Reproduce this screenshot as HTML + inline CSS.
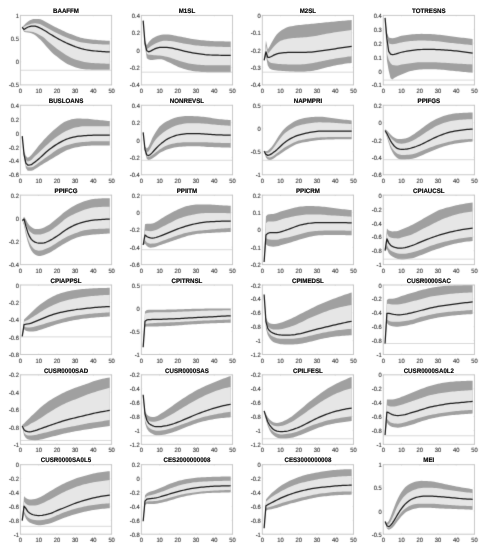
<!DOCTYPE html>
<html><head><meta charset="utf-8"><style>
html,body{margin:0;padding:0;background:#fff;}
body{width:487px;height:550px;overflow:hidden;}
svg{display:block;}
#w{width:487px;height:550px;filter:grayscale(1);}
.t{text-rendering:geometricPrecision;font-family:"Liberation Sans",sans-serif;font-size:6.20px;fill:#333333;stroke:#333;stroke-width:0.12px;}
.ti{text-rendering:geometricPrecision;font-family:"Liberation Sans",sans-serif;font-size:6.60px;font-weight:bold;fill:#000;stroke:#000;stroke-width:0.18px;}
</style></head><body><div id="w">
<svg width="487" height="550" viewBox="0 0 487 550">
<defs><filter id="bl" filterUnits="userSpaceOnUse" x="0" y="0" width="487" height="550" color-interpolation-filters="sRGB"><feConvolveMatrix order="3" kernelMatrix="1 8 1 8 70 8 1 8 1" divisor="106" edgeMode="duplicate" preserveAlpha="true"/></filter></defs>
<g filter="url(#bl)"><rect width="487" height="550" fill="#fff"/>
<g><polygon points="22.22,26.89 24.05,25.30 25.87,23.30 27.70,21.77 29.52,20.62 31.34,19.72 33.17,19.08 34.99,18.96 36.82,18.96 38.64,18.96 40.46,19.25 42.29,20.03 44.11,20.89 45.94,21.89 47.76,22.97 49.58,24.01 51.41,25.05 53.23,26.03 55.06,26.93 56.88,27.78 58.70,28.65 60.53,29.52 62.35,30.40 64.18,31.29 66.00,32.18 67.82,32.98 69.65,33.70 71.47,34.36 73.30,35.01 75.12,35.67 76.94,36.38 78.77,37.09 80.59,37.65 82.42,38.11 84.24,38.49 86.06,38.78 87.89,39.04 89.71,39.27 91.54,39.48 93.36,39.67 95.18,39.84 97.01,40.00 98.83,40.15 100.66,40.29 102.48,40.43 104.30,40.55 106.13,40.66 107.95,40.76 109.78,40.84 109.78,69.72 107.95,69.72 106.13,69.72 104.30,69.72 102.48,69.72 100.66,69.72 98.83,69.72 97.01,69.72 95.18,69.72 93.36,69.71 91.54,69.68 89.71,69.62 87.89,69.53 86.06,69.42 84.24,69.29 82.42,69.05 80.59,68.69 78.77,68.24 76.94,67.73 75.12,67.20 73.30,66.58 71.47,65.86 69.65,65.04 67.82,64.13 66.00,63.16 64.18,62.03 62.35,60.74 60.53,59.39 58.70,57.98 56.88,56.57 55.06,55.15 53.23,53.64 51.41,51.95 49.58,50.11 47.76,48.12 45.94,45.89 44.11,43.67 42.29,41.70 40.46,39.86 38.64,38.17 36.82,36.54 34.99,35.12 33.17,34.11 31.34,33.31 29.52,32.75 27.70,32.47 25.87,32.21 24.05,31.65 22.22,27.83" fill="#a0a0a0"/><polygon points="22.22,27.08 24.05,26.67 25.87,25.86 27.70,25.07 29.52,24.41 31.34,23.83 33.17,23.38 34.99,23.33 36.82,23.51 38.64,23.82 40.46,24.36 42.29,25.26 44.11,26.20 45.94,27.20 47.76,28.26 49.58,29.29 51.41,30.33 53.23,31.31 55.06,32.21 56.88,33.06 58.70,33.94 60.53,34.82 62.35,35.68 64.18,36.52 66.00,37.33 67.82,38.06 69.65,38.74 71.47,39.39 73.30,40.00 75.12,40.59 76.94,41.16 78.77,41.70 80.59,42.14 82.42,42.53 84.24,42.84 86.06,43.10 87.89,43.32 89.71,43.53 91.54,43.72 93.36,43.88 95.18,44.01 97.01,44.12 98.83,44.22 100.66,44.32 102.48,44.41 104.30,44.49 106.13,44.55 107.95,44.60 109.78,44.62 109.78,63.68 107.95,63.67 106.13,63.64 104.30,63.59 102.48,63.53 100.66,63.45 98.83,63.36 97.01,63.27 95.18,63.17 93.36,63.06 91.54,62.90 89.71,62.70 87.89,62.46 86.06,62.18 84.24,61.89 82.42,61.52 80.59,61.09 78.77,60.60 76.94,60.05 75.12,59.45 73.30,58.76 71.47,57.97 69.65,57.08 67.82,56.10 66.00,55.06 64.18,53.80 62.35,52.44 60.53,51.22 58.70,50.00 56.88,48.66 55.06,47.19 53.23,45.70 51.41,44.27 49.58,42.83 47.76,41.28 45.94,39.51 44.11,37.84 42.29,36.55 40.46,35.47 38.64,34.49 36.82,33.49 34.99,32.64 33.17,32.09 31.34,31.67 29.52,31.42 27.70,31.33 25.87,31.24 24.05,30.70 22.22,27.64" fill="#e6e6e6"/><line x1="20.40" y1="70.28" x2="111.60" y2="70.28" stroke="#c8c8c8" stroke-width="0.70"/><polyline points="22.22,27.26 24.05,29.52 25.87,28.27 27.70,27.23 29.52,26.52 31.34,26.13 33.17,26.13 34.99,26.20 36.82,26.65 38.64,27.32 40.46,28.24 42.29,29.18 44.11,30.21 45.94,31.34 47.76,32.56 49.58,33.69 51.41,34.77 53.23,35.86 55.06,36.97 56.88,38.07 58.70,39.09 60.53,40.04 62.35,40.96 64.18,41.86 66.00,42.74 67.82,43.57 69.65,44.39 71.47,45.18 73.30,45.93 75.12,46.62 76.94,47.26 78.77,47.88 80.59,48.46 82.42,48.98 84.24,49.42 86.06,49.76 87.89,50.07 89.71,50.35 91.54,50.60 93.36,50.81 95.18,51.00 97.01,51.17 98.83,51.33 100.66,51.48 102.48,51.62 104.30,51.74 106.13,51.84 107.95,51.92 109.78,51.98" fill="none" stroke="#1a1a1a" stroke-width="1.25" stroke-linejoin="round"/><rect x="20.40" y="15.40" width="91.20" height="69.50" fill="none" stroke="#c6c6c6" stroke-width="0.95"/><line x1="20.40" y1="84.90" x2="20.40" y2="84.00" stroke="#c6c6c6" stroke-width="0.5"/><line x1="20.40" y1="15.40" x2="20.40" y2="16.30" stroke="#c6c6c6" stroke-width="0.5"/><line x1="38.64" y1="84.90" x2="38.64" y2="84.00" stroke="#c6c6c6" stroke-width="0.5"/><line x1="38.64" y1="15.40" x2="38.64" y2="16.30" stroke="#c6c6c6" stroke-width="0.5"/><line x1="56.88" y1="84.90" x2="56.88" y2="84.00" stroke="#c6c6c6" stroke-width="0.5"/><line x1="56.88" y1="15.40" x2="56.88" y2="16.30" stroke="#c6c6c6" stroke-width="0.5"/><line x1="75.12" y1="84.90" x2="75.12" y2="84.00" stroke="#c6c6c6" stroke-width="0.5"/><line x1="75.12" y1="15.40" x2="75.12" y2="16.30" stroke="#c6c6c6" stroke-width="0.5"/><line x1="93.36" y1="84.90" x2="93.36" y2="84.00" stroke="#c6c6c6" stroke-width="0.5"/><line x1="93.36" y1="15.40" x2="93.36" y2="16.30" stroke="#c6c6c6" stroke-width="0.5"/><line x1="111.60" y1="84.90" x2="111.60" y2="84.00" stroke="#c6c6c6" stroke-width="0.5"/><line x1="111.60" y1="15.40" x2="111.60" y2="16.30" stroke="#c6c6c6" stroke-width="0.5"/><line x1="20.40" y1="84.90" x2="21.30" y2="84.90" stroke="#c6c6c6" stroke-width="0.5"/><line x1="111.60" y1="84.90" x2="110.70" y2="84.90" stroke="#c6c6c6" stroke-width="0.5"/><line x1="20.40" y1="61.73" x2="21.30" y2="61.73" stroke="#c6c6c6" stroke-width="0.5"/><line x1="111.60" y1="61.73" x2="110.70" y2="61.73" stroke="#c6c6c6" stroke-width="0.5"/><line x1="20.40" y1="38.57" x2="21.30" y2="38.57" stroke="#c6c6c6" stroke-width="0.5"/><line x1="111.60" y1="38.57" x2="110.70" y2="38.57" stroke="#c6c6c6" stroke-width="0.5"/><line x1="20.40" y1="15.40" x2="21.30" y2="15.40" stroke="#c6c6c6" stroke-width="0.5"/><line x1="111.60" y1="15.40" x2="110.70" y2="15.40" stroke="#c6c6c6" stroke-width="0.5"/><text transform="translate(18.90,87.49) scale(0.935,1)" text-anchor="end" class="t">-0.5</text><text transform="translate(18.90,64.32) scale(0.935,1)" text-anchor="end" class="t">0</text><text transform="translate(18.90,41.15) scale(0.935,1)" text-anchor="end" class="t">0.5</text><text transform="translate(18.90,17.99) scale(0.935,1)" text-anchor="end" class="t">1</text><text transform="translate(20.40,92.93) scale(0.935,1)" text-anchor="middle" class="t">0</text><text transform="translate(38.64,92.93) scale(0.935,1)" text-anchor="middle" class="t">10</text><text transform="translate(56.88,92.93) scale(0.935,1)" text-anchor="middle" class="t">20</text><text transform="translate(75.12,92.93) scale(0.935,1)" text-anchor="middle" class="t">30</text><text transform="translate(93.36,92.93) scale(0.935,1)" text-anchor="middle" class="t">40</text><text transform="translate(111.60,92.93) scale(0.935,1)" text-anchor="middle" class="t">50</text></g><g><polygon points="143.17,20.66 145.00,40.60 146.82,45.19 148.65,42.24 150.47,40.16 152.29,38.61 154.12,37.47 155.94,36.55 157.77,35.83 159.59,35.24 161.41,34.72 163.24,34.45 165.06,34.43 166.89,34.43 168.71,34.49 170.53,34.73 172.36,35.06 174.18,35.40 176.01,35.74 177.83,36.13 179.65,36.50 181.48,36.87 183.30,37.25 185.13,37.62 186.95,37.97 188.77,38.30 190.60,38.63 192.42,38.94 194.25,39.23 196.07,39.51 197.89,39.74 199.72,39.96 201.54,40.16 203.37,40.34 205.19,40.51 207.01,40.65 208.84,40.79 210.66,40.92 212.49,41.05 214.31,41.15 216.13,41.22 217.96,41.26 219.78,41.29 221.61,41.33 223.43,41.36 225.25,41.38 227.08,41.40 228.90,41.41 230.73,41.42 230.73,72.36 228.90,72.36 227.08,72.36 225.25,72.36 223.43,72.36 221.61,72.36 219.78,72.36 217.96,72.36 216.13,72.36 214.31,72.34 212.49,72.31 210.66,72.27 208.84,72.22 207.01,72.17 205.19,72.10 203.37,72.01 201.54,71.90 199.72,71.77 197.89,71.62 196.07,71.44 194.25,71.20 192.42,70.91 190.60,70.58 188.77,70.21 186.95,69.80 185.13,69.30 183.30,68.72 181.48,68.08 179.65,67.41 177.83,66.69 176.01,65.84 174.18,64.91 172.36,63.96 170.53,63.07 168.71,62.28 166.89,61.43 165.06,60.56 163.24,59.81 161.41,59.30 159.59,59.15 157.77,59.26 155.94,59.45 154.12,59.66 152.29,59.94 150.47,60.09 148.65,59.62 146.82,58.17 145.00,47.15 143.17,20.66" fill="#a0a0a0"/><polygon points="143.17,20.66 145.00,42.53 146.82,48.96 148.65,47.96 150.47,46.58 152.29,45.21 154.12,44.15 155.94,43.21 157.77,42.44 159.59,41.78 161.41,41.19 163.24,40.86 165.06,40.85 166.89,40.85 168.71,40.89 170.53,41.08 172.36,41.34 174.18,41.62 176.01,41.96 177.83,42.35 179.65,42.71 181.48,43.06 183.30,43.40 185.13,43.73 186.95,44.04 188.77,44.33 190.60,44.62 192.42,44.89 194.25,45.15 196.07,45.39 197.89,45.59 199.72,45.77 201.54,45.93 203.37,46.08 205.19,46.21 207.01,46.32 208.84,46.41 210.66,46.49 212.49,46.56 214.31,46.62 216.13,46.68 217.96,46.74 219.78,46.80 221.61,46.85 223.43,46.91 225.25,46.95 227.08,47.00 228.90,47.04 230.73,47.08 230.73,65.19 228.90,65.19 227.08,65.19 225.25,65.19 223.43,65.19 221.61,65.19 219.78,65.19 217.96,65.19 216.13,65.19 214.31,65.19 212.49,65.19 210.66,65.19 208.84,65.19 207.01,65.19 205.19,65.15 203.37,65.07 201.54,64.94 199.72,64.80 197.89,64.64 196.07,64.47 194.25,64.26 192.42,64.01 190.60,63.72 188.77,63.40 186.95,63.04 185.13,62.58 183.30,62.06 181.48,61.50 179.65,60.93 177.83,60.35 176.01,59.71 174.18,59.04 172.36,58.38 170.53,57.78 168.71,57.30 166.89,56.85 165.06,56.43 163.24,56.07 161.41,55.76 159.59,55.53 157.77,55.38 155.94,55.25 154.12,55.14 152.29,55.00 150.47,54.86 148.65,54.64 146.82,53.64 145.00,45.40 143.17,20.66" fill="#e6e6e6"/><line x1="141.35" y1="72.17" x2="232.55" y2="72.17" stroke="#c8c8c8" stroke-width="0.70"/><polyline points="143.17,20.66 145.00,43.49 146.82,50.81 148.65,51.79 150.47,51.22 152.29,50.12 154.12,49.20 155.94,48.45 157.77,47.88 159.59,47.48 161.41,47.34 163.24,47.27 165.06,47.30 166.89,47.41 168.71,47.58 170.53,47.87 172.36,48.23 174.18,48.61 176.01,49.03 177.83,49.48 179.65,49.93 181.48,50.38 183.30,50.84 185.13,51.29 186.95,51.71 188.77,52.09 190.60,52.46 192.42,52.81 194.25,53.13 196.07,53.44 197.89,53.71 199.72,53.98 201.54,54.23 203.37,54.46 205.19,54.66 207.01,54.80 208.84,54.91 210.66,55.00 212.49,55.07 214.31,55.13 216.13,55.18 217.96,55.22 219.78,55.25 221.61,55.29 223.43,55.32 225.25,55.34 227.08,55.36 228.90,55.37 230.73,55.38" fill="none" stroke="#1a1a1a" stroke-width="1.25" stroke-linejoin="round"/><rect x="141.35" y="15.40" width="91.20" height="69.50" fill="none" stroke="#c6c6c6" stroke-width="0.95"/><line x1="141.35" y1="84.90" x2="141.35" y2="84.00" stroke="#c6c6c6" stroke-width="0.5"/><line x1="141.35" y1="15.40" x2="141.35" y2="16.30" stroke="#c6c6c6" stroke-width="0.5"/><line x1="159.59" y1="84.90" x2="159.59" y2="84.00" stroke="#c6c6c6" stroke-width="0.5"/><line x1="159.59" y1="15.40" x2="159.59" y2="16.30" stroke="#c6c6c6" stroke-width="0.5"/><line x1="177.83" y1="84.90" x2="177.83" y2="84.00" stroke="#c6c6c6" stroke-width="0.5"/><line x1="177.83" y1="15.40" x2="177.83" y2="16.30" stroke="#c6c6c6" stroke-width="0.5"/><line x1="196.07" y1="84.90" x2="196.07" y2="84.00" stroke="#c6c6c6" stroke-width="0.5"/><line x1="196.07" y1="15.40" x2="196.07" y2="16.30" stroke="#c6c6c6" stroke-width="0.5"/><line x1="214.31" y1="84.90" x2="214.31" y2="84.00" stroke="#c6c6c6" stroke-width="0.5"/><line x1="214.31" y1="15.40" x2="214.31" y2="16.30" stroke="#c6c6c6" stroke-width="0.5"/><line x1="232.55" y1="84.90" x2="232.55" y2="84.00" stroke="#c6c6c6" stroke-width="0.5"/><line x1="232.55" y1="15.40" x2="232.55" y2="16.30" stroke="#c6c6c6" stroke-width="0.5"/><line x1="141.35" y1="84.90" x2="142.25" y2="84.90" stroke="#c6c6c6" stroke-width="0.5"/><line x1="232.55" y1="84.90" x2="231.65" y2="84.90" stroke="#c6c6c6" stroke-width="0.5"/><line x1="141.35" y1="67.53" x2="142.25" y2="67.53" stroke="#c6c6c6" stroke-width="0.5"/><line x1="232.55" y1="67.53" x2="231.65" y2="67.53" stroke="#c6c6c6" stroke-width="0.5"/><line x1="141.35" y1="50.15" x2="142.25" y2="50.15" stroke="#c6c6c6" stroke-width="0.5"/><line x1="232.55" y1="50.15" x2="231.65" y2="50.15" stroke="#c6c6c6" stroke-width="0.5"/><line x1="141.35" y1="32.77" x2="142.25" y2="32.77" stroke="#c6c6c6" stroke-width="0.5"/><line x1="232.55" y1="32.77" x2="231.65" y2="32.77" stroke="#c6c6c6" stroke-width="0.5"/><line x1="141.35" y1="15.40" x2="142.25" y2="15.40" stroke="#c6c6c6" stroke-width="0.5"/><line x1="232.55" y1="15.40" x2="231.65" y2="15.40" stroke="#c6c6c6" stroke-width="0.5"/><text transform="translate(139.85,87.49) scale(0.935,1)" text-anchor="end" class="t">-0.4</text><text transform="translate(139.85,70.11) scale(0.935,1)" text-anchor="end" class="t">-0.2</text><text transform="translate(139.85,52.74) scale(0.935,1)" text-anchor="end" class="t">0</text><text transform="translate(139.85,35.36) scale(0.935,1)" text-anchor="end" class="t">0.2</text><text transform="translate(139.85,17.99) scale(0.935,1)" text-anchor="end" class="t">0.4</text><text transform="translate(141.35,92.93) scale(0.935,1)" text-anchor="middle" class="t">0</text><text transform="translate(159.59,92.93) scale(0.935,1)" text-anchor="middle" class="t">10</text><text transform="translate(177.83,92.93) scale(0.935,1)" text-anchor="middle" class="t">20</text><text transform="translate(196.07,92.93) scale(0.935,1)" text-anchor="middle" class="t">30</text><text transform="translate(214.31,92.93) scale(0.935,1)" text-anchor="middle" class="t">40</text><text transform="translate(232.55,92.93) scale(0.935,1)" text-anchor="middle" class="t">50</text></g><g><polygon points="264.12,60.28 265.95,40.48 267.77,49.48 269.60,46.44 271.42,42.98 273.24,39.68 275.07,36.78 276.89,34.31 278.72,32.41 280.54,30.90 282.36,29.71 284.19,28.65 286.01,27.75 287.84,27.06 289.66,26.59 291.48,26.21 293.31,25.88 295.13,25.60 296.96,25.35 298.78,25.12 300.60,24.90 302.43,24.70 304.25,24.52 306.08,24.35 307.90,24.19 309.72,24.01 311.55,23.82 313.37,23.64 315.20,23.46 317.02,23.28 318.84,23.10 320.67,22.91 322.49,22.73 324.32,22.55 326.14,22.37 327.96,22.19 329.79,22.00 331.61,21.81 333.44,21.63 335.26,21.44 337.08,21.27 338.91,21.11 340.73,20.95 342.56,20.79 344.38,20.64 346.20,20.50 348.03,20.36 349.85,20.23 351.68,20.10 351.68,62.93 349.85,63.13 348.03,63.36 346.20,63.60 344.38,63.87 342.56,64.15 340.73,64.45 338.91,64.76 337.08,65.09 335.26,65.44 333.44,65.83 331.61,66.25 329.79,66.68 327.96,67.11 326.14,67.58 324.32,68.08 322.49,68.58 320.67,69.06 318.84,69.49 317.02,69.88 315.20,70.27 313.37,70.63 311.55,70.94 309.72,71.18 307.90,71.34 306.08,71.50 304.25,71.63 302.43,71.73 300.60,71.79 298.78,71.79 296.96,71.74 295.13,71.66 293.31,71.57 291.48,71.47 289.66,71.38 287.84,71.29 286.01,71.19 284.19,71.08 282.36,70.96 280.54,70.82 278.72,70.69 276.89,70.54 275.07,70.35 273.24,70.08 271.42,69.58 269.60,68.61 267.77,65.51 265.95,56.32 264.12,60.28" fill="#a0a0a0"/><polygon points="264.12,60.28 265.95,45.19 267.77,53.63 269.60,51.75 271.42,49.44 273.24,47.18 275.07,45.21 276.89,43.49 278.72,41.99 280.54,40.81 282.36,40.13 284.19,39.58 286.01,39.13 287.84,38.76 289.66,38.48 291.48,38.27 293.31,38.10 295.13,37.97 296.96,37.84 298.78,37.72 300.60,37.58 302.43,37.44 304.25,37.31 306.08,37.18 307.90,37.02 309.72,36.83 311.55,36.59 313.37,36.31 315.20,36.00 317.02,35.67 318.84,35.35 320.67,35.00 322.49,34.62 324.32,34.24 326.14,33.87 327.96,33.52 329.79,33.20 331.61,32.90 333.44,32.61 335.26,32.32 337.08,32.05 338.91,31.79 340.73,31.53 342.56,31.27 344.38,31.02 346.20,30.78 348.03,30.55 349.85,30.32 351.68,30.10 351.68,56.14 349.85,56.38 348.03,56.62 346.20,56.88 344.38,57.15 342.56,57.42 340.73,57.70 338.91,57.99 337.08,58.29 335.26,58.60 333.44,58.92 331.61,59.25 329.79,59.59 327.96,59.94 326.14,60.29 324.32,60.65 322.49,61.02 320.67,61.39 318.84,61.76 317.02,62.14 315.20,62.56 313.37,62.96 311.55,63.33 309.72,63.62 307.90,63.83 306.08,64.04 304.25,64.21 302.43,64.35 300.60,64.43 298.78,64.43 296.96,64.43 295.13,64.43 293.31,64.43 291.48,64.43 289.66,64.43 287.84,64.40 286.01,64.33 284.19,64.24 282.36,64.14 280.54,64.04 278.72,63.91 276.89,63.75 275.07,63.55 273.24,63.29 271.42,62.89 269.60,62.19 267.77,60.11 265.95,52.74 264.12,60.28" fill="#e6e6e6"/><line x1="262.30" y1="72.17" x2="353.50" y2="72.17" stroke="#c8c8c8" stroke-width="0.70"/><polyline points="264.12,60.28 265.95,51.79 267.77,57.42 269.60,57.26 271.42,56.47 273.24,55.42 275.07,54.61 276.89,53.93 278.72,53.48 280.54,53.16 282.36,52.94 284.19,52.73 286.01,52.56 287.84,52.43 289.66,52.36 291.48,52.36 293.31,52.36 295.13,52.36 296.96,52.36 298.78,52.36 300.60,52.36 302.43,52.34 304.25,52.31 306.08,52.27 307.90,52.21 309.72,52.15 311.55,52.03 313.37,51.86 315.20,51.65 317.02,51.43 318.84,51.21 320.67,50.98 322.49,50.73 324.32,50.47 326.14,50.20 327.96,49.93 329.79,49.65 331.61,49.36 333.44,49.06 335.26,48.76 337.08,48.47 338.91,48.19 340.73,47.91 342.56,47.64 344.38,47.37 346.20,47.11 348.03,46.84 349.85,46.58 351.68,46.33" fill="none" stroke="#1a1a1a" stroke-width="1.25" stroke-linejoin="round"/><rect x="262.30" y="15.40" width="91.20" height="69.50" fill="none" stroke="#c6c6c6" stroke-width="0.95"/><line x1="262.30" y1="84.90" x2="262.30" y2="84.00" stroke="#c6c6c6" stroke-width="0.5"/><line x1="262.30" y1="15.40" x2="262.30" y2="16.30" stroke="#c6c6c6" stroke-width="0.5"/><line x1="280.54" y1="84.90" x2="280.54" y2="84.00" stroke="#c6c6c6" stroke-width="0.5"/><line x1="280.54" y1="15.40" x2="280.54" y2="16.30" stroke="#c6c6c6" stroke-width="0.5"/><line x1="298.78" y1="84.90" x2="298.78" y2="84.00" stroke="#c6c6c6" stroke-width="0.5"/><line x1="298.78" y1="15.40" x2="298.78" y2="16.30" stroke="#c6c6c6" stroke-width="0.5"/><line x1="317.02" y1="84.90" x2="317.02" y2="84.00" stroke="#c6c6c6" stroke-width="0.5"/><line x1="317.02" y1="15.40" x2="317.02" y2="16.30" stroke="#c6c6c6" stroke-width="0.5"/><line x1="335.26" y1="84.90" x2="335.26" y2="84.00" stroke="#c6c6c6" stroke-width="0.5"/><line x1="335.26" y1="15.40" x2="335.26" y2="16.30" stroke="#c6c6c6" stroke-width="0.5"/><line x1="353.50" y1="84.90" x2="353.50" y2="84.00" stroke="#c6c6c6" stroke-width="0.5"/><line x1="353.50" y1="15.40" x2="353.50" y2="16.30" stroke="#c6c6c6" stroke-width="0.5"/><line x1="262.30" y1="84.90" x2="263.20" y2="84.90" stroke="#c6c6c6" stroke-width="0.5"/><line x1="353.50" y1="84.90" x2="352.60" y2="84.90" stroke="#c6c6c6" stroke-width="0.5"/><line x1="262.30" y1="67.53" x2="263.20" y2="67.53" stroke="#c6c6c6" stroke-width="0.5"/><line x1="353.50" y1="67.53" x2="352.60" y2="67.53" stroke="#c6c6c6" stroke-width="0.5"/><line x1="262.30" y1="50.15" x2="263.20" y2="50.15" stroke="#c6c6c6" stroke-width="0.5"/><line x1="353.50" y1="50.15" x2="352.60" y2="50.15" stroke="#c6c6c6" stroke-width="0.5"/><line x1="262.30" y1="32.77" x2="263.20" y2="32.77" stroke="#c6c6c6" stroke-width="0.5"/><line x1="353.50" y1="32.77" x2="352.60" y2="32.77" stroke="#c6c6c6" stroke-width="0.5"/><line x1="262.30" y1="15.40" x2="263.20" y2="15.40" stroke="#c6c6c6" stroke-width="0.5"/><line x1="353.50" y1="15.40" x2="352.60" y2="15.40" stroke="#c6c6c6" stroke-width="0.5"/><text transform="translate(260.80,87.49) scale(0.935,1)" text-anchor="end" class="t">-0.4</text><text transform="translate(260.80,70.11) scale(0.935,1)" text-anchor="end" class="t">-0.3</text><text transform="translate(260.80,52.74) scale(0.935,1)" text-anchor="end" class="t">-0.2</text><text transform="translate(260.80,35.36) scale(0.935,1)" text-anchor="end" class="t">-0.1</text><text transform="translate(260.80,17.99) scale(0.935,1)" text-anchor="end" class="t">0</text><text transform="translate(262.30,92.93) scale(0.935,1)" text-anchor="middle" class="t">0</text><text transform="translate(280.54,92.93) scale(0.935,1)" text-anchor="middle" class="t">10</text><text transform="translate(298.78,92.93) scale(0.935,1)" text-anchor="middle" class="t">20</text><text transform="translate(317.02,92.93) scale(0.935,1)" text-anchor="middle" class="t">30</text><text transform="translate(335.26,92.93) scale(0.935,1)" text-anchor="middle" class="t">40</text><text transform="translate(353.50,92.93) scale(0.935,1)" text-anchor="middle" class="t">50</text></g><g><polygon points="385.07,17.83 386.90,32.63 388.72,37.57 390.55,38.05 392.37,38.21 394.19,38.03 396.02,37.57 397.84,36.96 399.67,36.34 401.49,35.83 403.31,35.50 405.14,35.20 406.96,34.93 408.79,34.69 410.61,34.50 412.43,34.34 414.26,34.19 416.08,34.05 417.91,33.94 419.73,33.88 421.55,33.87 423.38,33.89 425.20,33.92 427.03,33.96 428.85,34.01 430.67,34.07 432.50,34.17 434.32,34.30 436.15,34.46 437.97,34.64 439.79,34.82 441.62,35.04 443.44,35.30 445.27,35.57 447.09,35.85 448.91,36.11 450.74,36.34 452.56,36.56 454.39,36.77 456.21,36.99 458.03,37.20 459.86,37.42 461.68,37.64 463.51,37.86 465.33,38.07 467.15,38.29 468.98,38.51 470.80,38.73 472.63,38.95 472.63,72.73 470.80,72.56 468.98,72.40 467.15,72.23 465.33,72.06 463.51,71.89 461.68,71.71 459.86,71.54 458.03,71.36 456.21,71.18 454.39,71.00 452.56,70.82 450.74,70.63 448.91,70.45 447.09,70.25 445.27,70.05 443.44,69.85 441.62,69.67 439.79,69.54 437.97,69.43 436.15,69.33 434.32,69.24 432.50,69.18 430.67,69.15 428.85,69.16 427.03,69.21 425.20,69.28 423.38,69.37 421.55,69.48 419.73,69.60 417.91,69.78 416.08,70.02 414.26,70.31 412.43,70.63 410.61,71.01 408.79,71.52 406.96,72.16 405.14,72.88 403.31,73.64 401.49,74.42 399.67,75.23 397.84,76.11 396.02,77.07 394.19,78.11 392.37,79.59 390.55,78.29 388.72,70.87 386.90,60.34 385.07,17.83" fill="#a0a0a0"/><polygon points="385.07,17.83 386.90,36.31 388.72,43.19 390.55,43.99 392.37,44.24 394.19,44.12 396.02,43.78 397.84,43.32 399.67,42.84 401.49,42.43 403.31,42.12 405.14,41.83 406.96,41.55 408.79,41.31 410.61,41.10 412.43,40.94 414.26,40.79 416.08,40.65 417.91,40.55 419.73,40.48 421.55,40.48 423.38,40.52 425.20,40.59 427.03,40.68 428.85,40.78 430.67,40.87 432.50,40.96 434.32,41.05 436.15,41.16 437.97,41.28 439.79,41.43 441.62,41.63 443.44,41.89 445.27,42.18 447.09,42.46 448.91,42.71 450.74,42.92 452.56,43.10 454.39,43.28 456.21,43.45 458.03,43.63 459.86,43.81 461.68,44.00 463.51,44.19 465.33,44.39 467.15,44.58 468.98,44.78 470.80,44.98 472.63,45.18 472.63,64.43 470.80,64.34 468.98,64.24 467.15,64.15 465.33,64.05 463.51,63.95 461.68,63.85 459.86,63.75 458.03,63.65 456.21,63.54 454.39,63.43 452.56,63.32 450.74,63.21 448.91,63.10 447.09,62.99 445.27,62.87 443.44,62.76 441.62,62.65 439.79,62.55 437.97,62.46 436.15,62.36 434.32,62.27 432.50,62.20 430.67,62.17 428.85,62.17 427.03,62.17 425.20,62.17 423.38,62.17 421.55,62.17 419.73,62.19 417.91,62.31 416.08,62.50 414.26,62.74 412.43,62.98 410.61,63.20 408.79,63.42 406.96,63.65 405.14,63.90 403.31,64.19 401.49,64.52 399.67,65.06 397.84,65.52 396.02,65.53 394.19,65.33 392.37,64.98 390.55,63.29 388.72,60.01 386.90,53.20 385.07,17.83" fill="#e6e6e6"/><line x1="383.25" y1="80.09" x2="474.45" y2="80.09" stroke="#c8c8c8" stroke-width="0.70"/><polyline points="385.07,17.83 386.90,38.92 388.72,51.47 390.55,54.20 392.37,54.57 394.19,54.27 396.02,53.87 397.84,53.34 399.67,52.77 401.49,52.26 403.31,51.86 405.14,51.49 406.96,51.15 408.79,50.84 410.61,50.57 412.43,50.33 414.26,50.10 416.08,49.89 417.91,49.71 419.73,49.58 421.55,49.50 423.38,49.45 425.20,49.40 427.03,49.37 428.85,49.34 430.67,49.34 432.50,49.37 434.32,49.44 436.15,49.53 437.97,49.63 439.79,49.72 441.62,49.81 443.44,49.91 445.27,50.02 447.09,50.14 448.91,50.27 450.74,50.41 452.56,50.58 454.39,50.77 456.21,50.96 458.03,51.17 459.86,51.38 461.68,51.59 463.51,51.82 465.33,52.06 467.15,52.30 468.98,52.56 470.80,52.82 472.63,53.10" fill="none" stroke="#1a1a1a" stroke-width="1.25" stroke-linejoin="round"/><rect x="383.25" y="15.40" width="91.20" height="69.50" fill="none" stroke="#c6c6c6" stroke-width="0.95"/><line x1="383.25" y1="84.90" x2="383.25" y2="84.00" stroke="#c6c6c6" stroke-width="0.5"/><line x1="383.25" y1="15.40" x2="383.25" y2="16.30" stroke="#c6c6c6" stroke-width="0.5"/><line x1="401.49" y1="84.90" x2="401.49" y2="84.00" stroke="#c6c6c6" stroke-width="0.5"/><line x1="401.49" y1="15.40" x2="401.49" y2="16.30" stroke="#c6c6c6" stroke-width="0.5"/><line x1="419.73" y1="84.90" x2="419.73" y2="84.00" stroke="#c6c6c6" stroke-width="0.5"/><line x1="419.73" y1="15.40" x2="419.73" y2="16.30" stroke="#c6c6c6" stroke-width="0.5"/><line x1="437.97" y1="84.90" x2="437.97" y2="84.00" stroke="#c6c6c6" stroke-width="0.5"/><line x1="437.97" y1="15.40" x2="437.97" y2="16.30" stroke="#c6c6c6" stroke-width="0.5"/><line x1="456.21" y1="84.90" x2="456.21" y2="84.00" stroke="#c6c6c6" stroke-width="0.5"/><line x1="456.21" y1="15.40" x2="456.21" y2="16.30" stroke="#c6c6c6" stroke-width="0.5"/><line x1="474.45" y1="84.90" x2="474.45" y2="84.00" stroke="#c6c6c6" stroke-width="0.5"/><line x1="474.45" y1="15.40" x2="474.45" y2="16.30" stroke="#c6c6c6" stroke-width="0.5"/><line x1="383.25" y1="84.90" x2="384.15" y2="84.90" stroke="#c6c6c6" stroke-width="0.5"/><line x1="474.45" y1="84.90" x2="473.55" y2="84.90" stroke="#c6c6c6" stroke-width="0.5"/><line x1="383.25" y1="71.00" x2="384.15" y2="71.00" stroke="#c6c6c6" stroke-width="0.5"/><line x1="474.45" y1="71.00" x2="473.55" y2="71.00" stroke="#c6c6c6" stroke-width="0.5"/><line x1="383.25" y1="57.10" x2="384.15" y2="57.10" stroke="#c6c6c6" stroke-width="0.5"/><line x1="474.45" y1="57.10" x2="473.55" y2="57.10" stroke="#c6c6c6" stroke-width="0.5"/><line x1="383.25" y1="43.20" x2="384.15" y2="43.20" stroke="#c6c6c6" stroke-width="0.5"/><line x1="474.45" y1="43.20" x2="473.55" y2="43.20" stroke="#c6c6c6" stroke-width="0.5"/><line x1="383.25" y1="29.30" x2="384.15" y2="29.30" stroke="#c6c6c6" stroke-width="0.5"/><line x1="474.45" y1="29.30" x2="473.55" y2="29.30" stroke="#c6c6c6" stroke-width="0.5"/><line x1="383.25" y1="15.40" x2="384.15" y2="15.40" stroke="#c6c6c6" stroke-width="0.5"/><line x1="474.45" y1="15.40" x2="473.55" y2="15.40" stroke="#c6c6c6" stroke-width="0.5"/><text transform="translate(381.75,87.49) scale(0.935,1)" text-anchor="end" class="t">-0.1</text><text transform="translate(381.75,73.59) scale(0.935,1)" text-anchor="end" class="t">0</text><text transform="translate(381.75,59.69) scale(0.935,1)" text-anchor="end" class="t">0.1</text><text transform="translate(381.75,45.79) scale(0.935,1)" text-anchor="end" class="t">0.2</text><text transform="translate(381.75,31.89) scale(0.935,1)" text-anchor="end" class="t">0.3</text><text transform="translate(381.75,17.99) scale(0.935,1)" text-anchor="end" class="t">0.4</text><text transform="translate(383.25,92.93) scale(0.935,1)" text-anchor="middle" class="t">0</text><text transform="translate(401.49,92.93) scale(0.935,1)" text-anchor="middle" class="t">10</text><text transform="translate(419.73,92.93) scale(0.935,1)" text-anchor="middle" class="t">20</text><text transform="translate(437.97,92.93) scale(0.935,1)" text-anchor="middle" class="t">30</text><text transform="translate(456.21,92.93) scale(0.935,1)" text-anchor="middle" class="t">40</text><text transform="translate(474.45,92.93) scale(0.935,1)" text-anchor="middle" class="t">50</text></g><g><polygon points="22.22,136.13 24.05,151.54 25.87,155.97 27.70,157.82 29.52,156.72 31.34,155.02 33.17,152.80 34.99,150.43 36.82,148.14 38.64,145.86 40.46,143.73 42.29,141.64 44.11,139.60 45.94,137.64 47.76,135.76 49.58,133.96 51.41,132.20 53.23,130.50 55.06,128.89 56.88,127.39 58.70,126.00 60.53,124.62 62.35,123.29 64.18,122.10 66.00,121.14 67.82,120.47 69.65,119.88 71.47,119.36 73.30,118.94 75.12,118.67 76.94,118.59 78.77,118.60 80.59,118.62 82.42,118.66 84.24,118.71 86.06,118.77 87.89,118.87 89.71,119.04 91.54,119.25 93.36,119.47 95.18,119.68 97.01,119.86 98.83,120.03 100.66,120.20 102.48,120.37 104.30,120.54 106.13,120.71 107.95,120.88 109.78,121.04 109.78,145.38 107.95,145.38 106.13,145.38 104.30,145.38 102.48,145.38 100.66,145.38 98.83,145.38 97.01,145.38 95.18,145.38 93.36,145.42 91.54,145.52 89.71,145.64 87.89,145.79 86.06,145.95 84.24,146.12 82.42,146.34 80.59,146.59 78.77,146.89 76.94,147.21 75.12,147.59 73.30,148.06 71.47,148.60 69.65,149.20 67.82,149.87 66.00,150.61 64.18,151.51 62.35,152.51 60.53,153.58 58.70,154.66 56.88,155.71 55.06,156.78 53.23,157.88 51.41,158.99 49.58,160.10 47.76,161.19 45.94,162.28 44.11,163.35 42.29,164.44 40.46,165.54 38.64,166.67 36.82,167.89 34.99,169.03 33.17,170.21 31.34,170.85 29.52,170.85 27.70,170.85 25.87,168.06 24.05,157.71 22.22,136.13" fill="#a0a0a0"/><polygon points="22.22,136.13 24.05,154.09 25.87,160.12 27.70,161.60 29.52,161.07 31.34,160.01 33.17,158.09 34.99,156.06 36.82,154.40 38.64,152.78 40.46,151.08 42.29,149.33 44.11,147.57 45.94,145.84 47.76,144.18 49.58,142.61 51.41,141.06 53.23,139.56 55.06,138.12 56.88,136.76 58.70,135.50 60.53,134.27 62.35,133.10 64.18,132.01 66.00,131.04 67.82,130.21 69.65,129.45 71.47,128.74 73.30,128.11 75.12,127.60 76.94,127.22 78.77,126.90 80.59,126.60 82.42,126.36 84.24,126.20 86.06,126.13 87.89,126.13 89.71,126.13 91.54,126.13 93.36,126.13 95.18,126.13 97.01,126.13 98.83,126.13 100.66,126.13 102.48,126.13 104.30,126.13 106.13,126.13 107.95,126.13 109.78,126.13 109.78,141.23 107.95,141.23 106.13,141.23 104.30,141.23 102.48,141.23 100.66,141.23 98.83,141.23 97.01,141.23 95.18,141.23 93.36,141.27 91.54,141.37 89.71,141.51 87.89,141.65 86.06,141.80 84.24,141.94 82.42,142.09 80.59,142.26 78.77,142.46 76.94,142.70 75.12,143.00 73.30,143.40 71.47,143.88 69.65,144.42 67.82,144.99 66.00,145.61 64.18,146.30 62.35,147.08 60.53,147.93 58.70,148.85 56.88,149.85 55.06,151.03 53.23,152.33 51.41,153.69 49.58,155.05 47.76,156.35 45.94,157.61 44.11,158.87 42.29,160.13 40.46,161.42 38.64,162.73 36.82,164.17 34.99,165.45 33.17,166.64 31.34,167.26 29.52,167.26 27.70,167.26 25.87,165.41 24.05,156.15 22.22,136.13" fill="#e6e6e6"/><polyline points="22.22,136.13 24.05,154.59 25.87,163.14 27.70,165.00 29.52,165.00 31.34,164.74 33.17,163.36 34.99,161.94 36.82,160.50 38.64,158.98 40.46,157.40 42.29,155.71 44.11,154.00 45.94,152.32 47.76,150.75 49.58,149.31 51.41,147.94 53.23,146.62 55.06,145.38 56.88,144.22 58.70,143.14 60.53,142.10 62.35,141.12 64.18,140.21 66.00,139.42 67.82,138.76 69.65,138.17 71.47,137.63 73.30,137.16 75.12,136.77 76.94,136.47 78.77,136.23 80.59,136.02 82.42,135.84 84.24,135.69 86.06,135.57 87.89,135.46 89.71,135.37 91.54,135.28 93.36,135.22 95.18,135.19 97.01,135.19 98.83,135.19 100.66,135.19 102.48,135.19 104.30,135.19 106.13,135.19 107.95,135.19 109.78,135.19" fill="none" stroke="#1a1a1a" stroke-width="1.25" stroke-linejoin="round"/><rect x="20.40" y="105.26" width="91.20" height="69.50" fill="none" stroke="#c6c6c6" stroke-width="0.95"/><line x1="20.40" y1="174.76" x2="20.40" y2="173.86" stroke="#c6c6c6" stroke-width="0.5"/><line x1="20.40" y1="105.26" x2="20.40" y2="106.16" stroke="#c6c6c6" stroke-width="0.5"/><line x1="38.64" y1="174.76" x2="38.64" y2="173.86" stroke="#c6c6c6" stroke-width="0.5"/><line x1="38.64" y1="105.26" x2="38.64" y2="106.16" stroke="#c6c6c6" stroke-width="0.5"/><line x1="56.88" y1="174.76" x2="56.88" y2="173.86" stroke="#c6c6c6" stroke-width="0.5"/><line x1="56.88" y1="105.26" x2="56.88" y2="106.16" stroke="#c6c6c6" stroke-width="0.5"/><line x1="75.12" y1="174.76" x2="75.12" y2="173.86" stroke="#c6c6c6" stroke-width="0.5"/><line x1="75.12" y1="105.26" x2="75.12" y2="106.16" stroke="#c6c6c6" stroke-width="0.5"/><line x1="93.36" y1="174.76" x2="93.36" y2="173.86" stroke="#c6c6c6" stroke-width="0.5"/><line x1="93.36" y1="105.26" x2="93.36" y2="106.16" stroke="#c6c6c6" stroke-width="0.5"/><line x1="111.60" y1="174.76" x2="111.60" y2="173.86" stroke="#c6c6c6" stroke-width="0.5"/><line x1="111.60" y1="105.26" x2="111.60" y2="106.16" stroke="#c6c6c6" stroke-width="0.5"/><line x1="20.40" y1="174.76" x2="21.30" y2="174.76" stroke="#c6c6c6" stroke-width="0.5"/><line x1="111.60" y1="174.76" x2="110.70" y2="174.76" stroke="#c6c6c6" stroke-width="0.5"/><line x1="20.40" y1="160.86" x2="21.30" y2="160.86" stroke="#c6c6c6" stroke-width="0.5"/><line x1="111.60" y1="160.86" x2="110.70" y2="160.86" stroke="#c6c6c6" stroke-width="0.5"/><line x1="20.40" y1="146.96" x2="21.30" y2="146.96" stroke="#c6c6c6" stroke-width="0.5"/><line x1="111.60" y1="146.96" x2="110.70" y2="146.96" stroke="#c6c6c6" stroke-width="0.5"/><line x1="20.40" y1="133.06" x2="21.30" y2="133.06" stroke="#c6c6c6" stroke-width="0.5"/><line x1="111.60" y1="133.06" x2="110.70" y2="133.06" stroke="#c6c6c6" stroke-width="0.5"/><line x1="20.40" y1="119.16" x2="21.30" y2="119.16" stroke="#c6c6c6" stroke-width="0.5"/><line x1="111.60" y1="119.16" x2="110.70" y2="119.16" stroke="#c6c6c6" stroke-width="0.5"/><line x1="20.40" y1="105.26" x2="21.30" y2="105.26" stroke="#c6c6c6" stroke-width="0.5"/><line x1="111.60" y1="105.26" x2="110.70" y2="105.26" stroke="#c6c6c6" stroke-width="0.5"/><text transform="translate(18.90,177.35) scale(0.935,1)" text-anchor="end" class="t">-0.6</text><text transform="translate(18.90,163.45) scale(0.935,1)" text-anchor="end" class="t">-0.4</text><text transform="translate(18.90,149.55) scale(0.935,1)" text-anchor="end" class="t">-0.2</text><text transform="translate(18.90,135.65) scale(0.935,1)" text-anchor="end" class="t">0</text><text transform="translate(18.90,121.75) scale(0.935,1)" text-anchor="end" class="t">0.2</text><text transform="translate(18.90,107.85) scale(0.935,1)" text-anchor="end" class="t">0.4</text><text transform="translate(20.40,182.79) scale(0.935,1)" text-anchor="middle" class="t">0</text><text transform="translate(38.64,182.79) scale(0.935,1)" text-anchor="middle" class="t">10</text><text transform="translate(56.88,182.79) scale(0.935,1)" text-anchor="middle" class="t">20</text><text transform="translate(75.12,182.79) scale(0.935,1)" text-anchor="middle" class="t">30</text><text transform="translate(93.36,182.79) scale(0.935,1)" text-anchor="middle" class="t">40</text><text transform="translate(111.60,182.79) scale(0.935,1)" text-anchor="middle" class="t">50</text></g><g><polygon points="143.17,132.36 145.00,146.56 146.82,148.40 148.65,146.38 150.47,142.46 152.29,138.10 154.12,134.69 155.94,131.68 157.77,128.93 159.59,126.62 161.41,124.98 163.24,123.57 165.06,122.35 166.89,121.30 168.71,120.38 170.53,119.56 172.36,118.79 174.18,118.10 176.01,117.51 177.83,117.06 179.65,116.75 181.48,116.49 183.30,116.26 185.13,116.08 186.95,115.97 188.77,115.95 190.60,115.98 192.42,116.04 194.25,116.13 196.07,116.23 197.89,116.33 199.72,116.46 201.54,116.63 203.37,116.82 205.19,117.03 207.01,117.25 208.84,117.51 210.66,117.81 212.49,118.14 214.31,118.45 216.13,118.72 217.96,118.94 219.78,119.15 221.61,119.35 223.43,119.53 225.25,119.70 227.08,119.85 228.90,119.98 230.73,120.09 230.73,147.64 228.90,147.61 227.08,147.56 225.25,147.52 223.43,147.47 221.61,147.42 219.78,147.37 217.96,147.31 216.13,147.25 214.31,147.19 212.49,147.12 210.66,147.05 208.84,146.97 207.01,146.88 205.19,146.77 203.37,146.62 201.54,146.48 199.72,146.37 197.89,146.32 196.07,146.32 194.25,146.32 192.42,146.32 190.60,146.32 188.77,146.32 186.95,146.34 185.13,146.40 183.30,146.51 181.48,146.65 179.65,146.81 177.83,146.99 176.01,147.25 174.18,147.59 172.36,147.99 170.53,148.45 168.71,148.95 166.89,149.57 165.06,150.30 163.24,151.14 161.41,152.08 159.59,153.11 157.77,154.45 155.94,155.88 154.12,157.36 152.29,158.61 150.47,159.57 148.65,160.09 146.82,159.12 145.00,152.16 143.17,132.36" fill="#a0a0a0"/><polygon points="143.17,132.36 145.00,148.50 146.82,152.17 148.65,151.15 150.47,148.26 152.29,144.69 154.12,141.76 155.94,139.17 157.77,137.14 159.59,135.45 161.41,133.93 163.24,132.50 165.06,131.18 166.89,129.97 168.71,128.91 170.53,127.98 172.36,127.11 174.18,126.32 176.01,125.62 177.83,125.05 179.65,124.61 181.48,124.20 183.30,123.82 185.13,123.53 186.95,123.34 188.77,123.30 190.60,123.30 192.42,123.30 194.25,123.30 196.07,123.30 197.89,123.30 199.72,123.34 201.54,123.44 203.37,123.57 205.19,123.72 207.01,123.86 208.84,124.02 210.66,124.20 212.49,124.40 214.31,124.60 216.13,124.78 217.96,124.92 219.78,125.06 221.61,125.20 223.43,125.33 225.25,125.45 227.08,125.56 228.90,125.66 230.73,125.75 230.73,143.11 228.90,143.08 227.08,143.04 225.25,142.99 223.43,142.94 221.61,142.89 219.78,142.84 217.96,142.78 216.13,142.72 214.31,142.65 212.49,142.57 210.66,142.49 208.84,142.41 207.01,142.36 205.19,142.31 203.37,142.26 201.54,142.21 199.72,142.18 197.89,142.17 196.07,142.17 194.25,142.17 192.42,142.17 190.60,142.17 188.77,142.17 186.95,142.18 185.13,142.25 183.30,142.36 181.48,142.50 179.65,142.66 177.83,142.84 176.01,143.09 174.18,143.43 172.36,143.83 170.53,144.29 168.71,144.81 166.89,145.50 165.06,146.36 163.24,147.34 161.41,148.41 159.59,149.53 157.77,150.88 155.94,152.30 154.12,153.74 152.29,155.02 150.47,156.21 148.65,156.88 146.82,156.30 145.00,150.44 143.17,132.36" fill="#e6e6e6"/><line x1="141.35" y1="160.28" x2="232.55" y2="160.28" stroke="#c8c8c8" stroke-width="0.70"/><polyline points="143.17,132.36 145.00,149.48 146.82,154.98 148.65,155.56 150.47,154.42 152.29,152.65 154.12,150.51 155.94,148.53 157.77,146.62 159.59,144.88 161.41,143.36 163.24,141.90 165.06,140.55 166.89,139.34 168.71,138.32 170.53,137.48 172.36,136.72 174.18,136.04 176.01,135.46 177.83,135.00 179.65,134.66 181.48,134.34 183.30,134.06 185.13,133.84 186.95,133.71 188.77,133.68 190.60,133.68 192.42,133.68 194.25,133.68 196.07,133.68 197.89,133.68 199.72,133.73 201.54,133.83 203.37,133.97 205.19,134.11 207.01,134.24 208.84,134.35 210.66,134.48 212.49,134.60 214.31,134.71 216.13,134.79 217.96,134.86 219.78,134.93 221.61,134.99 223.43,135.05 225.25,135.10 227.08,135.14 228.90,135.17 230.73,135.19" fill="none" stroke="#1a1a1a" stroke-width="1.25" stroke-linejoin="round"/><rect x="141.35" y="105.26" width="91.20" height="69.50" fill="none" stroke="#c6c6c6" stroke-width="0.95"/><line x1="141.35" y1="174.76" x2="141.35" y2="173.86" stroke="#c6c6c6" stroke-width="0.5"/><line x1="141.35" y1="105.26" x2="141.35" y2="106.16" stroke="#c6c6c6" stroke-width="0.5"/><line x1="159.59" y1="174.76" x2="159.59" y2="173.86" stroke="#c6c6c6" stroke-width="0.5"/><line x1="159.59" y1="105.26" x2="159.59" y2="106.16" stroke="#c6c6c6" stroke-width="0.5"/><line x1="177.83" y1="174.76" x2="177.83" y2="173.86" stroke="#c6c6c6" stroke-width="0.5"/><line x1="177.83" y1="105.26" x2="177.83" y2="106.16" stroke="#c6c6c6" stroke-width="0.5"/><line x1="196.07" y1="174.76" x2="196.07" y2="173.86" stroke="#c6c6c6" stroke-width="0.5"/><line x1="196.07" y1="105.26" x2="196.07" y2="106.16" stroke="#c6c6c6" stroke-width="0.5"/><line x1="214.31" y1="174.76" x2="214.31" y2="173.86" stroke="#c6c6c6" stroke-width="0.5"/><line x1="214.31" y1="105.26" x2="214.31" y2="106.16" stroke="#c6c6c6" stroke-width="0.5"/><line x1="232.55" y1="174.76" x2="232.55" y2="173.86" stroke="#c6c6c6" stroke-width="0.5"/><line x1="232.55" y1="105.26" x2="232.55" y2="106.16" stroke="#c6c6c6" stroke-width="0.5"/><line x1="141.35" y1="174.76" x2="142.25" y2="174.76" stroke="#c6c6c6" stroke-width="0.5"/><line x1="232.55" y1="174.76" x2="231.65" y2="174.76" stroke="#c6c6c6" stroke-width="0.5"/><line x1="141.35" y1="157.38" x2="142.25" y2="157.38" stroke="#c6c6c6" stroke-width="0.5"/><line x1="232.55" y1="157.38" x2="231.65" y2="157.38" stroke="#c6c6c6" stroke-width="0.5"/><line x1="141.35" y1="140.01" x2="142.25" y2="140.01" stroke="#c6c6c6" stroke-width="0.5"/><line x1="232.55" y1="140.01" x2="231.65" y2="140.01" stroke="#c6c6c6" stroke-width="0.5"/><line x1="141.35" y1="122.63" x2="142.25" y2="122.63" stroke="#c6c6c6" stroke-width="0.5"/><line x1="232.55" y1="122.63" x2="231.65" y2="122.63" stroke="#c6c6c6" stroke-width="0.5"/><line x1="141.35" y1="105.26" x2="142.25" y2="105.26" stroke="#c6c6c6" stroke-width="0.5"/><line x1="232.55" y1="105.26" x2="231.65" y2="105.26" stroke="#c6c6c6" stroke-width="0.5"/><text transform="translate(139.85,177.35) scale(0.935,1)" text-anchor="end" class="t">-0.4</text><text transform="translate(139.85,159.97) scale(0.935,1)" text-anchor="end" class="t">-0.2</text><text transform="translate(139.85,142.60) scale(0.935,1)" text-anchor="end" class="t">0</text><text transform="translate(139.85,125.22) scale(0.935,1)" text-anchor="end" class="t">0.2</text><text transform="translate(139.85,107.85) scale(0.935,1)" text-anchor="end" class="t">0.4</text><text transform="translate(141.35,182.79) scale(0.935,1)" text-anchor="middle" class="t">0</text><text transform="translate(159.59,182.79) scale(0.935,1)" text-anchor="middle" class="t">10</text><text transform="translate(177.83,182.79) scale(0.935,1)" text-anchor="middle" class="t">20</text><text transform="translate(196.07,182.79) scale(0.935,1)" text-anchor="middle" class="t">30</text><text transform="translate(214.31,182.79) scale(0.935,1)" text-anchor="middle" class="t">40</text><text transform="translate(232.55,182.79) scale(0.935,1)" text-anchor="middle" class="t">50</text></g><g><polygon points="264.12,150.85 265.95,151.21 267.77,150.80 269.60,149.12 271.42,147.14 273.24,144.75 275.07,141.95 276.89,138.93 278.72,136.08 280.54,133.39 282.36,131.09 284.19,129.06 286.01,127.34 287.84,125.79 289.66,124.45 291.48,123.24 293.31,122.11 295.13,121.09 296.96,120.25 298.78,119.61 300.60,119.05 302.43,118.53 304.25,118.08 306.08,117.71 307.90,117.42 309.72,117.22 311.55,117.05 313.37,116.91 315.20,116.80 317.02,116.72 318.84,116.70 320.67,116.75 322.49,116.87 324.32,117.05 326.14,117.24 327.96,117.44 329.79,117.65 331.61,117.90 333.44,118.17 335.26,118.45 337.08,118.71 338.91,118.95 340.73,119.18 342.56,119.41 344.38,119.63 346.20,119.85 348.03,120.06 349.85,120.27 351.68,120.47 351.68,139.34 349.85,139.34 348.03,139.34 346.20,139.34 344.38,139.34 342.56,139.34 340.73,139.34 338.91,139.34 337.08,139.34 335.26,139.36 333.44,139.39 331.61,139.43 329.79,139.48 327.96,139.53 326.14,139.60 324.32,139.69 322.49,139.81 320.67,139.94 318.84,140.08 317.02,140.26 315.20,140.48 313.37,140.75 311.55,141.04 309.72,141.33 307.90,141.63 306.08,141.93 304.25,142.24 302.43,142.58 300.60,142.97 298.78,143.43 296.96,143.99 295.13,144.78 293.31,145.74 291.48,146.77 289.66,147.81 287.84,148.89 286.01,150.04 284.19,151.23 282.36,152.48 280.54,153.72 278.72,154.89 276.89,156.10 275.07,157.59 273.24,158.82 271.42,159.67 269.60,160.09 267.77,159.52 265.95,157.49 264.12,151.79" fill="#a0a0a0"/><polygon points="264.12,151.04 265.95,152.86 267.77,152.94 269.60,152.15 271.42,150.47 273.24,148.13 275.07,145.68 276.89,143.05 278.72,140.43 280.54,137.90 282.36,135.68 284.19,133.81 286.01,132.26 287.84,130.89 289.66,129.71 291.48,128.65 293.31,127.67 295.13,126.80 296.96,126.06 298.78,125.49 300.60,124.99 302.43,124.54 304.25,124.14 306.08,123.79 307.90,123.49 309.72,123.23 311.55,122.98 313.37,122.74 315.20,122.54 317.02,122.40 318.84,122.36 320.67,122.37 322.49,122.40 324.32,122.44 326.14,122.49 327.96,122.54 329.79,122.61 331.61,122.71 333.44,122.83 335.26,122.96 337.08,123.08 338.91,123.20 340.73,123.31 342.56,123.43 344.38,123.55 346.20,123.68 348.03,123.80 349.85,123.92 351.68,124.05 351.68,136.89 349.85,136.89 348.03,136.89 346.20,136.89 344.38,136.89 342.56,136.89 340.73,136.89 338.91,136.89 337.08,136.89 335.26,136.90 333.44,136.94 331.61,136.98 329.79,137.03 327.96,137.08 326.14,137.13 324.32,137.19 322.49,137.26 320.67,137.34 318.84,137.44 317.02,137.58 315.20,137.76 313.37,137.99 311.55,138.24 309.72,138.51 307.90,138.79 306.08,139.07 304.25,139.39 302.43,139.74 300.60,140.14 298.78,140.60 296.96,141.15 295.13,141.92 293.31,142.83 291.48,143.81 289.66,144.78 287.84,145.73 286.01,146.74 284.19,147.84 282.36,149.14 280.54,150.55 278.72,151.91 276.89,153.28 275.07,154.76 273.24,155.99 271.42,156.96 269.60,157.45 267.77,157.04 265.95,155.61 264.12,151.60" fill="#e6e6e6"/><line x1="262.30" y1="160.28" x2="353.50" y2="160.28" stroke="#c8c8c8" stroke-width="0.70"/><polyline points="264.12,151.23 265.95,154.42 267.77,155.37 269.60,154.87 271.42,153.92 273.24,152.61 275.07,151.20 276.89,149.65 278.72,147.99 280.54,146.27 282.36,144.52 284.19,142.89 286.01,141.50 287.84,140.24 289.66,139.13 291.48,138.15 293.31,137.24 295.13,136.42 296.96,135.70 298.78,135.09 300.60,134.54 302.43,134.04 304.25,133.58 306.08,133.17 307.90,132.79 309.72,132.46 311.55,132.13 313.37,131.81 315.20,131.54 317.02,131.33 318.84,131.22 320.67,131.16 322.49,131.11 324.32,131.07 326.14,131.05 327.96,131.04 329.79,131.04 331.61,131.04 333.44,131.04 335.26,131.04 337.08,131.04 338.91,131.04 340.73,131.05 342.56,131.07 344.38,131.09 346.20,131.12 348.03,131.15 349.85,131.19 351.68,131.23" fill="none" stroke="#1a1a1a" stroke-width="1.25" stroke-linejoin="round"/><rect x="262.30" y="105.26" width="91.20" height="69.50" fill="none" stroke="#c6c6c6" stroke-width="0.95"/><line x1="262.30" y1="174.76" x2="262.30" y2="173.86" stroke="#c6c6c6" stroke-width="0.5"/><line x1="262.30" y1="105.26" x2="262.30" y2="106.16" stroke="#c6c6c6" stroke-width="0.5"/><line x1="280.54" y1="174.76" x2="280.54" y2="173.86" stroke="#c6c6c6" stroke-width="0.5"/><line x1="280.54" y1="105.26" x2="280.54" y2="106.16" stroke="#c6c6c6" stroke-width="0.5"/><line x1="298.78" y1="174.76" x2="298.78" y2="173.86" stroke="#c6c6c6" stroke-width="0.5"/><line x1="298.78" y1="105.26" x2="298.78" y2="106.16" stroke="#c6c6c6" stroke-width="0.5"/><line x1="317.02" y1="174.76" x2="317.02" y2="173.86" stroke="#c6c6c6" stroke-width="0.5"/><line x1="317.02" y1="105.26" x2="317.02" y2="106.16" stroke="#c6c6c6" stroke-width="0.5"/><line x1="335.26" y1="174.76" x2="335.26" y2="173.86" stroke="#c6c6c6" stroke-width="0.5"/><line x1="335.26" y1="105.26" x2="335.26" y2="106.16" stroke="#c6c6c6" stroke-width="0.5"/><line x1="353.50" y1="174.76" x2="353.50" y2="173.86" stroke="#c6c6c6" stroke-width="0.5"/><line x1="353.50" y1="105.26" x2="353.50" y2="106.16" stroke="#c6c6c6" stroke-width="0.5"/><line x1="262.30" y1="174.76" x2="263.20" y2="174.76" stroke="#c6c6c6" stroke-width="0.5"/><line x1="353.50" y1="174.76" x2="352.60" y2="174.76" stroke="#c6c6c6" stroke-width="0.5"/><line x1="262.30" y1="151.59" x2="263.20" y2="151.59" stroke="#c6c6c6" stroke-width="0.5"/><line x1="353.50" y1="151.59" x2="352.60" y2="151.59" stroke="#c6c6c6" stroke-width="0.5"/><line x1="262.30" y1="128.43" x2="263.20" y2="128.43" stroke="#c6c6c6" stroke-width="0.5"/><line x1="353.50" y1="128.43" x2="352.60" y2="128.43" stroke="#c6c6c6" stroke-width="0.5"/><line x1="262.30" y1="105.26" x2="263.20" y2="105.26" stroke="#c6c6c6" stroke-width="0.5"/><line x1="353.50" y1="105.26" x2="352.60" y2="105.26" stroke="#c6c6c6" stroke-width="0.5"/><text transform="translate(260.80,177.35) scale(0.935,1)" text-anchor="end" class="t">-1</text><text transform="translate(260.80,154.18) scale(0.935,1)" text-anchor="end" class="t">-0.5</text><text transform="translate(260.80,131.01) scale(0.935,1)" text-anchor="end" class="t">0</text><text transform="translate(260.80,107.85) scale(0.935,1)" text-anchor="end" class="t">0.5</text><text transform="translate(262.30,182.79) scale(0.935,1)" text-anchor="middle" class="t">0</text><text transform="translate(280.54,182.79) scale(0.935,1)" text-anchor="middle" class="t">10</text><text transform="translate(298.78,182.79) scale(0.935,1)" text-anchor="middle" class="t">20</text><text transform="translate(317.02,182.79) scale(0.935,1)" text-anchor="middle" class="t">30</text><text transform="translate(335.26,182.79) scale(0.935,1)" text-anchor="middle" class="t">40</text><text transform="translate(353.50,182.79) scale(0.935,1)" text-anchor="middle" class="t">50</text></g><g><polygon points="385.07,129.15 386.90,130.60 388.72,132.54 390.55,134.61 392.37,136.28 394.19,137.57 396.02,138.45 397.84,138.95 399.67,138.96 401.49,138.96 403.31,138.84 405.14,138.43 406.96,137.91 408.79,137.14 410.61,136.16 412.43,135.11 414.26,133.92 416.08,132.62 417.91,131.26 419.73,129.91 421.55,128.60 423.38,127.24 425.20,125.86 427.03,124.51 428.85,123.23 430.67,122.09 432.50,121.02 434.32,120.00 436.15,119.04 437.97,118.17 439.79,117.41 441.62,116.70 443.44,116.03 445.27,115.43 447.09,114.90 448.91,114.47 450.74,114.13 452.56,113.82 454.39,113.54 456.21,113.32 458.03,113.15 459.86,113.03 461.68,112.92 463.51,112.82 465.33,112.73 467.15,112.66 468.98,112.60 470.80,112.56 472.63,112.55 472.63,141.61 470.80,141.72 468.98,141.86 467.15,142.04 465.33,142.23 463.51,142.45 461.68,142.68 459.86,142.93 458.03,143.19 456.21,143.49 454.39,143.83 452.56,144.21 450.74,144.62 448.91,145.05 447.09,145.52 445.27,146.03 443.44,146.59 441.62,147.18 439.79,147.79 437.97,148.44 436.15,149.14 434.32,149.89 432.50,150.65 430.67,151.42 428.85,152.20 427.03,153.02 425.20,153.86 423.38,154.68 421.55,155.45 419.73,156.17 417.91,156.94 416.08,157.68 414.26,158.33 412.43,158.80 410.61,159.03 408.79,159.20 406.96,159.34 405.14,159.45 403.31,159.51 401.49,159.51 399.67,159.14 397.84,158.47 396.02,157.07 394.19,155.01 392.37,152.08 390.55,148.18 388.72,142.93 386.90,137.08 385.07,131.60" fill="#a0a0a0"/><polygon points="385.07,129.72 386.90,132.10 388.72,134.83 390.55,137.44 392.37,139.49 394.19,141.12 396.02,142.39 397.84,143.24 399.67,143.53 401.49,143.67 403.31,143.58 405.14,143.25 406.96,142.84 408.79,142.27 410.61,141.54 412.43,140.72 414.26,139.76 416.08,138.69 417.91,137.56 419.73,136.41 421.55,135.27 423.38,134.07 425.20,132.82 427.03,131.58 428.85,130.38 430.67,129.26 432.50,128.18 434.32,127.11 436.15,126.10 437.97,125.18 439.79,124.39 441.62,123.68 443.44,123.02 445.27,122.43 447.09,121.90 448.91,121.46 450.74,121.08 452.56,120.73 454.39,120.42 456.21,120.16 458.03,119.95 459.86,119.80 461.68,119.66 463.51,119.52 465.33,119.40 467.15,119.30 468.98,119.22 470.80,119.17 472.63,119.15 472.63,138.96 470.80,138.99 468.98,139.05 467.15,139.15 465.33,139.27 463.51,139.42 461.68,139.59 459.86,139.77 458.03,139.97 456.21,140.24 454.39,140.59 452.56,140.99 450.74,141.42 448.91,141.84 447.09,142.27 445.27,142.72 443.44,143.19 441.62,143.69 439.79,144.21 437.97,144.77 436.15,145.36 434.32,145.98 432.50,146.63 430.67,147.29 428.85,147.98 427.03,148.71 425.20,149.47 423.38,150.22 421.55,150.94 419.73,151.63 417.91,152.39 416.08,153.13 414.26,153.79 412.43,154.27 410.61,154.51 408.79,154.67 406.96,154.81 405.14,154.92 403.31,154.98 401.49,154.98 399.67,154.61 397.84,153.95 396.02,152.77 394.19,151.08 392.37,148.73 390.55,145.55 388.72,140.87 386.90,135.76 385.07,131.23" fill="#e6e6e6"/><line x1="383.25" y1="159.72" x2="474.45" y2="159.72" stroke="#c8c8c8" stroke-width="0.70"/><polyline points="385.07,130.47 386.90,133.58 388.72,137.25 390.55,140.83 392.37,143.72 394.19,146.00 396.02,147.62 397.84,148.69 399.67,149.11 401.49,149.33 403.31,149.31 405.14,149.20 406.96,149.03 408.79,148.74 410.61,148.23 412.43,147.69 414.26,147.11 416.08,146.47 417.91,145.78 419.73,145.06 421.55,144.29 423.38,143.43 425.20,142.49 427.03,141.53 428.85,140.59 430.67,139.69 432.50,138.81 434.32,137.93 436.15,137.08 437.97,136.26 439.79,135.52 441.62,134.82 443.44,134.14 445.27,133.50 447.09,132.92 448.91,132.41 450.74,131.96 452.56,131.54 454.39,131.16 456.21,130.83 458.03,130.54 459.86,130.30 461.68,130.08 463.51,129.86 465.33,129.66 467.15,129.49 468.98,129.34 470.80,129.23 472.63,129.15" fill="none" stroke="#1a1a1a" stroke-width="1.25" stroke-linejoin="round"/><rect x="383.25" y="105.26" width="91.20" height="69.50" fill="none" stroke="#c6c6c6" stroke-width="0.95"/><line x1="383.25" y1="174.76" x2="383.25" y2="173.86" stroke="#c6c6c6" stroke-width="0.5"/><line x1="383.25" y1="105.26" x2="383.25" y2="106.16" stroke="#c6c6c6" stroke-width="0.5"/><line x1="401.49" y1="174.76" x2="401.49" y2="173.86" stroke="#c6c6c6" stroke-width="0.5"/><line x1="401.49" y1="105.26" x2="401.49" y2="106.16" stroke="#c6c6c6" stroke-width="0.5"/><line x1="419.73" y1="174.76" x2="419.73" y2="173.86" stroke="#c6c6c6" stroke-width="0.5"/><line x1="419.73" y1="105.26" x2="419.73" y2="106.16" stroke="#c6c6c6" stroke-width="0.5"/><line x1="437.97" y1="174.76" x2="437.97" y2="173.86" stroke="#c6c6c6" stroke-width="0.5"/><line x1="437.97" y1="105.26" x2="437.97" y2="106.16" stroke="#c6c6c6" stroke-width="0.5"/><line x1="456.21" y1="174.76" x2="456.21" y2="173.86" stroke="#c6c6c6" stroke-width="0.5"/><line x1="456.21" y1="105.26" x2="456.21" y2="106.16" stroke="#c6c6c6" stroke-width="0.5"/><line x1="474.45" y1="174.76" x2="474.45" y2="173.86" stroke="#c6c6c6" stroke-width="0.5"/><line x1="474.45" y1="105.26" x2="474.45" y2="106.16" stroke="#c6c6c6" stroke-width="0.5"/><line x1="383.25" y1="174.76" x2="384.15" y2="174.76" stroke="#c6c6c6" stroke-width="0.5"/><line x1="474.45" y1="174.76" x2="473.55" y2="174.76" stroke="#c6c6c6" stroke-width="0.5"/><line x1="383.25" y1="157.38" x2="384.15" y2="157.38" stroke="#c6c6c6" stroke-width="0.5"/><line x1="474.45" y1="157.38" x2="473.55" y2="157.38" stroke="#c6c6c6" stroke-width="0.5"/><line x1="383.25" y1="140.01" x2="384.15" y2="140.01" stroke="#c6c6c6" stroke-width="0.5"/><line x1="474.45" y1="140.01" x2="473.55" y2="140.01" stroke="#c6c6c6" stroke-width="0.5"/><line x1="383.25" y1="122.63" x2="384.15" y2="122.63" stroke="#c6c6c6" stroke-width="0.5"/><line x1="474.45" y1="122.63" x2="473.55" y2="122.63" stroke="#c6c6c6" stroke-width="0.5"/><line x1="383.25" y1="105.26" x2="384.15" y2="105.26" stroke="#c6c6c6" stroke-width="0.5"/><line x1="474.45" y1="105.26" x2="473.55" y2="105.26" stroke="#c6c6c6" stroke-width="0.5"/><text transform="translate(381.75,177.35) scale(0.935,1)" text-anchor="end" class="t">-0.6</text><text transform="translate(381.75,159.97) scale(0.935,1)" text-anchor="end" class="t">-0.4</text><text transform="translate(381.75,142.60) scale(0.935,1)" text-anchor="end" class="t">-0.2</text><text transform="translate(381.75,125.22) scale(0.935,1)" text-anchor="end" class="t">0</text><text transform="translate(381.75,107.85) scale(0.935,1)" text-anchor="end" class="t">0.2</text><text transform="translate(383.25,182.79) scale(0.935,1)" text-anchor="middle" class="t">0</text><text transform="translate(401.49,182.79) scale(0.935,1)" text-anchor="middle" class="t">10</text><text transform="translate(419.73,182.79) scale(0.935,1)" text-anchor="middle" class="t">20</text><text transform="translate(437.97,182.79) scale(0.935,1)" text-anchor="middle" class="t">30</text><text transform="translate(456.21,182.79) scale(0.935,1)" text-anchor="middle" class="t">40</text><text transform="translate(474.45,182.79) scale(0.935,1)" text-anchor="middle" class="t">50</text></g><g><polygon points="22.22,220.09 24.05,216.71 25.87,219.55 27.70,222.98 29.52,225.46 31.34,227.08 33.17,228.31 34.99,228.96 36.82,228.96 38.64,228.96 40.46,228.80 42.29,228.27 44.11,227.47 45.94,226.51 47.76,225.50 49.58,224.44 51.41,223.11 53.23,221.58 55.06,219.97 56.88,218.38 58.70,216.90 60.53,215.38 62.35,213.86 64.18,212.37 66.00,210.97 67.82,209.69 69.65,208.47 71.47,207.31 73.30,206.22 75.12,205.22 76.94,204.30 78.77,203.45 80.59,202.63 82.42,201.89 84.24,201.23 86.06,200.68 87.89,200.19 89.71,199.74 91.54,199.34 93.36,199.02 95.18,198.80 97.01,198.68 98.83,198.56 100.66,198.46 102.48,198.37 104.30,198.30 106.13,198.25 107.95,198.22 109.78,198.21 109.78,233.49 107.95,233.58 106.13,233.68 104.30,233.79 102.48,233.91 100.66,234.04 98.83,234.18 97.01,234.32 95.18,234.46 93.36,234.61 91.54,234.77 89.71,234.95 87.89,235.15 86.06,235.39 84.24,235.69 82.42,236.06 80.59,236.51 78.77,237.01 76.94,237.56 75.12,238.19 73.30,238.94 71.47,239.80 69.65,240.72 67.82,241.67 66.00,242.64 64.18,243.70 62.35,244.81 60.53,245.95 58.70,247.08 56.88,248.20 55.06,249.39 53.23,250.60 51.41,251.74 49.58,252.74 47.76,253.54 45.94,254.29 44.11,255.01 42.29,255.61 40.46,256.01 38.64,256.12 36.82,255.57 34.99,254.55 33.17,252.92 31.34,250.49 29.52,246.64 27.70,241.39 25.87,234.50 24.05,225.28 22.22,220.85" fill="#a0a0a0"/><polygon points="22.22,220.28 24.05,220.50 25.87,224.28 27.70,228.47 29.52,231.15 31.34,232.74 33.17,233.97 34.99,234.62 36.82,234.62 38.64,234.62 40.46,234.50 42.29,234.12 44.11,233.53 45.94,232.81 47.76,232.04 49.58,231.19 51.41,230.07 53.23,228.74 55.06,227.32 56.88,225.88 58.70,224.48 60.53,222.96 62.35,221.39 64.18,219.86 66.00,218.46 67.82,217.28 69.65,216.25 71.47,215.32 73.30,214.44 75.12,213.62 76.94,212.80 78.77,211.98 80.59,211.17 82.42,210.41 84.24,209.73 86.06,209.17 87.89,208.68 89.71,208.23 91.54,207.83 93.36,207.51 95.18,207.29 97.01,207.17 98.83,207.05 100.66,206.95 102.48,206.86 104.30,206.79 106.13,206.74 107.95,206.71 109.78,206.70 109.78,228.58 107.95,228.59 106.13,228.62 104.30,228.65 102.48,228.70 100.66,228.76 98.83,228.83 97.01,228.90 95.18,228.98 93.36,229.09 91.54,229.24 89.71,229.43 87.89,229.66 86.06,229.91 84.24,230.28 82.42,230.77 80.59,231.36 78.77,232.00 76.94,232.64 75.12,233.28 73.30,233.94 71.47,234.65 69.65,235.41 67.82,236.23 66.00,237.13 64.18,238.17 62.35,239.29 60.53,240.46 58.70,241.61 56.88,242.73 55.06,243.92 53.23,245.12 51.41,246.27 49.58,247.27 47.76,248.06 45.94,248.82 44.11,249.54 42.29,250.14 40.46,250.54 38.64,250.65 36.82,250.32 34.99,249.67 33.17,248.22 31.34,245.96 29.52,242.67 27.70,238.08 25.87,231.85 24.05,223.50 22.22,220.66" fill="#e6e6e6"/><polyline points="22.22,220.47 24.05,219.18 25.87,226.19 27.70,232.14 29.52,236.44 31.34,239.35 33.17,241.04 34.99,242.12 36.82,242.76 38.64,243.11 40.46,243.11 42.29,243.11 44.11,242.92 45.94,242.29 47.76,241.48 49.58,240.66 51.41,239.67 53.23,238.56 55.06,237.36 56.88,236.15 58.70,234.95 60.53,233.65 62.35,232.30 64.18,230.97 66.00,229.72 67.82,228.62 69.65,227.58 71.47,226.60 73.30,225.69 75.12,224.87 76.94,224.14 78.77,223.49 80.59,222.88 82.42,222.33 84.24,221.85 86.06,221.43 87.89,221.05 89.71,220.71 91.54,220.40 93.36,220.14 95.18,219.94 97.01,219.79 98.83,219.64 100.66,219.51 102.48,219.39 104.30,219.29 106.13,219.22 107.95,219.17 109.78,219.15" fill="none" stroke="#1a1a1a" stroke-width="1.25" stroke-linejoin="round"/><rect x="20.40" y="195.12" width="91.20" height="69.50" fill="none" stroke="#c6c6c6" stroke-width="0.95"/><line x1="20.40" y1="264.62" x2="20.40" y2="263.72" stroke="#c6c6c6" stroke-width="0.5"/><line x1="20.40" y1="195.12" x2="20.40" y2="196.02" stroke="#c6c6c6" stroke-width="0.5"/><line x1="38.64" y1="264.62" x2="38.64" y2="263.72" stroke="#c6c6c6" stroke-width="0.5"/><line x1="38.64" y1="195.12" x2="38.64" y2="196.02" stroke="#c6c6c6" stroke-width="0.5"/><line x1="56.88" y1="264.62" x2="56.88" y2="263.72" stroke="#c6c6c6" stroke-width="0.5"/><line x1="56.88" y1="195.12" x2="56.88" y2="196.02" stroke="#c6c6c6" stroke-width="0.5"/><line x1="75.12" y1="264.62" x2="75.12" y2="263.72" stroke="#c6c6c6" stroke-width="0.5"/><line x1="75.12" y1="195.12" x2="75.12" y2="196.02" stroke="#c6c6c6" stroke-width="0.5"/><line x1="93.36" y1="264.62" x2="93.36" y2="263.72" stroke="#c6c6c6" stroke-width="0.5"/><line x1="93.36" y1="195.12" x2="93.36" y2="196.02" stroke="#c6c6c6" stroke-width="0.5"/><line x1="111.60" y1="264.62" x2="111.60" y2="263.72" stroke="#c6c6c6" stroke-width="0.5"/><line x1="111.60" y1="195.12" x2="111.60" y2="196.02" stroke="#c6c6c6" stroke-width="0.5"/><line x1="20.40" y1="264.62" x2="21.30" y2="264.62" stroke="#c6c6c6" stroke-width="0.5"/><line x1="111.60" y1="264.62" x2="110.70" y2="264.62" stroke="#c6c6c6" stroke-width="0.5"/><line x1="20.40" y1="241.45" x2="21.30" y2="241.45" stroke="#c6c6c6" stroke-width="0.5"/><line x1="111.60" y1="241.45" x2="110.70" y2="241.45" stroke="#c6c6c6" stroke-width="0.5"/><line x1="20.40" y1="218.29" x2="21.30" y2="218.29" stroke="#c6c6c6" stroke-width="0.5"/><line x1="111.60" y1="218.29" x2="110.70" y2="218.29" stroke="#c6c6c6" stroke-width="0.5"/><line x1="20.40" y1="195.12" x2="21.30" y2="195.12" stroke="#c6c6c6" stroke-width="0.5"/><line x1="111.60" y1="195.12" x2="110.70" y2="195.12" stroke="#c6c6c6" stroke-width="0.5"/><text transform="translate(18.90,267.21) scale(0.935,1)" text-anchor="end" class="t">-0.4</text><text transform="translate(18.90,244.04) scale(0.935,1)" text-anchor="end" class="t">-0.2</text><text transform="translate(18.90,220.87) scale(0.935,1)" text-anchor="end" class="t">0</text><text transform="translate(18.90,197.71) scale(0.935,1)" text-anchor="end" class="t">0.2</text><text transform="translate(20.40,272.65) scale(0.935,1)" text-anchor="middle" class="t">0</text><text transform="translate(38.64,272.65) scale(0.935,1)" text-anchor="middle" class="t">10</text><text transform="translate(56.88,272.65) scale(0.935,1)" text-anchor="middle" class="t">20</text><text transform="translate(75.12,272.65) scale(0.935,1)" text-anchor="middle" class="t">30</text><text transform="translate(93.36,272.65) scale(0.935,1)" text-anchor="middle" class="t">40</text><text transform="translate(111.60,272.65) scale(0.935,1)" text-anchor="middle" class="t">50</text></g><g><polygon points="143.17,245.00 145.00,224.23 146.82,223.87 148.65,223.87 150.47,223.87 152.29,223.58 154.12,222.89 155.94,222.06 157.77,221.00 159.59,219.72 161.41,218.57 163.24,217.44 165.06,216.33 166.89,215.25 168.71,214.21 170.53,213.22 172.36,212.24 174.18,211.30 176.01,210.40 177.83,209.56 179.65,208.78 181.48,208.01 183.30,207.28 185.13,206.61 186.95,206.05 188.77,205.64 190.60,205.28 192.42,204.94 194.25,204.67 196.07,204.49 197.89,204.43 199.72,204.43 201.54,204.43 203.37,204.43 205.19,204.43 207.01,204.43 208.84,204.47 210.66,204.57 212.49,204.70 214.31,204.84 216.13,204.97 217.96,205.08 219.78,205.18 221.61,205.28 223.43,205.38 225.25,205.48 227.08,205.57 228.90,205.66 230.73,205.75 230.73,231.98 228.90,232.04 227.08,232.10 225.25,232.16 223.43,232.24 221.61,232.31 219.78,232.40 217.96,232.48 216.13,232.57 214.31,232.66 212.49,232.77 210.66,232.88 208.84,233.00 207.01,233.12 205.19,233.24 203.37,233.37 201.54,233.50 199.72,233.66 197.89,233.84 196.07,234.08 194.25,234.40 192.42,234.77 190.60,235.18 188.77,235.62 186.95,236.09 185.13,236.64 183.30,237.23 181.48,237.86 179.65,238.48 177.83,239.09 176.01,239.70 174.18,240.32 172.36,240.95 170.53,241.57 168.71,242.19 166.89,242.80 165.06,243.40 163.24,244.01 161.41,244.64 159.59,245.31 157.77,246.11 155.94,246.74 154.12,247.17 152.29,247.50 150.47,247.64 148.65,247.18 146.82,246.11 145.00,243.87 143.17,245.00" fill="#a0a0a0"/><polygon points="143.17,245.00 145.00,230.85 146.82,230.85 148.65,231.04 150.47,231.23 152.29,231.03 154.12,230.55 155.94,229.96 157.77,229.17 159.59,228.17 161.41,227.26 163.24,226.35 165.06,225.44 166.89,224.53 168.71,223.61 170.53,222.69 172.36,221.71 174.18,220.73 176.01,219.80 177.83,218.96 179.65,218.27 181.48,217.64 183.30,217.07 185.13,216.55 186.95,216.07 188.77,215.62 190.60,215.20 192.42,214.80 194.25,214.43 196.07,214.11 197.89,213.84 199.72,213.59 201.54,213.34 203.37,213.13 205.19,212.98 207.01,212.92 208.84,212.92 210.66,212.92 212.49,212.92 214.31,212.92 216.13,212.92 217.96,212.93 219.78,212.95 221.61,212.98 223.43,213.03 225.25,213.09 227.08,213.15 228.90,213.23 230.73,213.30 230.73,228.02 228.90,228.11 227.08,228.21 225.25,228.32 223.43,228.44 221.61,228.57 219.78,228.71 217.96,228.85 216.13,229.00 214.31,229.16 212.49,229.34 210.66,229.54 208.84,229.73 207.01,229.92 205.19,230.09 203.37,230.26 201.54,230.43 199.72,230.62 197.89,230.82 196.07,231.05 194.25,231.31 192.42,231.59 190.60,231.91 188.77,232.25 186.95,232.64 185.13,233.10 183.30,233.61 181.48,234.16 179.65,234.73 177.83,235.31 176.01,235.94 174.18,236.60 172.36,237.28 170.53,237.96 168.71,238.62 166.89,239.28 165.06,239.94 163.24,240.60 161.41,241.25 159.59,241.90 157.77,242.64 155.94,243.14 154.12,243.41 152.29,243.60 150.47,243.68 148.65,243.35 146.82,242.53 145.00,240.28 143.17,245.00" fill="#e6e6e6"/><line x1="141.35" y1="249.72" x2="232.55" y2="249.72" stroke="#c8c8c8" stroke-width="0.70"/><polyline points="143.17,245.00 145.00,235.00 146.82,236.49 148.65,237.48 150.47,237.86 152.29,238.02 154.12,237.85 155.94,237.49 157.77,236.96 159.59,236.25 161.41,235.56 163.24,234.84 165.06,234.10 166.89,233.35 168.71,232.61 170.53,231.87 172.36,231.12 174.18,230.37 176.01,229.63 177.83,228.93 179.65,228.28 181.48,227.65 183.30,227.05 185.13,226.47 186.95,225.93 188.77,225.42 190.60,224.92 192.42,224.45 194.25,224.01 196.07,223.61 197.89,223.26 199.72,222.95 201.54,222.66 203.37,222.40 205.19,222.17 207.01,221.99 208.84,221.84 210.66,221.72 212.49,221.61 214.31,221.51 216.13,221.43 217.96,221.36 219.78,221.30 221.61,221.23 223.43,221.18 225.25,221.13 227.08,221.09 228.90,221.06 230.73,221.04" fill="none" stroke="#1a1a1a" stroke-width="1.25" stroke-linejoin="round"/><rect x="141.35" y="195.12" width="91.20" height="69.50" fill="none" stroke="#c6c6c6" stroke-width="0.95"/><line x1="141.35" y1="264.62" x2="141.35" y2="263.72" stroke="#c6c6c6" stroke-width="0.5"/><line x1="141.35" y1="195.12" x2="141.35" y2="196.02" stroke="#c6c6c6" stroke-width="0.5"/><line x1="159.59" y1="264.62" x2="159.59" y2="263.72" stroke="#c6c6c6" stroke-width="0.5"/><line x1="159.59" y1="195.12" x2="159.59" y2="196.02" stroke="#c6c6c6" stroke-width="0.5"/><line x1="177.83" y1="264.62" x2="177.83" y2="263.72" stroke="#c6c6c6" stroke-width="0.5"/><line x1="177.83" y1="195.12" x2="177.83" y2="196.02" stroke="#c6c6c6" stroke-width="0.5"/><line x1="196.07" y1="264.62" x2="196.07" y2="263.72" stroke="#c6c6c6" stroke-width="0.5"/><line x1="196.07" y1="195.12" x2="196.07" y2="196.02" stroke="#c6c6c6" stroke-width="0.5"/><line x1="214.31" y1="264.62" x2="214.31" y2="263.72" stroke="#c6c6c6" stroke-width="0.5"/><line x1="214.31" y1="195.12" x2="214.31" y2="196.02" stroke="#c6c6c6" stroke-width="0.5"/><line x1="232.55" y1="264.62" x2="232.55" y2="263.72" stroke="#c6c6c6" stroke-width="0.5"/><line x1="232.55" y1="195.12" x2="232.55" y2="196.02" stroke="#c6c6c6" stroke-width="0.5"/><line x1="141.35" y1="264.62" x2="142.25" y2="264.62" stroke="#c6c6c6" stroke-width="0.5"/><line x1="232.55" y1="264.62" x2="231.65" y2="264.62" stroke="#c6c6c6" stroke-width="0.5"/><line x1="141.35" y1="247.25" x2="142.25" y2="247.25" stroke="#c6c6c6" stroke-width="0.5"/><line x1="232.55" y1="247.25" x2="231.65" y2="247.25" stroke="#c6c6c6" stroke-width="0.5"/><line x1="141.35" y1="229.87" x2="142.25" y2="229.87" stroke="#c6c6c6" stroke-width="0.5"/><line x1="232.55" y1="229.87" x2="231.65" y2="229.87" stroke="#c6c6c6" stroke-width="0.5"/><line x1="141.35" y1="212.50" x2="142.25" y2="212.50" stroke="#c6c6c6" stroke-width="0.5"/><line x1="232.55" y1="212.50" x2="231.65" y2="212.50" stroke="#c6c6c6" stroke-width="0.5"/><line x1="141.35" y1="195.12" x2="142.25" y2="195.12" stroke="#c6c6c6" stroke-width="0.5"/><line x1="232.55" y1="195.12" x2="231.65" y2="195.12" stroke="#c6c6c6" stroke-width="0.5"/><text transform="translate(139.85,267.21) scale(0.935,1)" text-anchor="end" class="t">-0.6</text><text transform="translate(139.85,249.83) scale(0.935,1)" text-anchor="end" class="t">-0.4</text><text transform="translate(139.85,232.46) scale(0.935,1)" text-anchor="end" class="t">-0.2</text><text transform="translate(139.85,215.08) scale(0.935,1)" text-anchor="end" class="t">0</text><text transform="translate(139.85,197.71) scale(0.935,1)" text-anchor="end" class="t">0.2</text><text transform="translate(141.35,272.65) scale(0.935,1)" text-anchor="middle" class="t">0</text><text transform="translate(159.59,272.65) scale(0.935,1)" text-anchor="middle" class="t">10</text><text transform="translate(177.83,272.65) scale(0.935,1)" text-anchor="middle" class="t">20</text><text transform="translate(196.07,272.65) scale(0.935,1)" text-anchor="middle" class="t">30</text><text transform="translate(214.31,272.65) scale(0.935,1)" text-anchor="middle" class="t">40</text><text transform="translate(232.55,272.65) scale(0.935,1)" text-anchor="middle" class="t">50</text></g><g><polygon points="264.12,261.98 265.95,216.37 267.77,214.45 269.60,214.18 271.42,214.05 273.24,213.88 275.07,213.51 276.89,212.99 278.72,212.31 280.54,211.54 282.36,210.94 284.19,210.39 286.01,209.88 287.84,209.40 289.66,208.94 291.48,208.49 293.31,208.02 295.13,207.57 296.96,207.16 298.78,206.83 300.60,206.60 302.43,206.39 304.25,206.21 306.08,206.06 307.90,205.97 309.72,205.95 311.55,205.98 313.37,206.04 315.20,206.13 317.02,206.23 318.84,206.33 320.67,206.46 322.49,206.63 324.32,206.82 326.14,207.03 327.96,207.25 329.79,207.48 331.61,207.73 333.44,208.01 335.26,208.28 337.08,208.52 338.91,208.75 340.73,208.96 342.56,209.17 344.38,209.37 346.20,209.57 348.03,209.75 349.85,209.93 351.68,210.09 351.68,235.37 349.85,235.30 348.03,235.23 346.20,235.16 344.38,235.11 342.56,235.06 340.73,235.02 338.91,235.00 337.08,235.00 335.26,235.00 333.44,235.00 331.61,235.00 329.79,235.00 327.96,235.00 326.14,235.02 324.32,235.08 322.49,235.16 320.67,235.25 318.84,235.37 317.02,235.52 315.20,235.76 313.37,236.07 311.55,236.42 309.72,236.79 307.90,237.18 306.08,237.65 304.25,238.17 302.43,238.72 300.60,239.28 298.78,239.83 296.96,240.41 295.13,241.01 293.31,241.61 291.48,242.20 289.66,242.75 287.84,243.27 286.01,243.77 284.19,244.27 282.36,244.77 280.54,245.30 278.72,245.92 276.89,246.35 275.07,246.60 273.24,246.70 271.42,246.57 269.60,246.24 267.77,245.72 265.95,244.25 264.12,261.98" fill="#a0a0a0"/><polygon points="264.12,261.98 265.95,223.35 267.77,221.42 269.60,221.42 271.42,221.42 273.24,221.42 275.07,221.26 276.89,220.90 278.72,220.35 280.54,219.64 282.36,219.09 284.19,218.57 286.01,218.09 287.84,217.64 289.66,217.22 291.48,216.83 293.31,216.46 295.13,216.11 296.96,215.79 298.78,215.51 300.60,215.27 302.43,215.02 304.25,214.78 306.08,214.59 307.90,214.46 309.72,214.43 311.55,214.43 313.37,214.43 315.20,214.43 317.02,214.43 318.84,214.43 320.67,214.50 322.49,214.64 324.32,214.83 326.14,215.02 327.96,215.18 329.79,215.30 331.61,215.41 333.44,215.51 335.26,215.62 337.08,215.72 338.91,215.84 340.73,215.96 342.56,216.07 344.38,216.19 346.20,216.32 348.03,216.44 349.85,216.57 351.68,216.69 351.68,230.85 349.85,230.77 348.03,230.70 346.20,230.63 344.38,230.58 342.56,230.53 340.73,230.50 338.91,230.48 337.08,230.47 335.26,230.47 333.44,230.47 331.61,230.47 329.79,230.47 327.96,230.47 326.14,230.50 324.32,230.55 322.49,230.64 320.67,230.73 318.84,230.84 317.02,230.96 315.20,231.10 313.37,231.28 311.55,231.48 309.72,231.72 307.90,232.02 306.08,232.44 304.25,232.94 302.43,233.48 300.60,234.02 298.78,234.52 296.96,235.05 295.13,235.59 293.31,236.11 291.48,236.61 289.66,237.04 287.84,237.42 286.01,237.77 284.19,238.10 282.36,238.46 280.54,238.86 278.72,239.44 276.89,239.72 275.07,239.72 273.24,239.72 271.42,239.67 269.60,239.55 267.77,239.32 265.95,238.02 264.12,261.98" fill="#e6e6e6"/><polyline points="264.12,261.98 265.95,235.04 267.77,233.34 269.60,232.74 271.42,232.74 273.24,232.74 275.07,232.74 276.89,232.74 278.72,232.48 280.54,231.90 282.36,231.35 284.19,230.76 286.01,230.13 287.84,229.48 289.66,228.82 291.48,228.17 293.31,227.47 295.13,226.75 296.96,226.07 298.78,225.47 300.60,224.98 302.43,224.54 304.25,224.13 306.08,223.77 307.90,223.47 309.72,223.25 311.55,223.04 313.37,222.84 315.20,222.69 317.02,222.58 318.84,222.55 320.67,222.55 322.49,222.55 324.32,222.55 326.14,222.55 327.96,222.55 329.79,222.55 331.61,222.55 333.44,222.55 335.26,222.55 337.08,222.55 338.91,222.55 340.73,222.57 342.56,222.61 344.38,222.65 346.20,222.71 348.03,222.77 349.85,222.85 351.68,222.92" fill="none" stroke="#1a1a1a" stroke-width="1.25" stroke-linejoin="round"/><rect x="262.30" y="195.12" width="91.20" height="69.50" fill="none" stroke="#c6c6c6" stroke-width="0.95"/><line x1="262.30" y1="264.62" x2="262.30" y2="263.72" stroke="#c6c6c6" stroke-width="0.5"/><line x1="262.30" y1="195.12" x2="262.30" y2="196.02" stroke="#c6c6c6" stroke-width="0.5"/><line x1="280.54" y1="264.62" x2="280.54" y2="263.72" stroke="#c6c6c6" stroke-width="0.5"/><line x1="280.54" y1="195.12" x2="280.54" y2="196.02" stroke="#c6c6c6" stroke-width="0.5"/><line x1="298.78" y1="264.62" x2="298.78" y2="263.72" stroke="#c6c6c6" stroke-width="0.5"/><line x1="298.78" y1="195.12" x2="298.78" y2="196.02" stroke="#c6c6c6" stroke-width="0.5"/><line x1="317.02" y1="264.62" x2="317.02" y2="263.72" stroke="#c6c6c6" stroke-width="0.5"/><line x1="317.02" y1="195.12" x2="317.02" y2="196.02" stroke="#c6c6c6" stroke-width="0.5"/><line x1="335.26" y1="264.62" x2="335.26" y2="263.72" stroke="#c6c6c6" stroke-width="0.5"/><line x1="335.26" y1="195.12" x2="335.26" y2="196.02" stroke="#c6c6c6" stroke-width="0.5"/><line x1="353.50" y1="264.62" x2="353.50" y2="263.72" stroke="#c6c6c6" stroke-width="0.5"/><line x1="353.50" y1="195.12" x2="353.50" y2="196.02" stroke="#c6c6c6" stroke-width="0.5"/><line x1="262.30" y1="264.62" x2="263.20" y2="264.62" stroke="#c6c6c6" stroke-width="0.5"/><line x1="353.50" y1="264.62" x2="352.60" y2="264.62" stroke="#c6c6c6" stroke-width="0.5"/><line x1="262.30" y1="247.25" x2="263.20" y2="247.25" stroke="#c6c6c6" stroke-width="0.5"/><line x1="353.50" y1="247.25" x2="352.60" y2="247.25" stroke="#c6c6c6" stroke-width="0.5"/><line x1="262.30" y1="229.87" x2="263.20" y2="229.87" stroke="#c6c6c6" stroke-width="0.5"/><line x1="353.50" y1="229.87" x2="352.60" y2="229.87" stroke="#c6c6c6" stroke-width="0.5"/><line x1="262.30" y1="212.50" x2="263.20" y2="212.50" stroke="#c6c6c6" stroke-width="0.5"/><line x1="353.50" y1="212.50" x2="352.60" y2="212.50" stroke="#c6c6c6" stroke-width="0.5"/><line x1="262.30" y1="195.12" x2="263.20" y2="195.12" stroke="#c6c6c6" stroke-width="0.5"/><line x1="353.50" y1="195.12" x2="352.60" y2="195.12" stroke="#c6c6c6" stroke-width="0.5"/><text transform="translate(260.80,267.21) scale(0.935,1)" text-anchor="end" class="t">-0.2</text><text transform="translate(260.80,249.83) scale(0.935,1)" text-anchor="end" class="t">-0.1</text><text transform="translate(260.80,232.46) scale(0.935,1)" text-anchor="end" class="t">0</text><text transform="translate(260.80,215.08) scale(0.935,1)" text-anchor="end" class="t">0.1</text><text transform="translate(260.80,197.71) scale(0.935,1)" text-anchor="end" class="t">0.2</text><text transform="translate(262.30,272.65) scale(0.935,1)" text-anchor="middle" class="t">0</text><text transform="translate(280.54,272.65) scale(0.935,1)" text-anchor="middle" class="t">10</text><text transform="translate(298.78,272.65) scale(0.935,1)" text-anchor="middle" class="t">20</text><text transform="translate(317.02,272.65) scale(0.935,1)" text-anchor="middle" class="t">30</text><text transform="translate(335.26,272.65) scale(0.935,1)" text-anchor="middle" class="t">40</text><text transform="translate(353.50,272.65) scale(0.935,1)" text-anchor="middle" class="t">50</text></g><g><polygon points="385.07,250.66 386.90,228.45 388.72,230.39 390.55,231.12 392.37,231.41 394.19,231.35 396.02,231.16 397.84,230.89 399.67,230.36 401.49,229.51 403.31,228.75 405.14,227.98 406.96,227.19 408.79,226.38 410.61,225.54 412.43,224.65 414.26,223.70 416.08,222.72 417.91,221.71 419.73,220.68 421.55,219.66 423.38,218.60 425.20,217.51 427.03,216.43 428.85,215.38 430.67,214.38 432.50,213.39 434.32,212.40 436.15,211.46 437.97,210.60 439.79,209.86 441.62,209.22 443.44,208.64 445.27,208.12 447.09,207.62 448.91,207.13 450.74,206.65 452.56,206.18 454.39,205.73 456.21,205.30 458.03,204.92 459.86,204.56 461.68,204.22 463.51,203.90 465.33,203.59 467.15,203.29 468.98,203.02 470.80,202.78 472.63,202.56 472.63,241.05 470.80,241.19 468.98,241.38 467.15,241.59 465.33,241.84 463.51,242.11 461.68,242.40 459.86,242.70 458.03,243.02 456.21,243.39 454.39,243.81 452.56,244.26 450.74,244.75 448.91,245.25 447.09,245.78 445.27,246.35 443.44,246.95 441.62,247.56 439.79,248.17 437.97,248.77 436.15,249.37 434.32,249.98 432.50,250.60 430.67,251.25 428.85,251.94 427.03,252.67 425.20,253.43 423.38,254.18 421.55,254.90 419.73,255.59 417.91,256.30 416.08,257.01 414.26,257.65 412.43,258.17 410.61,258.53 408.79,258.84 406.96,259.12 405.14,259.35 403.31,259.49 401.49,259.52 399.67,259.29 397.84,258.90 396.02,258.31 394.19,257.47 392.37,256.47 390.55,255.24 388.72,253.27 386.90,248.96 385.07,250.66" fill="#a0a0a0"/><polygon points="385.07,250.66 386.90,233.34 388.72,236.57 390.55,237.56 392.37,238.01 394.19,238.20 396.02,238.34 397.84,238.40 399.67,238.15 401.49,237.57 403.31,237.07 405.14,236.58 406.96,236.06 408.79,235.50 410.61,234.89 412.43,234.18 414.26,233.34 416.08,232.40 417.91,231.42 419.73,230.44 421.55,229.52 423.38,228.61 425.20,227.70 427.03,226.79 428.85,225.88 430.67,224.96 432.50,224.03 434.32,223.09 436.15,222.16 437.97,221.26 439.79,220.42 441.62,219.62 443.44,218.85 445.27,218.12 447.09,217.42 448.91,216.77 450.74,216.15 452.56,215.54 454.39,214.96 456.21,214.44 458.03,213.98 459.86,213.60 461.68,213.22 463.51,212.87 465.33,212.55 467.15,212.25 468.98,211.99 470.80,211.78 472.63,211.61 472.63,236.90 470.80,237.08 468.98,237.28 467.15,237.51 465.33,237.75 463.51,238.01 461.68,238.28 459.86,238.57 458.03,238.86 456.21,239.18 454.39,239.53 452.56,239.91 450.74,240.30 448.91,240.71 447.09,241.14 445.27,241.60 443.44,242.08 441.62,242.57 439.79,243.08 437.97,243.59 436.15,244.11 434.32,244.64 432.50,245.20 430.67,245.79 428.85,246.45 427.03,247.18 425.20,247.96 423.38,248.73 421.55,249.44 419.73,250.08 417.91,250.70 416.08,251.30 414.26,251.85 412.43,252.32 410.61,252.69 408.79,253.04 406.96,253.38 405.14,253.65 403.31,253.82 401.49,253.86 399.67,253.71 397.84,253.45 396.02,253.01 394.19,252.37 392.37,251.57 390.55,250.51 388.72,248.77 386.90,245.01 385.07,250.66" fill="#e6e6e6"/><line x1="383.25" y1="259.15" x2="474.45" y2="259.15" stroke="#c8c8c8" stroke-width="0.70"/><polyline points="385.07,250.66 386.90,238.80 388.72,242.87 390.55,245.18 392.37,246.42 394.19,247.22 396.02,247.73 397.84,248.01 399.67,248.02 401.49,248.02 403.31,247.93 405.14,247.62 406.96,247.14 408.79,246.57 410.61,245.98 412.43,245.40 414.26,244.73 416.08,243.98 417.91,243.19 419.73,242.41 421.55,241.67 423.38,240.93 425.20,240.18 427.03,239.44 428.85,238.73 430.67,238.04 432.50,237.39 434.32,236.75 436.15,236.13 437.97,235.53 439.79,234.96 441.62,234.41 443.44,233.88 445.27,233.37 447.09,232.87 448.91,232.41 450.74,231.97 452.56,231.54 454.39,231.13 456.21,230.75 458.03,230.38 459.86,230.04 461.68,229.71 463.51,229.40 465.33,229.09 467.15,228.80 468.98,228.53 470.80,228.27 472.63,228.03" fill="none" stroke="#1a1a1a" stroke-width="1.25" stroke-linejoin="round"/><rect x="383.25" y="195.12" width="91.20" height="69.50" fill="none" stroke="#c6c6c6" stroke-width="0.95"/><line x1="383.25" y1="264.62" x2="383.25" y2="263.72" stroke="#c6c6c6" stroke-width="0.5"/><line x1="383.25" y1="195.12" x2="383.25" y2="196.02" stroke="#c6c6c6" stroke-width="0.5"/><line x1="401.49" y1="264.62" x2="401.49" y2="263.72" stroke="#c6c6c6" stroke-width="0.5"/><line x1="401.49" y1="195.12" x2="401.49" y2="196.02" stroke="#c6c6c6" stroke-width="0.5"/><line x1="419.73" y1="264.62" x2="419.73" y2="263.72" stroke="#c6c6c6" stroke-width="0.5"/><line x1="419.73" y1="195.12" x2="419.73" y2="196.02" stroke="#c6c6c6" stroke-width="0.5"/><line x1="437.97" y1="264.62" x2="437.97" y2="263.72" stroke="#c6c6c6" stroke-width="0.5"/><line x1="437.97" y1="195.12" x2="437.97" y2="196.02" stroke="#c6c6c6" stroke-width="0.5"/><line x1="456.21" y1="264.62" x2="456.21" y2="263.72" stroke="#c6c6c6" stroke-width="0.5"/><line x1="456.21" y1="195.12" x2="456.21" y2="196.02" stroke="#c6c6c6" stroke-width="0.5"/><line x1="474.45" y1="264.62" x2="474.45" y2="263.72" stroke="#c6c6c6" stroke-width="0.5"/><line x1="474.45" y1="195.12" x2="474.45" y2="196.02" stroke="#c6c6c6" stroke-width="0.5"/><line x1="383.25" y1="264.62" x2="384.15" y2="264.62" stroke="#c6c6c6" stroke-width="0.5"/><line x1="474.45" y1="264.62" x2="473.55" y2="264.62" stroke="#c6c6c6" stroke-width="0.5"/><line x1="383.25" y1="250.72" x2="384.15" y2="250.72" stroke="#c6c6c6" stroke-width="0.5"/><line x1="474.45" y1="250.72" x2="473.55" y2="250.72" stroke="#c6c6c6" stroke-width="0.5"/><line x1="383.25" y1="236.82" x2="384.15" y2="236.82" stroke="#c6c6c6" stroke-width="0.5"/><line x1="474.45" y1="236.82" x2="473.55" y2="236.82" stroke="#c6c6c6" stroke-width="0.5"/><line x1="383.25" y1="222.92" x2="384.15" y2="222.92" stroke="#c6c6c6" stroke-width="0.5"/><line x1="474.45" y1="222.92" x2="473.55" y2="222.92" stroke="#c6c6c6" stroke-width="0.5"/><line x1="383.25" y1="209.02" x2="384.15" y2="209.02" stroke="#c6c6c6" stroke-width="0.5"/><line x1="474.45" y1="209.02" x2="473.55" y2="209.02" stroke="#c6c6c6" stroke-width="0.5"/><line x1="383.25" y1="195.12" x2="384.15" y2="195.12" stroke="#c6c6c6" stroke-width="0.5"/><line x1="474.45" y1="195.12" x2="473.55" y2="195.12" stroke="#c6c6c6" stroke-width="0.5"/><text transform="translate(381.75,267.21) scale(0.935,1)" text-anchor="end" class="t">-1</text><text transform="translate(381.75,253.31) scale(0.935,1)" text-anchor="end" class="t">-0.8</text><text transform="translate(381.75,239.41) scale(0.935,1)" text-anchor="end" class="t">-0.6</text><text transform="translate(381.75,225.51) scale(0.935,1)" text-anchor="end" class="t">-0.4</text><text transform="translate(381.75,211.61) scale(0.935,1)" text-anchor="end" class="t">-0.2</text><text transform="translate(381.75,197.71) scale(0.935,1)" text-anchor="end" class="t">0</text><text transform="translate(383.25,272.65) scale(0.935,1)" text-anchor="middle" class="t">0</text><text transform="translate(401.49,272.65) scale(0.935,1)" text-anchor="middle" class="t">10</text><text transform="translate(419.73,272.65) scale(0.935,1)" text-anchor="middle" class="t">20</text><text transform="translate(437.97,272.65) scale(0.935,1)" text-anchor="middle" class="t">30</text><text transform="translate(456.21,272.65) scale(0.935,1)" text-anchor="middle" class="t">40</text><text transform="translate(474.45,272.65) scale(0.935,1)" text-anchor="middle" class="t">50</text></g><g><polygon points="22.22,336.32 24.05,319.40 25.87,317.82 27.70,316.11 29.52,314.36 31.34,312.53 33.17,310.68 34.99,308.95 36.82,307.32 38.64,305.77 40.46,304.31 42.29,302.93 44.11,301.64 45.94,300.42 47.76,299.30 49.58,298.26 51.41,297.25 53.23,296.29 55.06,295.40 56.88,294.60 58.70,293.91 60.53,293.28 62.35,292.70 64.18,292.17 66.00,291.70 67.82,291.28 69.65,290.90 71.47,290.54 73.30,290.22 75.12,289.93 76.94,289.68 78.77,289.46 80.59,289.26 82.42,289.08 84.24,288.92 86.06,288.78 87.89,288.64 89.71,288.52 91.54,288.40 93.36,288.31 95.18,288.22 97.01,288.15 98.83,288.09 100.66,288.03 102.48,287.97 104.30,287.92 106.13,287.88 107.95,287.85 109.78,287.83 109.78,316.51 107.95,316.60 106.13,316.70 104.30,316.81 102.48,316.93 100.66,317.06 98.83,317.20 97.01,317.34 95.18,317.48 93.36,317.64 91.54,317.81 89.71,318.00 87.89,318.20 86.06,318.40 84.24,318.62 82.42,318.86 80.59,319.11 78.77,319.38 76.94,319.67 75.12,319.98 73.30,320.32 71.47,320.69 69.65,321.07 67.82,321.47 66.00,321.89 64.18,322.33 62.35,322.80 60.53,323.29 58.70,323.79 56.88,324.32 55.06,324.87 53.23,325.45 51.41,326.04 49.58,326.65 47.76,327.28 45.94,327.94 44.11,328.60 42.29,329.22 40.46,329.82 38.64,330.35 36.82,330.89 34.99,331.32 33.17,331.48 31.34,331.57 29.52,331.60 27.70,331.33 25.87,330.67 24.05,329.16 22.22,336.32" fill="#a0a0a0"/><polygon points="22.22,336.32 24.05,321.72 25.87,320.84 27.70,319.90 29.52,318.92 31.34,317.86 33.17,316.75 34.99,315.62 36.82,314.45 38.64,313.27 40.46,312.09 42.29,310.91 44.11,309.80 45.94,308.74 47.76,307.75 49.58,306.82 51.41,305.92 53.23,305.05 55.06,304.22 56.88,303.46 58.70,302.77 60.53,302.11 62.35,301.50 64.18,300.93 66.00,300.41 67.82,299.95 69.65,299.54 71.47,299.16 73.30,298.82 75.12,298.48 76.94,298.16 78.77,297.84 80.59,297.52 82.42,297.22 84.24,296.95 86.06,296.70 87.89,296.49 89.71,296.29 91.54,296.11 93.36,295.94 95.18,295.79 97.01,295.64 98.83,295.50 100.66,295.36 102.48,295.23 104.30,295.11 106.13,295.00 107.95,294.90 109.78,294.81 109.78,312.36 107.95,312.45 106.13,312.55 104.30,312.66 102.48,312.78 100.66,312.91 98.83,313.04 97.01,313.19 95.18,313.33 93.36,313.49 91.54,313.66 89.71,313.85 87.89,314.04 86.06,314.25 84.24,314.47 82.42,314.71 80.59,314.96 78.77,315.23 76.94,315.52 75.12,315.83 73.30,316.17 71.47,316.53 69.65,316.92 67.82,317.32 66.00,317.74 64.18,318.19 62.35,318.67 60.53,319.16 58.70,319.66 56.88,320.15 55.06,320.64 53.23,321.14 51.41,321.65 49.58,322.18 47.76,322.72 45.94,323.32 44.11,323.91 42.29,324.44 40.46,324.94 38.64,325.45 36.82,326.00 34.99,326.51 33.17,326.91 31.34,327.28 29.52,327.45 27.70,327.40 25.87,327.27 24.05,326.89 22.22,336.32" fill="#e6e6e6"/><line x1="20.40" y1="336.89" x2="111.60" y2="336.89" stroke="#c8c8c8" stroke-width="0.70"/><polyline points="22.22,336.32 24.05,324.59 25.87,324.24 27.70,323.97 29.52,323.66 31.34,323.09 33.17,322.38 34.99,321.68 36.82,320.95 38.64,320.20 40.46,319.41 42.29,318.59 44.11,317.81 45.94,317.06 47.76,316.34 49.58,315.69 51.41,315.05 53.23,314.45 55.06,313.88 56.88,313.35 58.70,312.88 60.53,312.43 62.35,312.02 64.18,311.63 66.00,311.27 67.82,310.93 69.65,310.61 71.47,310.30 73.30,310.02 75.12,309.75 76.94,309.49 78.77,309.25 80.59,309.03 82.42,308.81 84.24,308.60 86.06,308.40 87.89,308.20 89.71,308.01 91.54,307.82 93.36,307.64 95.18,307.48 97.01,307.34 98.83,307.20 100.66,307.06 102.48,306.93 104.30,306.81 106.13,306.70 107.95,306.60 109.78,306.51" fill="none" stroke="#1a1a1a" stroke-width="1.25" stroke-linejoin="round"/><rect x="20.40" y="284.98" width="91.20" height="69.50" fill="none" stroke="#c6c6c6" stroke-width="0.95"/><line x1="20.40" y1="354.48" x2="20.40" y2="353.58" stroke="#c6c6c6" stroke-width="0.5"/><line x1="20.40" y1="284.98" x2="20.40" y2="285.88" stroke="#c6c6c6" stroke-width="0.5"/><line x1="38.64" y1="354.48" x2="38.64" y2="353.58" stroke="#c6c6c6" stroke-width="0.5"/><line x1="38.64" y1="284.98" x2="38.64" y2="285.88" stroke="#c6c6c6" stroke-width="0.5"/><line x1="56.88" y1="354.48" x2="56.88" y2="353.58" stroke="#c6c6c6" stroke-width="0.5"/><line x1="56.88" y1="284.98" x2="56.88" y2="285.88" stroke="#c6c6c6" stroke-width="0.5"/><line x1="75.12" y1="354.48" x2="75.12" y2="353.58" stroke="#c6c6c6" stroke-width="0.5"/><line x1="75.12" y1="284.98" x2="75.12" y2="285.88" stroke="#c6c6c6" stroke-width="0.5"/><line x1="93.36" y1="354.48" x2="93.36" y2="353.58" stroke="#c6c6c6" stroke-width="0.5"/><line x1="93.36" y1="284.98" x2="93.36" y2="285.88" stroke="#c6c6c6" stroke-width="0.5"/><line x1="111.60" y1="354.48" x2="111.60" y2="353.58" stroke="#c6c6c6" stroke-width="0.5"/><line x1="111.60" y1="284.98" x2="111.60" y2="285.88" stroke="#c6c6c6" stroke-width="0.5"/><line x1="20.40" y1="354.48" x2="21.30" y2="354.48" stroke="#c6c6c6" stroke-width="0.5"/><line x1="111.60" y1="354.48" x2="110.70" y2="354.48" stroke="#c6c6c6" stroke-width="0.5"/><line x1="20.40" y1="337.10" x2="21.30" y2="337.10" stroke="#c6c6c6" stroke-width="0.5"/><line x1="111.60" y1="337.10" x2="110.70" y2="337.10" stroke="#c6c6c6" stroke-width="0.5"/><line x1="20.40" y1="319.73" x2="21.30" y2="319.73" stroke="#c6c6c6" stroke-width="0.5"/><line x1="111.60" y1="319.73" x2="110.70" y2="319.73" stroke="#c6c6c6" stroke-width="0.5"/><line x1="20.40" y1="302.35" x2="21.30" y2="302.35" stroke="#c6c6c6" stroke-width="0.5"/><line x1="111.60" y1="302.35" x2="110.70" y2="302.35" stroke="#c6c6c6" stroke-width="0.5"/><line x1="20.40" y1="284.98" x2="21.30" y2="284.98" stroke="#c6c6c6" stroke-width="0.5"/><line x1="111.60" y1="284.98" x2="110.70" y2="284.98" stroke="#c6c6c6" stroke-width="0.5"/><text transform="translate(18.90,357.07) scale(0.935,1)" text-anchor="end" class="t">-0.8</text><text transform="translate(18.90,339.69) scale(0.935,1)" text-anchor="end" class="t">-0.6</text><text transform="translate(18.90,322.32) scale(0.935,1)" text-anchor="end" class="t">-0.4</text><text transform="translate(18.90,304.94) scale(0.935,1)" text-anchor="end" class="t">-0.2</text><text transform="translate(18.90,287.57) scale(0.935,1)" text-anchor="end" class="t">0</text><text transform="translate(20.40,362.51) scale(0.935,1)" text-anchor="middle" class="t">0</text><text transform="translate(38.64,362.51) scale(0.935,1)" text-anchor="middle" class="t">10</text><text transform="translate(56.88,362.51) scale(0.935,1)" text-anchor="middle" class="t">20</text><text transform="translate(75.12,362.51) scale(0.935,1)" text-anchor="middle" class="t">30</text><text transform="translate(93.36,362.51) scale(0.935,1)" text-anchor="middle" class="t">40</text><text transform="translate(111.60,362.51) scale(0.935,1)" text-anchor="middle" class="t">50</text></g><g><polygon points="143.17,347.26 145.00,311.56 146.82,310.10 148.65,309.82 150.47,309.72 152.29,309.72 154.12,309.72 155.94,309.72 157.77,309.72 159.59,309.72 161.41,309.71 163.24,309.68 165.06,309.63 166.89,309.59 168.71,309.54 170.53,309.51 172.36,309.47 174.18,309.44 176.01,309.40 177.83,309.36 179.65,309.31 181.48,309.24 183.30,309.16 185.13,309.08 186.95,309.00 188.77,308.95 190.60,308.91 192.42,308.87 194.25,308.84 196.07,308.80 197.89,308.77 199.72,308.73 201.54,308.68 203.37,308.63 205.19,308.60 207.01,308.58 208.84,308.58 210.66,308.58 212.49,308.58 214.31,308.58 216.13,308.58 217.96,308.58 219.78,308.58 221.61,308.58 223.43,308.58 225.25,308.58 227.08,308.58 228.90,308.58 230.73,308.58 230.73,322.74 228.90,322.77 227.08,322.81 225.25,322.86 223.43,322.91 221.61,322.96 219.78,323.01 217.96,323.07 216.13,323.13 214.31,323.19 212.49,323.26 210.66,323.33 208.84,323.41 207.01,323.50 205.19,323.59 203.37,323.70 201.54,323.81 199.72,323.93 197.89,324.04 196.07,324.15 194.25,324.26 192.42,324.36 190.60,324.47 188.77,324.59 186.95,324.72 185.13,324.86 183.30,325.02 181.48,325.17 179.65,325.32 177.83,325.44 176.01,325.56 174.18,325.68 172.36,325.78 170.53,325.88 168.71,325.97 166.89,326.06 165.06,326.14 163.24,326.21 161.41,326.28 159.59,326.33 157.77,326.38 155.94,326.43 154.12,326.47 152.29,326.50 150.47,326.51 148.65,326.51 146.82,326.51 145.00,326.87 143.17,347.26" fill="#a0a0a0"/><polygon points="143.17,347.26 145.00,313.66 146.82,313.12 148.65,312.77 150.47,312.55 152.29,312.43 154.12,312.32 155.94,312.25 157.77,312.19 159.59,312.17 161.41,312.17 163.24,312.17 165.06,312.17 166.89,312.17 168.71,312.17 170.53,312.16 172.36,312.10 174.18,312.02 176.01,311.93 177.83,311.83 179.65,311.76 181.48,311.68 183.30,311.61 185.13,311.54 186.95,311.47 188.77,311.39 190.60,311.32 192.42,311.25 194.25,311.17 196.07,311.10 197.89,311.03 199.72,310.95 201.54,310.87 203.37,310.79 205.19,310.72 207.01,310.66 208.84,310.62 210.66,310.58 212.49,310.54 214.31,310.51 216.13,310.48 217.96,310.45 219.78,310.42 221.61,310.39 223.43,310.37 225.25,310.34 227.08,310.32 228.90,310.30 230.73,310.28 230.73,319.53 228.90,319.60 227.08,319.67 225.25,319.75 223.43,319.82 221.61,319.89 219.78,319.97 217.96,320.04 216.13,320.11 214.31,320.18 212.49,320.26 210.66,320.33 208.84,320.40 207.01,320.48 205.19,320.55 203.37,320.61 201.54,320.68 199.72,320.76 197.89,320.84 196.07,320.93 194.25,321.04 192.42,321.15 190.60,321.27 188.77,321.38 186.95,321.49 185.13,321.61 183.30,321.73 181.48,321.84 179.65,321.94 177.83,322.03 176.01,322.10 174.18,322.17 172.36,322.24 170.53,322.31 168.71,322.38 166.89,322.45 165.06,322.52 163.24,322.59 161.41,322.67 159.59,322.75 157.77,322.84 155.94,322.94 154.12,323.04 152.29,323.16 150.47,323.30 148.65,323.45 146.82,323.68 145.00,324.23 143.17,347.26" fill="#e6e6e6"/><polyline points="143.17,347.26 145.00,321.18 146.82,319.91 148.65,319.65 150.47,319.53 152.29,319.47 154.12,319.44 155.94,319.41 157.77,319.38 159.59,319.35 161.41,319.29 163.24,319.22 165.06,319.15 166.89,319.07 168.71,318.99 170.53,318.92 172.36,318.85 174.18,318.78 176.01,318.71 177.83,318.63 179.65,318.54 181.48,318.44 183.30,318.33 185.13,318.21 186.95,318.10 188.77,317.99 190.60,317.87 192.42,317.76 194.25,317.64 196.07,317.54 197.89,317.44 199.72,317.36 201.54,317.29 203.37,317.23 205.19,317.16 207.01,317.08 208.84,316.99 210.66,316.88 212.49,316.76 214.31,316.65 216.13,316.53 217.96,316.43 219.78,316.33 221.61,316.23 223.43,316.13 225.25,316.03 227.08,315.94 228.90,315.85 230.73,315.76" fill="none" stroke="#1a1a1a" stroke-width="1.25" stroke-linejoin="round"/><rect x="141.35" y="284.98" width="91.20" height="69.50" fill="none" stroke="#c6c6c6" stroke-width="0.95"/><line x1="141.35" y1="354.48" x2="141.35" y2="353.58" stroke="#c6c6c6" stroke-width="0.5"/><line x1="141.35" y1="284.98" x2="141.35" y2="285.88" stroke="#c6c6c6" stroke-width="0.5"/><line x1="159.59" y1="354.48" x2="159.59" y2="353.58" stroke="#c6c6c6" stroke-width="0.5"/><line x1="159.59" y1="284.98" x2="159.59" y2="285.88" stroke="#c6c6c6" stroke-width="0.5"/><line x1="177.83" y1="354.48" x2="177.83" y2="353.58" stroke="#c6c6c6" stroke-width="0.5"/><line x1="177.83" y1="284.98" x2="177.83" y2="285.88" stroke="#c6c6c6" stroke-width="0.5"/><line x1="196.07" y1="354.48" x2="196.07" y2="353.58" stroke="#c6c6c6" stroke-width="0.5"/><line x1="196.07" y1="284.98" x2="196.07" y2="285.88" stroke="#c6c6c6" stroke-width="0.5"/><line x1="214.31" y1="354.48" x2="214.31" y2="353.58" stroke="#c6c6c6" stroke-width="0.5"/><line x1="214.31" y1="284.98" x2="214.31" y2="285.88" stroke="#c6c6c6" stroke-width="0.5"/><line x1="232.55" y1="354.48" x2="232.55" y2="353.58" stroke="#c6c6c6" stroke-width="0.5"/><line x1="232.55" y1="284.98" x2="232.55" y2="285.88" stroke="#c6c6c6" stroke-width="0.5"/><line x1="141.35" y1="354.48" x2="142.25" y2="354.48" stroke="#c6c6c6" stroke-width="0.5"/><line x1="232.55" y1="354.48" x2="231.65" y2="354.48" stroke="#c6c6c6" stroke-width="0.5"/><line x1="141.35" y1="331.31" x2="142.25" y2="331.31" stroke="#c6c6c6" stroke-width="0.5"/><line x1="232.55" y1="331.31" x2="231.65" y2="331.31" stroke="#c6c6c6" stroke-width="0.5"/><line x1="141.35" y1="308.15" x2="142.25" y2="308.15" stroke="#c6c6c6" stroke-width="0.5"/><line x1="232.55" y1="308.15" x2="231.65" y2="308.15" stroke="#c6c6c6" stroke-width="0.5"/><line x1="141.35" y1="284.98" x2="142.25" y2="284.98" stroke="#c6c6c6" stroke-width="0.5"/><line x1="232.55" y1="284.98" x2="231.65" y2="284.98" stroke="#c6c6c6" stroke-width="0.5"/><text transform="translate(139.85,357.07) scale(0.935,1)" text-anchor="end" class="t">-1</text><text transform="translate(139.85,333.90) scale(0.935,1)" text-anchor="end" class="t">-0.5</text><text transform="translate(139.85,310.73) scale(0.935,1)" text-anchor="end" class="t">0</text><text transform="translate(139.85,287.57) scale(0.935,1)" text-anchor="end" class="t">0.5</text><text transform="translate(141.35,362.51) scale(0.935,1)" text-anchor="middle" class="t">0</text><text transform="translate(159.59,362.51) scale(0.935,1)" text-anchor="middle" class="t">10</text><text transform="translate(177.83,362.51) scale(0.935,1)" text-anchor="middle" class="t">20</text><text transform="translate(196.07,362.51) scale(0.935,1)" text-anchor="middle" class="t">30</text><text transform="translate(214.31,362.51) scale(0.935,1)" text-anchor="middle" class="t">40</text><text transform="translate(232.55,362.51) scale(0.935,1)" text-anchor="middle" class="t">50</text></g><g><polygon points="264.12,294.43 265.95,317.57 267.77,321.70 269.60,323.30 271.42,323.87 273.24,324.06 275.07,323.95 276.89,323.71 278.72,323.35 280.54,322.84 282.36,322.26 284.19,321.59 286.01,320.86 287.84,320.07 289.66,319.26 291.48,318.44 293.31,317.56 295.13,316.63 296.96,315.69 298.78,314.75 300.60,313.83 302.43,312.92 304.25,312.01 306.08,311.10 307.90,310.19 309.72,309.28 311.55,308.35 313.37,307.40 315.20,306.47 317.02,305.57 318.84,304.74 320.67,303.96 322.49,303.23 324.32,302.52 326.14,301.81 327.96,301.10 329.79,300.36 331.61,299.61 333.44,298.87 335.26,298.14 337.08,297.44 338.91,296.78 340.73,296.13 342.56,295.49 344.38,294.87 346.20,294.26 348.03,293.68 349.85,293.11 351.68,292.56 351.68,335.19 349.85,335.28 348.03,335.40 346.20,335.53 344.38,335.67 342.56,335.83 340.73,336.00 338.91,336.18 337.08,336.37 335.26,336.58 333.44,336.83 331.61,337.09 329.79,337.37 327.96,337.67 326.14,337.98 324.32,338.33 322.49,338.70 320.67,339.09 318.84,339.49 317.02,339.93 315.20,340.41 313.37,340.91 311.55,341.41 309.72,341.87 307.90,342.29 306.08,342.71 304.25,343.11 302.43,343.47 300.60,343.76 298.78,343.98 296.96,344.19 295.13,344.37 293.31,344.52 291.48,344.61 289.66,344.62 287.84,344.59 286.01,344.54 284.19,344.46 282.36,344.35 280.54,344.21 278.72,343.79 276.89,343.24 275.07,342.69 273.24,341.93 271.42,340.51 269.60,338.37 267.77,335.00 265.95,328.66 264.12,294.43" fill="#a0a0a0"/><polygon points="264.12,294.43 265.95,322.28 267.77,326.60 269.60,328.12 271.42,329.01 273.24,329.53 275.07,329.53 276.89,329.53 278.72,329.44 280.54,329.20 282.36,328.91 284.19,328.51 286.01,328.02 287.84,327.48 289.66,326.91 291.48,326.32 293.31,325.66 295.13,324.93 296.96,324.17 298.78,323.37 300.60,322.55 302.43,321.65 304.25,320.70 306.08,319.74 307.90,318.83 309.72,317.99 311.55,317.22 313.37,316.49 315.20,315.79 317.02,315.08 318.84,314.37 320.67,313.62 322.49,312.86 324.32,312.10 326.14,311.38 327.96,310.71 329.79,310.10 331.61,309.51 333.44,308.95 335.26,308.43 337.08,307.95 338.91,307.51 340.73,307.08 342.56,306.67 344.38,306.29 346.20,305.92 348.03,305.59 349.85,305.28 351.68,305.01 351.68,328.78 349.85,328.92 348.03,329.09 346.20,329.27 344.38,329.46 342.56,329.67 340.73,329.88 338.91,330.11 337.08,330.35 335.26,330.60 333.44,330.89 331.61,331.19 329.79,331.50 327.96,331.82 326.14,332.15 324.32,332.51 322.49,332.87 320.67,333.25 318.84,333.64 317.02,334.06 315.20,334.50 313.37,334.96 311.55,335.41 309.72,335.83 307.90,336.24 306.08,336.65 304.25,337.04 302.43,337.40 300.60,337.71 298.78,337.97 296.96,338.22 295.13,338.45 293.31,338.64 291.48,338.75 289.66,338.77 287.84,338.77 286.01,338.77 284.19,338.77 282.36,338.77 280.54,338.77 278.72,338.54 276.89,338.16 275.07,337.61 273.24,336.84 271.42,335.74 269.60,334.10 267.77,331.45 265.95,326.03 264.12,294.43" fill="#e6e6e6"/><polyline points="264.12,294.43 265.95,321.68 267.77,328.43 269.60,330.86 271.42,332.20 273.24,333.07 275.07,333.82 276.89,334.39 278.72,334.76 280.54,334.99 282.36,335.00 284.19,335.00 286.01,335.00 287.84,335.00 289.66,335.00 291.48,334.97 293.31,334.81 295.13,334.54 296.96,334.22 298.78,333.87 300.60,333.52 302.43,333.10 304.25,332.62 306.08,332.10 307.90,331.58 309.72,331.10 311.55,330.62 313.37,330.14 315.20,329.66 317.02,329.19 318.84,328.73 320.67,328.28 322.49,327.85 324.32,327.41 326.14,326.98 327.96,326.55 329.79,326.11 331.61,325.66 333.44,325.22 335.26,324.78 337.08,324.35 338.91,323.94 340.73,323.54 342.56,323.14 344.38,322.74 346.20,322.35 348.03,321.97 349.85,321.60 351.68,321.24" fill="none" stroke="#1a1a1a" stroke-width="1.25" stroke-linejoin="round"/><rect x="262.30" y="284.98" width="91.20" height="69.50" fill="none" stroke="#c6c6c6" stroke-width="0.95"/><line x1="262.30" y1="354.48" x2="262.30" y2="353.58" stroke="#c6c6c6" stroke-width="0.5"/><line x1="262.30" y1="284.98" x2="262.30" y2="285.88" stroke="#c6c6c6" stroke-width="0.5"/><line x1="280.54" y1="354.48" x2="280.54" y2="353.58" stroke="#c6c6c6" stroke-width="0.5"/><line x1="280.54" y1="284.98" x2="280.54" y2="285.88" stroke="#c6c6c6" stroke-width="0.5"/><line x1="298.78" y1="354.48" x2="298.78" y2="353.58" stroke="#c6c6c6" stroke-width="0.5"/><line x1="298.78" y1="284.98" x2="298.78" y2="285.88" stroke="#c6c6c6" stroke-width="0.5"/><line x1="317.02" y1="354.48" x2="317.02" y2="353.58" stroke="#c6c6c6" stroke-width="0.5"/><line x1="317.02" y1="284.98" x2="317.02" y2="285.88" stroke="#c6c6c6" stroke-width="0.5"/><line x1="335.26" y1="354.48" x2="335.26" y2="353.58" stroke="#c6c6c6" stroke-width="0.5"/><line x1="335.26" y1="284.98" x2="335.26" y2="285.88" stroke="#c6c6c6" stroke-width="0.5"/><line x1="353.50" y1="354.48" x2="353.50" y2="353.58" stroke="#c6c6c6" stroke-width="0.5"/><line x1="353.50" y1="284.98" x2="353.50" y2="285.88" stroke="#c6c6c6" stroke-width="0.5"/><line x1="262.30" y1="354.48" x2="263.20" y2="354.48" stroke="#c6c6c6" stroke-width="0.5"/><line x1="353.50" y1="354.48" x2="352.60" y2="354.48" stroke="#c6c6c6" stroke-width="0.5"/><line x1="262.30" y1="340.58" x2="263.20" y2="340.58" stroke="#c6c6c6" stroke-width="0.5"/><line x1="353.50" y1="340.58" x2="352.60" y2="340.58" stroke="#c6c6c6" stroke-width="0.5"/><line x1="262.30" y1="326.68" x2="263.20" y2="326.68" stroke="#c6c6c6" stroke-width="0.5"/><line x1="353.50" y1="326.68" x2="352.60" y2="326.68" stroke="#c6c6c6" stroke-width="0.5"/><line x1="262.30" y1="312.78" x2="263.20" y2="312.78" stroke="#c6c6c6" stroke-width="0.5"/><line x1="353.50" y1="312.78" x2="352.60" y2="312.78" stroke="#c6c6c6" stroke-width="0.5"/><line x1="262.30" y1="298.88" x2="263.20" y2="298.88" stroke="#c6c6c6" stroke-width="0.5"/><line x1="353.50" y1="298.88" x2="352.60" y2="298.88" stroke="#c6c6c6" stroke-width="0.5"/><line x1="262.30" y1="284.98" x2="263.20" y2="284.98" stroke="#c6c6c6" stroke-width="0.5"/><line x1="353.50" y1="284.98" x2="352.60" y2="284.98" stroke="#c6c6c6" stroke-width="0.5"/><text transform="translate(260.80,357.07) scale(0.935,1)" text-anchor="end" class="t">-1.2</text><text transform="translate(260.80,343.17) scale(0.935,1)" text-anchor="end" class="t">-1</text><text transform="translate(260.80,329.27) scale(0.935,1)" text-anchor="end" class="t">-0.8</text><text transform="translate(260.80,315.37) scale(0.935,1)" text-anchor="end" class="t">-0.6</text><text transform="translate(260.80,301.47) scale(0.935,1)" text-anchor="end" class="t">-0.4</text><text transform="translate(260.80,287.57) scale(0.935,1)" text-anchor="end" class="t">-0.2</text><text transform="translate(262.30,362.51) scale(0.935,1)" text-anchor="middle" class="t">0</text><text transform="translate(280.54,362.51) scale(0.935,1)" text-anchor="middle" class="t">10</text><text transform="translate(298.78,362.51) scale(0.935,1)" text-anchor="middle" class="t">20</text><text transform="translate(317.02,362.51) scale(0.935,1)" text-anchor="middle" class="t">30</text><text transform="translate(335.26,362.51) scale(0.935,1)" text-anchor="middle" class="t">40</text><text transform="translate(353.50,362.51) scale(0.935,1)" text-anchor="middle" class="t">50</text></g><g><polygon points="385.07,343.49 386.90,299.89 388.72,298.78 390.55,298.77 392.37,298.77 394.19,298.59 396.02,298.11 397.84,297.54 399.67,296.87 401.49,296.09 403.31,295.47 405.14,294.90 406.96,294.37 408.79,293.85 410.61,293.33 412.43,292.78 414.26,292.22 416.08,291.65 417.91,291.10 419.73,290.57 421.55,290.08 423.38,289.60 425.20,289.14 427.03,288.70 428.85,288.30 430.67,287.93 432.50,287.60 434.32,287.29 436.15,287.00 437.97,286.73 439.79,286.49 441.62,286.27 443.44,286.06 445.27,285.87 447.09,285.71 448.91,285.58 450.74,285.48 452.56,285.39 454.39,285.31 456.21,285.25 458.03,285.20 459.86,285.16 461.68,285.13 463.51,285.09 465.33,285.06 467.15,285.04 468.98,285.02 470.80,285.00 472.63,285.00 472.63,314.06 470.80,314.15 468.98,314.26 467.15,314.37 465.33,314.49 463.51,314.62 461.68,314.75 459.86,314.90 458.03,315.04 456.21,315.20 454.39,315.38 452.56,315.56 450.74,315.76 448.91,315.97 447.09,316.19 445.27,316.43 443.44,316.68 441.62,316.95 439.79,317.24 437.97,317.56 436.15,317.90 434.32,318.26 432.50,318.65 430.67,319.05 428.85,319.47 427.03,319.92 425.20,320.40 423.38,320.89 421.55,321.39 419.73,321.91 417.91,322.47 416.08,323.06 414.26,323.63 412.43,324.15 410.61,324.61 408.79,325.03 406.96,325.44 405.14,325.80 403.31,326.12 401.49,326.37 399.67,326.61 397.84,326.70 396.02,326.64 394.19,326.51 392.37,326.31 390.55,325.83 388.72,324.90 386.90,322.97 385.07,343.49" fill="#a0a0a0"/><polygon points="385.07,343.49 386.90,303.97 388.72,303.87 390.55,304.13 392.37,304.43 394.19,304.43 396.02,304.43 397.84,304.43 399.67,304.29 401.49,303.94 403.31,303.59 405.14,303.18 406.96,302.73 408.79,302.26 410.61,301.79 412.43,301.33 414.26,300.86 416.08,300.38 417.91,299.90 419.73,299.43 421.55,298.95 423.38,298.44 425.20,297.92 427.03,297.42 428.85,296.98 430.67,296.62 432.50,296.33 434.32,296.07 436.15,295.84 437.97,295.60 439.79,295.36 441.62,295.10 443.44,294.83 445.27,294.56 447.09,294.31 448.91,294.08 450.74,293.87 452.56,293.66 454.39,293.46 456.21,293.29 458.03,293.15 459.86,293.04 461.68,292.93 463.51,292.84 465.33,292.75 467.15,292.67 468.98,292.61 470.80,292.57 472.63,292.55 472.63,309.91 470.80,310.06 468.98,310.21 467.15,310.35 465.33,310.50 463.51,310.64 461.68,310.79 459.86,310.93 458.03,311.08 456.21,311.22 454.39,311.36 452.56,311.50 450.74,311.65 448.91,311.81 447.09,312.00 445.27,312.19 443.44,312.41 441.62,312.65 439.79,312.91 437.97,313.20 436.15,313.55 434.32,313.92 432.50,314.31 430.67,314.71 428.85,315.12 427.03,315.53 425.20,315.96 423.38,316.41 421.55,316.87 419.73,317.37 417.91,317.95 416.08,318.55 414.26,319.14 412.43,319.65 410.61,320.05 408.79,320.40 406.96,320.71 405.14,320.99 403.31,321.24 401.49,321.47 399.67,321.70 397.84,321.79 396.02,321.79 394.19,321.79 392.37,321.79 390.55,321.48 388.72,320.78 386.90,319.40 385.07,343.49" fill="#e6e6e6"/><line x1="383.25" y1="343.49" x2="474.45" y2="343.49" stroke="#c8c8c8" stroke-width="0.70"/><polyline points="385.07,343.49 386.90,313.38 388.72,313.30 390.55,313.67 392.37,314.23 394.19,314.50 396.02,314.71 397.84,314.81 399.67,314.77 401.49,314.65 403.31,314.48 405.14,314.21 406.96,313.87 408.79,313.48 410.61,313.08 412.43,312.68 414.26,312.23 416.08,311.75 417.91,311.25 419.73,310.75 421.55,310.27 423.38,309.78 425.20,309.29 427.03,308.80 428.85,308.34 430.67,307.92 432.50,307.52 434.32,307.13 436.15,306.77 437.97,306.43 439.79,306.11 441.62,305.83 443.44,305.57 445.27,305.33 447.09,305.09 448.91,304.84 450.74,304.58 452.56,304.32 454.39,304.05 456.21,303.80 458.03,303.56 459.86,303.33 461.68,303.12 463.51,302.91 465.33,302.71 467.15,302.51 468.98,302.33 470.80,302.15 472.63,301.99" fill="none" stroke="#1a1a1a" stroke-width="1.25" stroke-linejoin="round"/><rect x="383.25" y="284.98" width="91.20" height="69.50" fill="none" stroke="#c6c6c6" stroke-width="0.95"/><line x1="383.25" y1="354.48" x2="383.25" y2="353.58" stroke="#c6c6c6" stroke-width="0.5"/><line x1="383.25" y1="284.98" x2="383.25" y2="285.88" stroke="#c6c6c6" stroke-width="0.5"/><line x1="401.49" y1="354.48" x2="401.49" y2="353.58" stroke="#c6c6c6" stroke-width="0.5"/><line x1="401.49" y1="284.98" x2="401.49" y2="285.88" stroke="#c6c6c6" stroke-width="0.5"/><line x1="419.73" y1="354.48" x2="419.73" y2="353.58" stroke="#c6c6c6" stroke-width="0.5"/><line x1="419.73" y1="284.98" x2="419.73" y2="285.88" stroke="#c6c6c6" stroke-width="0.5"/><line x1="437.97" y1="354.48" x2="437.97" y2="353.58" stroke="#c6c6c6" stroke-width="0.5"/><line x1="437.97" y1="284.98" x2="437.97" y2="285.88" stroke="#c6c6c6" stroke-width="0.5"/><line x1="456.21" y1="354.48" x2="456.21" y2="353.58" stroke="#c6c6c6" stroke-width="0.5"/><line x1="456.21" y1="284.98" x2="456.21" y2="285.88" stroke="#c6c6c6" stroke-width="0.5"/><line x1="474.45" y1="354.48" x2="474.45" y2="353.58" stroke="#c6c6c6" stroke-width="0.5"/><line x1="474.45" y1="284.98" x2="474.45" y2="285.88" stroke="#c6c6c6" stroke-width="0.5"/><line x1="383.25" y1="354.48" x2="384.15" y2="354.48" stroke="#c6c6c6" stroke-width="0.5"/><line x1="474.45" y1="354.48" x2="473.55" y2="354.48" stroke="#c6c6c6" stroke-width="0.5"/><line x1="383.25" y1="340.58" x2="384.15" y2="340.58" stroke="#c6c6c6" stroke-width="0.5"/><line x1="474.45" y1="340.58" x2="473.55" y2="340.58" stroke="#c6c6c6" stroke-width="0.5"/><line x1="383.25" y1="326.68" x2="384.15" y2="326.68" stroke="#c6c6c6" stroke-width="0.5"/><line x1="474.45" y1="326.68" x2="473.55" y2="326.68" stroke="#c6c6c6" stroke-width="0.5"/><line x1="383.25" y1="312.78" x2="384.15" y2="312.78" stroke="#c6c6c6" stroke-width="0.5"/><line x1="474.45" y1="312.78" x2="473.55" y2="312.78" stroke="#c6c6c6" stroke-width="0.5"/><line x1="383.25" y1="298.88" x2="384.15" y2="298.88" stroke="#c6c6c6" stroke-width="0.5"/><line x1="474.45" y1="298.88" x2="473.55" y2="298.88" stroke="#c6c6c6" stroke-width="0.5"/><line x1="383.25" y1="284.98" x2="384.15" y2="284.98" stroke="#c6c6c6" stroke-width="0.5"/><line x1="474.45" y1="284.98" x2="473.55" y2="284.98" stroke="#c6c6c6" stroke-width="0.5"/><text transform="translate(381.75,357.07) scale(0.935,1)" text-anchor="end" class="t">-1</text><text transform="translate(381.75,343.17) scale(0.935,1)" text-anchor="end" class="t">-0.8</text><text transform="translate(381.75,329.27) scale(0.935,1)" text-anchor="end" class="t">-0.6</text><text transform="translate(381.75,315.37) scale(0.935,1)" text-anchor="end" class="t">-0.4</text><text transform="translate(381.75,301.47) scale(0.935,1)" text-anchor="end" class="t">-0.2</text><text transform="translate(381.75,287.57) scale(0.935,1)" text-anchor="end" class="t">0</text><text transform="translate(383.25,362.51) scale(0.935,1)" text-anchor="middle" class="t">0</text><text transform="translate(401.49,362.51) scale(0.935,1)" text-anchor="middle" class="t">10</text><text transform="translate(419.73,362.51) scale(0.935,1)" text-anchor="middle" class="t">20</text><text transform="translate(437.97,362.51) scale(0.935,1)" text-anchor="middle" class="t">30</text><text transform="translate(456.21,362.51) scale(0.935,1)" text-anchor="middle" class="t">40</text><text transform="translate(474.45,362.51) scale(0.935,1)" text-anchor="middle" class="t">50</text></g><g><polygon points="22.22,425.00 24.05,423.41 25.87,421.62 27.70,419.77 29.52,417.92 31.34,416.12 33.17,414.48 34.99,412.85 36.82,411.02 38.64,409.19 40.46,407.57 42.29,406.02 44.11,404.54 45.94,403.13 47.76,401.81 49.58,400.58 51.41,399.42 53.23,398.32 55.06,397.27 56.88,396.25 58.70,395.26 60.53,394.29 62.35,393.35 64.18,392.45 66.00,391.59 67.82,390.78 69.65,390.00 71.47,389.25 73.30,388.53 75.12,387.84 76.94,387.17 78.77,386.52 80.59,385.91 82.42,385.30 84.24,384.70 86.06,384.08 87.89,383.41 89.71,382.71 91.54,382.02 93.36,381.36 95.18,380.77 97.01,380.26 98.83,379.77 100.66,379.30 102.48,378.86 104.30,378.45 106.13,378.07 107.95,377.74 109.78,377.45 109.78,425.94 107.95,426.19 106.13,426.45 104.30,426.71 102.48,426.98 100.66,427.25 98.83,427.52 97.01,427.80 95.18,428.08 93.36,428.36 91.54,428.65 89.71,428.95 87.89,429.24 86.06,429.54 84.24,429.82 82.42,430.10 80.59,430.39 78.77,430.68 76.94,430.99 75.12,431.32 73.30,431.67 71.47,432.03 69.65,432.41 67.82,432.80 66.00,433.20 64.18,433.62 62.35,434.06 60.53,434.50 58.70,434.96 56.88,435.42 55.06,435.89 53.23,436.37 51.41,436.85 49.58,437.33 47.76,437.79 45.94,438.26 44.11,438.73 42.29,439.18 40.46,439.60 38.64,439.95 36.82,440.31 34.99,440.47 33.17,440.34 31.34,440.10 29.52,439.77 27.70,439.21 25.87,437.98 24.05,435.35 22.22,426.70" fill="#a0a0a0"/><polygon points="22.22,425.57 24.05,426.89 25.87,426.47 27.70,425.69 29.52,424.54 31.34,423.30 33.17,422.38 34.99,421.48 36.82,420.43 38.64,419.31 40.46,418.15 42.29,416.94 44.11,415.71 45.94,414.48 47.76,413.29 49.58,412.14 51.41,411.01 53.23,409.89 55.06,408.81 56.88,407.76 58.70,406.77 60.53,405.80 62.35,404.86 64.18,403.96 66.00,403.10 67.82,402.29 69.65,401.52 71.47,400.79 73.30,400.09 75.12,399.38 76.94,398.67 78.77,397.93 80.59,397.18 82.42,396.44 84.24,395.71 86.06,395.02 87.89,394.36 89.71,393.72 91.54,393.09 93.36,392.49 95.18,391.91 97.01,391.35 98.83,390.80 100.66,390.27 102.48,389.74 104.30,389.24 106.13,388.75 107.95,388.27 109.78,387.83 109.78,420.09 107.95,420.34 106.13,420.60 104.30,420.86 102.48,421.13 100.66,421.40 98.83,421.67 97.01,421.95 95.18,422.23 93.36,422.51 91.54,422.79 89.71,423.08 87.89,423.37 86.06,423.69 84.24,424.03 82.42,424.39 80.59,424.76 78.77,425.14 76.94,425.51 75.12,425.88 73.30,426.24 71.47,426.61 69.65,426.97 67.82,427.33 66.00,427.69 64.18,428.05 62.35,428.40 60.53,428.76 58.70,429.14 56.88,429.55 55.06,430.01 53.23,430.49 51.41,430.99 49.58,431.47 47.76,431.94 45.94,432.38 44.11,432.81 42.29,433.24 40.46,433.68 38.64,434.12 36.82,434.63 34.99,435.02 33.17,435.26 31.34,435.38 29.52,435.38 27.70,435.38 25.87,434.68 24.05,432.66 22.22,426.32" fill="#e6e6e6"/><line x1="20.40" y1="440.47" x2="111.60" y2="440.47" stroke="#c8c8c8" stroke-width="0.70"/><polyline points="22.22,425.94 24.05,429.81 25.87,431.23 27.70,431.64 29.52,431.79 31.34,431.61 33.17,431.19 34.99,430.69 36.82,430.11 38.64,429.43 40.46,428.78 42.29,428.12 44.11,427.46 45.94,426.80 47.76,426.15 49.58,425.51 51.41,424.88 53.23,424.26 55.06,423.64 56.88,423.03 58.70,422.43 60.53,421.82 62.35,421.21 64.18,420.62 66.00,420.07 67.82,419.56 69.65,419.09 71.47,418.66 73.30,418.24 75.12,417.82 76.94,417.39 78.77,416.95 80.59,416.51 82.42,416.08 84.24,415.64 86.06,415.20 87.89,414.75 89.71,414.30 91.54,413.84 93.36,413.41 95.18,413.00 97.01,412.63 98.83,412.28 100.66,411.93 102.48,411.60 104.30,411.29 106.13,411.00 107.95,410.72 109.78,410.47" fill="none" stroke="#1a1a1a" stroke-width="1.25" stroke-linejoin="round"/><rect x="20.40" y="374.84" width="91.20" height="69.50" fill="none" stroke="#c6c6c6" stroke-width="0.95"/><line x1="20.40" y1="444.34" x2="20.40" y2="443.44" stroke="#c6c6c6" stroke-width="0.5"/><line x1="20.40" y1="374.84" x2="20.40" y2="375.74" stroke="#c6c6c6" stroke-width="0.5"/><line x1="38.64" y1="444.34" x2="38.64" y2="443.44" stroke="#c6c6c6" stroke-width="0.5"/><line x1="38.64" y1="374.84" x2="38.64" y2="375.74" stroke="#c6c6c6" stroke-width="0.5"/><line x1="56.88" y1="444.34" x2="56.88" y2="443.44" stroke="#c6c6c6" stroke-width="0.5"/><line x1="56.88" y1="374.84" x2="56.88" y2="375.74" stroke="#c6c6c6" stroke-width="0.5"/><line x1="75.12" y1="444.34" x2="75.12" y2="443.44" stroke="#c6c6c6" stroke-width="0.5"/><line x1="75.12" y1="374.84" x2="75.12" y2="375.74" stroke="#c6c6c6" stroke-width="0.5"/><line x1="93.36" y1="444.34" x2="93.36" y2="443.44" stroke="#c6c6c6" stroke-width="0.5"/><line x1="93.36" y1="374.84" x2="93.36" y2="375.74" stroke="#c6c6c6" stroke-width="0.5"/><line x1="111.60" y1="444.34" x2="111.60" y2="443.44" stroke="#c6c6c6" stroke-width="0.5"/><line x1="111.60" y1="374.84" x2="111.60" y2="375.74" stroke="#c6c6c6" stroke-width="0.5"/><line x1="20.40" y1="444.34" x2="21.30" y2="444.34" stroke="#c6c6c6" stroke-width="0.5"/><line x1="111.60" y1="444.34" x2="110.70" y2="444.34" stroke="#c6c6c6" stroke-width="0.5"/><line x1="20.40" y1="426.96" x2="21.30" y2="426.96" stroke="#c6c6c6" stroke-width="0.5"/><line x1="111.60" y1="426.96" x2="110.70" y2="426.96" stroke="#c6c6c6" stroke-width="0.5"/><line x1="20.40" y1="409.59" x2="21.30" y2="409.59" stroke="#c6c6c6" stroke-width="0.5"/><line x1="111.60" y1="409.59" x2="110.70" y2="409.59" stroke="#c6c6c6" stroke-width="0.5"/><line x1="20.40" y1="392.21" x2="21.30" y2="392.21" stroke="#c6c6c6" stroke-width="0.5"/><line x1="111.60" y1="392.21" x2="110.70" y2="392.21" stroke="#c6c6c6" stroke-width="0.5"/><line x1="20.40" y1="374.84" x2="21.30" y2="374.84" stroke="#c6c6c6" stroke-width="0.5"/><line x1="111.60" y1="374.84" x2="110.70" y2="374.84" stroke="#c6c6c6" stroke-width="0.5"/><text transform="translate(18.90,446.93) scale(0.935,1)" text-anchor="end" class="t">-1</text><text transform="translate(18.90,429.55) scale(0.935,1)" text-anchor="end" class="t">-0.8</text><text transform="translate(18.90,412.18) scale(0.935,1)" text-anchor="end" class="t">-0.6</text><text transform="translate(18.90,394.80) scale(0.935,1)" text-anchor="end" class="t">-0.4</text><text transform="translate(18.90,377.43) scale(0.935,1)" text-anchor="end" class="t">-0.2</text><text transform="translate(20.40,452.37) scale(0.935,1)" text-anchor="middle" class="t">0</text><text transform="translate(38.64,452.37) scale(0.935,1)" text-anchor="middle" class="t">10</text><text transform="translate(56.88,452.37) scale(0.935,1)" text-anchor="middle" class="t">20</text><text transform="translate(75.12,452.37) scale(0.935,1)" text-anchor="middle" class="t">30</text><text transform="translate(93.36,452.37) scale(0.935,1)" text-anchor="middle" class="t">40</text><text transform="translate(111.60,452.37) scale(0.935,1)" text-anchor="middle" class="t">50</text></g><g><polygon points="143.17,394.81 145.00,411.14 146.82,414.59 148.65,416.12 150.47,416.79 152.29,417.08 154.12,416.92 155.94,416.55 157.77,415.71 159.59,414.43 161.41,413.35 163.24,412.28 165.06,411.12 166.89,409.82 168.71,408.47 170.53,407.17 172.36,405.88 174.18,404.59 176.01,403.32 177.83,402.06 179.65,400.82 181.48,399.59 183.30,398.36 185.13,397.16 186.95,395.99 188.77,394.85 190.60,393.74 192.42,392.65 194.25,391.60 196.07,390.58 197.89,389.60 199.72,388.67 201.54,387.77 203.37,386.90 205.19,386.06 207.01,385.24 208.84,384.43 210.66,383.64 212.49,382.88 214.31,382.13 216.13,381.40 217.96,380.68 219.78,379.97 221.61,379.27 223.43,378.58 225.25,377.90 227.08,377.23 228.90,376.58 230.73,375.95 230.73,417.26 228.90,417.39 227.08,417.54 225.25,417.72 223.43,417.91 221.61,418.12 219.78,418.35 217.96,418.59 216.13,418.83 214.31,419.11 212.49,419.42 210.66,419.75 208.84,420.11 207.01,420.49 205.19,420.90 203.37,421.34 201.54,421.82 199.72,422.32 197.89,422.86 196.07,423.43 194.25,424.06 192.42,424.73 190.60,425.42 188.77,426.11 186.95,426.82 185.13,427.55 183.30,428.30 181.48,429.05 179.65,429.77 177.83,430.45 176.01,431.13 174.18,431.79 172.36,432.42 170.53,432.98 168.71,433.46 166.89,433.96 165.06,434.43 163.24,434.84 161.41,435.11 159.59,435.19 157.77,435.19 155.94,435.18 154.12,434.70 152.29,433.85 150.47,432.76 148.65,431.15 146.82,428.52 145.00,423.08 143.17,394.81" fill="#a0a0a0"/><polygon points="143.17,394.81 145.00,415.29 146.82,418.92 148.65,420.77 150.47,421.52 152.29,421.79 154.12,421.69 155.94,421.44 157.77,421.02 159.59,420.39 161.41,419.70 163.24,418.89 165.06,418.00 166.89,417.06 168.71,416.09 170.53,415.10 172.36,414.04 174.18,412.93 176.01,411.80 177.83,410.67 179.65,409.57 181.48,408.47 183.30,407.36 185.13,406.26 186.95,405.18 188.77,404.12 190.60,403.07 192.42,402.03 194.25,401.01 196.07,400.01 197.89,399.03 199.72,398.08 201.54,397.13 203.37,396.21 205.19,395.32 207.01,394.48 208.84,393.68 210.66,392.89 212.49,392.15 214.31,391.44 216.13,390.80 217.96,390.21 219.78,389.65 221.61,389.10 223.43,388.59 225.25,388.11 227.08,387.66 228.90,387.25 230.73,386.89 230.73,411.79 228.90,412.03 227.08,412.29 225.25,412.56 223.43,412.85 221.61,413.15 219.78,413.47 217.96,413.80 216.13,414.14 214.31,414.50 212.49,414.88 210.66,415.29 208.84,415.72 207.01,416.16 205.19,416.62 203.37,417.10 201.54,417.61 199.72,418.15 197.89,418.70 196.07,419.30 194.25,419.94 192.42,420.62 190.60,421.30 188.77,421.97 186.95,422.63 185.13,423.29 183.30,423.95 181.48,424.61 179.65,425.26 177.83,425.90 176.01,426.57 174.18,427.24 172.36,427.88 170.53,428.45 168.71,428.93 166.89,429.43 165.06,429.91 163.24,430.31 161.41,430.58 159.59,430.66 157.77,430.66 155.94,430.66 154.12,430.32 152.29,429.70 150.47,428.85 148.65,427.44 146.82,424.94 145.00,420.42 143.17,394.81" fill="#e6e6e6"/><line x1="141.35" y1="435.75" x2="232.55" y2="435.75" stroke="#c8c8c8" stroke-width="0.70"/><polyline points="143.17,394.81 145.00,413.84 146.82,420.21 148.65,423.20 150.47,424.63 152.29,425.55 154.12,426.29 155.94,426.69 157.77,426.70 159.59,426.70 161.41,426.57 163.24,426.22 165.06,425.86 166.89,425.53 168.71,425.15 170.53,424.68 172.36,424.13 174.18,423.51 176.01,422.84 177.83,422.15 179.65,421.46 181.48,420.72 183.30,419.95 185.13,419.16 186.95,418.37 188.77,417.60 190.60,416.82 192.42,416.04 194.25,415.26 196.07,414.50 197.89,413.78 199.72,413.09 201.54,412.42 203.37,411.77 205.19,411.13 207.01,410.51 208.84,409.89 210.66,409.27 212.49,408.67 214.31,408.10 216.13,407.57 217.96,407.08 219.78,406.61 221.61,406.16 223.43,405.73 225.25,405.32 227.08,404.93 228.90,404.57 230.73,404.25" fill="none" stroke="#1a1a1a" stroke-width="1.25" stroke-linejoin="round"/><rect x="141.35" y="374.84" width="91.20" height="69.50" fill="none" stroke="#c6c6c6" stroke-width="0.95"/><line x1="141.35" y1="444.34" x2="141.35" y2="443.44" stroke="#c6c6c6" stroke-width="0.5"/><line x1="141.35" y1="374.84" x2="141.35" y2="375.74" stroke="#c6c6c6" stroke-width="0.5"/><line x1="159.59" y1="444.34" x2="159.59" y2="443.44" stroke="#c6c6c6" stroke-width="0.5"/><line x1="159.59" y1="374.84" x2="159.59" y2="375.74" stroke="#c6c6c6" stroke-width="0.5"/><line x1="177.83" y1="444.34" x2="177.83" y2="443.44" stroke="#c6c6c6" stroke-width="0.5"/><line x1="177.83" y1="374.84" x2="177.83" y2="375.74" stroke="#c6c6c6" stroke-width="0.5"/><line x1="196.07" y1="444.34" x2="196.07" y2="443.44" stroke="#c6c6c6" stroke-width="0.5"/><line x1="196.07" y1="374.84" x2="196.07" y2="375.74" stroke="#c6c6c6" stroke-width="0.5"/><line x1="214.31" y1="444.34" x2="214.31" y2="443.44" stroke="#c6c6c6" stroke-width="0.5"/><line x1="214.31" y1="374.84" x2="214.31" y2="375.74" stroke="#c6c6c6" stroke-width="0.5"/><line x1="232.55" y1="444.34" x2="232.55" y2="443.44" stroke="#c6c6c6" stroke-width="0.5"/><line x1="232.55" y1="374.84" x2="232.55" y2="375.74" stroke="#c6c6c6" stroke-width="0.5"/><line x1="141.35" y1="444.34" x2="142.25" y2="444.34" stroke="#c6c6c6" stroke-width="0.5"/><line x1="232.55" y1="444.34" x2="231.65" y2="444.34" stroke="#c6c6c6" stroke-width="0.5"/><line x1="141.35" y1="430.44" x2="142.25" y2="430.44" stroke="#c6c6c6" stroke-width="0.5"/><line x1="232.55" y1="430.44" x2="231.65" y2="430.44" stroke="#c6c6c6" stroke-width="0.5"/><line x1="141.35" y1="416.54" x2="142.25" y2="416.54" stroke="#c6c6c6" stroke-width="0.5"/><line x1="232.55" y1="416.54" x2="231.65" y2="416.54" stroke="#c6c6c6" stroke-width="0.5"/><line x1="141.35" y1="402.64" x2="142.25" y2="402.64" stroke="#c6c6c6" stroke-width="0.5"/><line x1="232.55" y1="402.64" x2="231.65" y2="402.64" stroke="#c6c6c6" stroke-width="0.5"/><line x1="141.35" y1="388.74" x2="142.25" y2="388.74" stroke="#c6c6c6" stroke-width="0.5"/><line x1="232.55" y1="388.74" x2="231.65" y2="388.74" stroke="#c6c6c6" stroke-width="0.5"/><line x1="141.35" y1="374.84" x2="142.25" y2="374.84" stroke="#c6c6c6" stroke-width="0.5"/><line x1="232.55" y1="374.84" x2="231.65" y2="374.84" stroke="#c6c6c6" stroke-width="0.5"/><text transform="translate(139.85,446.93) scale(0.935,1)" text-anchor="end" class="t">-1.2</text><text transform="translate(139.85,433.03) scale(0.935,1)" text-anchor="end" class="t">-1</text><text transform="translate(139.85,419.13) scale(0.935,1)" text-anchor="end" class="t">-0.8</text><text transform="translate(139.85,405.23) scale(0.935,1)" text-anchor="end" class="t">-0.6</text><text transform="translate(139.85,391.33) scale(0.935,1)" text-anchor="end" class="t">-0.4</text><text transform="translate(139.85,377.43) scale(0.935,1)" text-anchor="end" class="t">-0.2</text><text transform="translate(141.35,452.37) scale(0.935,1)" text-anchor="middle" class="t">0</text><text transform="translate(159.59,452.37) scale(0.935,1)" text-anchor="middle" class="t">10</text><text transform="translate(177.83,452.37) scale(0.935,1)" text-anchor="middle" class="t">20</text><text transform="translate(196.07,452.37) scale(0.935,1)" text-anchor="middle" class="t">30</text><text transform="translate(214.31,452.37) scale(0.935,1)" text-anchor="middle" class="t">40</text><text transform="translate(232.55,452.37) scale(0.935,1)" text-anchor="middle" class="t">50</text></g><g><polygon points="264.12,410.47 265.95,414.02 267.77,417.34 269.60,419.47 271.42,421.02 273.24,422.13 275.07,422.77 276.89,423.11 278.72,422.87 280.54,422.28 282.36,421.65 284.19,420.86 286.01,419.95 287.84,418.95 289.66,417.87 291.48,416.70 293.31,415.35 295.13,413.86 296.96,412.30 298.78,410.74 300.60,409.23 302.43,407.69 304.25,406.13 306.08,404.58 307.90,403.06 309.72,401.59 311.55,400.16 313.37,398.75 315.20,397.38 317.02,396.02 318.84,394.69 320.67,393.35 322.49,392.02 324.32,390.72 326.14,389.47 327.96,388.30 329.79,387.22 331.61,386.19 333.44,385.20 335.26,384.26 337.08,383.35 338.91,382.46 340.73,381.60 342.56,380.75 344.38,379.93 346.20,379.13 348.03,378.36 349.85,377.62 351.68,376.91 351.68,421.04 349.85,421.23 348.03,421.43 346.20,421.65 344.38,421.90 342.56,422.15 340.73,422.43 338.91,422.71 337.08,423.00 335.26,423.32 333.44,423.66 331.61,424.03 329.79,424.42 327.96,424.85 326.14,425.32 324.32,425.83 322.49,426.38 320.67,426.97 318.84,427.58 317.02,428.24 315.20,428.95 313.37,429.70 311.55,430.46 309.72,431.22 307.90,431.95 306.08,432.71 304.25,433.47 302.43,434.21 300.60,434.90 298.78,435.54 296.96,436.21 295.13,436.87 293.31,437.43 291.48,437.86 289.66,438.09 287.84,438.25 286.01,438.39 284.19,438.50 282.36,438.57 280.54,438.57 278.72,438.20 276.89,437.56 275.07,436.53 273.24,435.11 271.42,433.24 269.60,430.36 267.77,425.90 265.95,419.64 264.12,411.23" fill="#a0a0a0"/><polygon points="264.12,410.66 265.95,415.89 267.77,420.14 269.60,422.75 271.42,424.45 273.24,425.54 275.07,426.06 276.89,426.32 278.72,426.23 280.54,425.99 282.36,425.66 284.19,425.13 286.01,424.46 287.84,423.69 289.66,422.86 291.48,421.98 293.31,420.92 295.13,419.72 296.96,418.46 298.78,417.19 300.60,415.96 302.43,414.70 304.25,413.42 306.08,412.13 307.90,410.84 309.72,409.56 311.55,408.26 313.37,406.95 315.20,405.66 317.02,404.40 318.84,403.19 320.67,402.03 322.49,400.90 324.32,399.80 326.14,398.75 327.96,397.73 329.79,396.73 331.61,395.76 333.44,394.82 335.26,393.93 337.08,393.12 338.91,392.39 340.73,391.68 342.56,391.00 344.38,390.35 346.20,389.75 348.03,389.19 349.85,388.68 351.68,388.22 351.68,416.14 349.85,416.39 348.03,416.66 346.20,416.94 344.38,417.23 342.56,417.53 340.73,417.84 338.91,418.16 337.08,418.48 335.26,418.81 333.44,419.15 331.61,419.51 329.79,419.90 327.96,420.32 326.14,420.80 324.32,421.32 322.49,421.89 320.67,422.47 318.84,423.06 317.02,423.64 315.20,424.22 313.37,424.83 311.55,425.46 309.72,426.13 307.90,426.88 306.08,427.74 304.25,428.65 302.43,429.54 300.60,430.34 298.78,431.03 296.96,431.68 295.13,432.30 293.31,432.85 291.48,433.29 289.66,433.59 287.84,433.86 286.01,434.09 284.19,434.28 282.36,434.40 280.54,434.42 278.72,434.03 276.89,433.41 275.07,432.63 273.24,431.54 271.42,429.88 269.60,427.47 267.77,423.86 265.95,417.95 264.12,411.04" fill="#e6e6e6"/><line x1="262.30" y1="438.77" x2="353.50" y2="438.77" stroke="#c8c8c8" stroke-width="0.70"/><polyline points="264.12,410.85 265.95,416.83 267.77,421.99 269.60,425.11 271.42,427.46 273.24,429.28 275.07,430.45 276.89,431.18 278.72,431.46 280.54,431.60 282.36,431.57 284.19,431.46 286.01,431.29 287.84,431.00 289.66,430.48 291.48,429.94 293.31,429.35 295.13,428.71 296.96,428.03 298.78,427.30 300.60,426.53 302.43,425.68 304.25,424.76 306.08,423.80 307.90,422.85 309.72,421.92 311.55,420.99 313.37,420.04 315.20,419.11 317.02,418.22 318.84,417.38 320.67,416.58 322.49,415.81 324.32,415.08 326.14,414.38 327.96,413.73 329.79,413.12 331.61,412.53 333.44,411.97 335.26,411.45 337.08,410.97 338.91,410.53 340.73,410.10 342.56,409.69 344.38,409.31 346.20,408.94 348.03,408.61 349.85,408.30 351.68,408.03" fill="none" stroke="#1a1a1a" stroke-width="1.25" stroke-linejoin="round"/><rect x="262.30" y="374.84" width="91.20" height="69.50" fill="none" stroke="#c6c6c6" stroke-width="0.95"/><line x1="262.30" y1="444.34" x2="262.30" y2="443.44" stroke="#c6c6c6" stroke-width="0.5"/><line x1="262.30" y1="374.84" x2="262.30" y2="375.74" stroke="#c6c6c6" stroke-width="0.5"/><line x1="280.54" y1="444.34" x2="280.54" y2="443.44" stroke="#c6c6c6" stroke-width="0.5"/><line x1="280.54" y1="374.84" x2="280.54" y2="375.74" stroke="#c6c6c6" stroke-width="0.5"/><line x1="298.78" y1="444.34" x2="298.78" y2="443.44" stroke="#c6c6c6" stroke-width="0.5"/><line x1="298.78" y1="374.84" x2="298.78" y2="375.74" stroke="#c6c6c6" stroke-width="0.5"/><line x1="317.02" y1="444.34" x2="317.02" y2="443.44" stroke="#c6c6c6" stroke-width="0.5"/><line x1="317.02" y1="374.84" x2="317.02" y2="375.74" stroke="#c6c6c6" stroke-width="0.5"/><line x1="335.26" y1="444.34" x2="335.26" y2="443.44" stroke="#c6c6c6" stroke-width="0.5"/><line x1="335.26" y1="374.84" x2="335.26" y2="375.74" stroke="#c6c6c6" stroke-width="0.5"/><line x1="353.50" y1="444.34" x2="353.50" y2="443.44" stroke="#c6c6c6" stroke-width="0.5"/><line x1="353.50" y1="374.84" x2="353.50" y2="375.74" stroke="#c6c6c6" stroke-width="0.5"/><line x1="262.30" y1="444.34" x2="263.20" y2="444.34" stroke="#c6c6c6" stroke-width="0.5"/><line x1="353.50" y1="444.34" x2="352.60" y2="444.34" stroke="#c6c6c6" stroke-width="0.5"/><line x1="262.30" y1="430.44" x2="263.20" y2="430.44" stroke="#c6c6c6" stroke-width="0.5"/><line x1="353.50" y1="430.44" x2="352.60" y2="430.44" stroke="#c6c6c6" stroke-width="0.5"/><line x1="262.30" y1="416.54" x2="263.20" y2="416.54" stroke="#c6c6c6" stroke-width="0.5"/><line x1="353.50" y1="416.54" x2="352.60" y2="416.54" stroke="#c6c6c6" stroke-width="0.5"/><line x1="262.30" y1="402.64" x2="263.20" y2="402.64" stroke="#c6c6c6" stroke-width="0.5"/><line x1="353.50" y1="402.64" x2="352.60" y2="402.64" stroke="#c6c6c6" stroke-width="0.5"/><line x1="262.30" y1="388.74" x2="263.20" y2="388.74" stroke="#c6c6c6" stroke-width="0.5"/><line x1="353.50" y1="388.74" x2="352.60" y2="388.74" stroke="#c6c6c6" stroke-width="0.5"/><line x1="262.30" y1="374.84" x2="263.20" y2="374.84" stroke="#c6c6c6" stroke-width="0.5"/><line x1="353.50" y1="374.84" x2="352.60" y2="374.84" stroke="#c6c6c6" stroke-width="0.5"/><text transform="translate(260.80,446.93) scale(0.935,1)" text-anchor="end" class="t">-1.2</text><text transform="translate(260.80,433.03) scale(0.935,1)" text-anchor="end" class="t">-1</text><text transform="translate(260.80,419.13) scale(0.935,1)" text-anchor="end" class="t">-0.8</text><text transform="translate(260.80,405.23) scale(0.935,1)" text-anchor="end" class="t">-0.6</text><text transform="translate(260.80,391.33) scale(0.935,1)" text-anchor="end" class="t">-0.4</text><text transform="translate(260.80,377.43) scale(0.935,1)" text-anchor="end" class="t">-0.2</text><text transform="translate(262.30,452.37) scale(0.935,1)" text-anchor="middle" class="t">0</text><text transform="translate(280.54,452.37) scale(0.935,1)" text-anchor="middle" class="t">10</text><text transform="translate(298.78,452.37) scale(0.935,1)" text-anchor="middle" class="t">20</text><text transform="translate(317.02,452.37) scale(0.935,1)" text-anchor="middle" class="t">30</text><text transform="translate(335.26,452.37) scale(0.935,1)" text-anchor="middle" class="t">40</text><text transform="translate(353.50,452.37) scale(0.935,1)" text-anchor="middle" class="t">50</text></g><g><polygon points="385.07,435.00 386.90,399.62 388.72,399.53 390.55,399.53 392.37,399.53 394.19,399.34 396.02,398.86 397.84,398.29 399.67,397.64 401.49,396.86 403.31,396.13 405.14,395.40 406.96,394.67 408.79,393.94 410.61,393.21 412.43,392.48 414.26,391.74 416.08,391.00 417.91,390.27 419.73,389.55 421.55,388.86 423.38,388.15 425.20,387.46 427.03,386.79 428.85,386.17 430.67,385.63 432.50,385.13 434.32,384.66 436.15,384.23 437.97,383.83 439.79,383.47 441.62,383.12 443.44,382.80 445.27,382.50 447.09,382.23 448.91,382.00 450.74,381.82 452.56,381.65 454.39,381.50 456.21,381.37 458.03,381.26 459.86,381.16 461.68,381.06 463.51,380.97 465.33,380.89 467.15,380.81 468.98,380.75 470.80,380.70 472.63,380.66 472.63,413.50 470.80,413.64 468.98,413.79 467.15,413.94 465.33,414.08 463.51,414.23 461.68,414.37 459.86,414.52 458.03,414.66 456.21,414.80 454.39,414.93 452.56,415.07 450.74,415.22 448.91,415.40 447.09,415.63 445.27,415.90 443.44,416.21 441.62,416.54 439.79,416.87 437.97,417.19 436.15,417.53 434.32,417.88 432.50,418.26 430.67,418.67 428.85,419.12 427.03,419.64 425.20,420.19 423.38,420.77 421.55,421.36 419.73,421.95 417.91,422.59 416.08,423.24 414.26,423.89 412.43,424.49 410.61,425.01 408.79,425.51 406.96,425.98 405.14,426.41 403.31,426.80 401.49,427.15 399.67,427.50 397.84,427.64 396.02,427.55 394.19,427.35 392.37,427.06 390.55,426.36 388.72,425.05 386.90,422.39 385.07,435.00" fill="#a0a0a0"/><polygon points="385.07,435.00 386.90,405.26 388.72,406.10 390.55,406.39 392.37,406.51 394.19,406.41 396.02,406.15 397.84,405.81 399.67,405.35 401.49,404.75 403.31,404.16 405.14,403.55 406.96,402.93 408.79,402.29 410.61,401.66 412.43,401.04 414.26,400.42 416.08,399.79 417.91,399.17 419.73,398.56 421.55,397.95 423.38,397.33 425.20,396.70 427.03,396.10 428.85,395.55 430.67,395.08 432.50,394.66 434.32,394.27 436.15,393.92 437.97,393.59 439.79,393.28 441.62,392.99 443.44,392.72 445.27,392.47 447.09,392.23 448.91,392.01 450.74,391.80 452.56,391.60 454.39,391.41 456.21,391.24 458.03,391.08 459.86,390.93 461.68,390.79 463.51,390.66 465.33,390.53 467.15,390.41 468.98,390.29 470.80,390.19 472.63,390.10 472.63,409.91 470.80,409.98 468.98,410.08 467.15,410.18 465.33,410.31 463.51,410.44 461.68,410.59 459.86,410.74 458.03,410.90 456.21,411.08 454.39,411.30 452.56,411.53 450.74,411.77 448.91,412.01 447.09,412.25 445.27,412.49 443.44,412.74 441.62,413.01 439.79,413.28 437.97,413.57 436.15,413.88 434.32,414.20 432.50,414.54 430.67,414.91 428.85,415.31 427.03,415.75 425.20,416.23 423.38,416.73 421.55,417.24 419.73,417.75 417.91,418.28 416.08,418.84 414.26,419.39 412.43,419.95 410.61,420.51 408.79,421.10 406.96,421.71 405.14,422.29 403.31,422.80 401.49,423.19 399.67,423.54 397.84,423.68 396.02,423.59 394.19,423.39 392.37,423.10 390.55,422.38 388.72,421.10 386.90,418.81 385.07,435.00" fill="#e6e6e6"/><line x1="383.25" y1="435.75" x2="474.45" y2="435.75" stroke="#c8c8c8" stroke-width="0.70"/><polyline points="385.07,435.00 386.90,412.04 388.72,412.67 390.55,413.70 392.37,414.60 394.19,415.06 396.02,415.40 397.84,415.56 399.67,415.48 401.49,415.24 403.31,414.95 405.14,414.53 406.96,414.03 408.79,413.49 410.61,412.94 412.43,412.43 414.26,411.89 416.08,411.34 417.91,410.78 419.73,410.22 421.55,409.67 423.38,409.10 425.20,408.52 427.03,407.95 428.85,407.43 430.67,406.97 432.50,406.56 434.32,406.18 436.15,405.83 437.97,405.49 439.79,405.17 441.62,404.84 443.44,404.53 445.27,404.23 447.09,403.95 448.91,403.70 450.74,403.49 452.56,403.30 454.39,403.13 456.21,402.96 458.03,402.79 459.86,402.61 461.68,402.44 463.51,402.26 465.33,402.09 467.15,401.92 468.98,401.75 470.80,401.59 472.63,401.42" fill="none" stroke="#1a1a1a" stroke-width="1.25" stroke-linejoin="round"/><rect x="383.25" y="374.84" width="91.20" height="69.50" fill="none" stroke="#c6c6c6" stroke-width="0.95"/><line x1="383.25" y1="444.34" x2="383.25" y2="443.44" stroke="#c6c6c6" stroke-width="0.5"/><line x1="383.25" y1="374.84" x2="383.25" y2="375.74" stroke="#c6c6c6" stroke-width="0.5"/><line x1="401.49" y1="444.34" x2="401.49" y2="443.44" stroke="#c6c6c6" stroke-width="0.5"/><line x1="401.49" y1="374.84" x2="401.49" y2="375.74" stroke="#c6c6c6" stroke-width="0.5"/><line x1="419.73" y1="444.34" x2="419.73" y2="443.44" stroke="#c6c6c6" stroke-width="0.5"/><line x1="419.73" y1="374.84" x2="419.73" y2="375.74" stroke="#c6c6c6" stroke-width="0.5"/><line x1="437.97" y1="444.34" x2="437.97" y2="443.44" stroke="#c6c6c6" stroke-width="0.5"/><line x1="437.97" y1="374.84" x2="437.97" y2="375.74" stroke="#c6c6c6" stroke-width="0.5"/><line x1="456.21" y1="444.34" x2="456.21" y2="443.44" stroke="#c6c6c6" stroke-width="0.5"/><line x1="456.21" y1="374.84" x2="456.21" y2="375.74" stroke="#c6c6c6" stroke-width="0.5"/><line x1="474.45" y1="444.34" x2="474.45" y2="443.44" stroke="#c6c6c6" stroke-width="0.5"/><line x1="474.45" y1="374.84" x2="474.45" y2="375.74" stroke="#c6c6c6" stroke-width="0.5"/><line x1="383.25" y1="444.34" x2="384.15" y2="444.34" stroke="#c6c6c6" stroke-width="0.5"/><line x1="474.45" y1="444.34" x2="473.55" y2="444.34" stroke="#c6c6c6" stroke-width="0.5"/><line x1="383.25" y1="430.44" x2="384.15" y2="430.44" stroke="#c6c6c6" stroke-width="0.5"/><line x1="474.45" y1="430.44" x2="473.55" y2="430.44" stroke="#c6c6c6" stroke-width="0.5"/><line x1="383.25" y1="416.54" x2="384.15" y2="416.54" stroke="#c6c6c6" stroke-width="0.5"/><line x1="474.45" y1="416.54" x2="473.55" y2="416.54" stroke="#c6c6c6" stroke-width="0.5"/><line x1="383.25" y1="402.64" x2="384.15" y2="402.64" stroke="#c6c6c6" stroke-width="0.5"/><line x1="474.45" y1="402.64" x2="473.55" y2="402.64" stroke="#c6c6c6" stroke-width="0.5"/><line x1="383.25" y1="388.74" x2="384.15" y2="388.74" stroke="#c6c6c6" stroke-width="0.5"/><line x1="474.45" y1="388.74" x2="473.55" y2="388.74" stroke="#c6c6c6" stroke-width="0.5"/><line x1="383.25" y1="374.84" x2="384.15" y2="374.84" stroke="#c6c6c6" stroke-width="0.5"/><line x1="474.45" y1="374.84" x2="473.55" y2="374.84" stroke="#c6c6c6" stroke-width="0.5"/><text transform="translate(381.75,446.93) scale(0.935,1)" text-anchor="end" class="t">-1</text><text transform="translate(381.75,433.03) scale(0.935,1)" text-anchor="end" class="t">-0.8</text><text transform="translate(381.75,419.13) scale(0.935,1)" text-anchor="end" class="t">-0.6</text><text transform="translate(381.75,405.23) scale(0.935,1)" text-anchor="end" class="t">-0.4</text><text transform="translate(381.75,391.33) scale(0.935,1)" text-anchor="end" class="t">-0.2</text><text transform="translate(381.75,377.43) scale(0.935,1)" text-anchor="end" class="t">0</text><text transform="translate(383.25,452.37) scale(0.935,1)" text-anchor="middle" class="t">0</text><text transform="translate(401.49,452.37) scale(0.935,1)" text-anchor="middle" class="t">10</text><text transform="translate(419.73,452.37) scale(0.935,1)" text-anchor="middle" class="t">20</text><text transform="translate(437.97,452.37) scale(0.935,1)" text-anchor="middle" class="t">30</text><text transform="translate(456.21,452.37) scale(0.935,1)" text-anchor="middle" class="t">40</text><text transform="translate(474.45,452.37) scale(0.935,1)" text-anchor="middle" class="t">50</text></g><g><polygon points="22.22,520.66 24.05,496.14 25.87,498.03 27.70,499.07 29.52,499.53 31.34,499.45 33.17,499.25 34.99,498.98 36.82,498.49 38.64,497.75 40.46,496.92 42.29,495.96 44.11,494.90 45.94,493.79 47.76,492.70 49.58,491.62 51.41,490.51 53.23,489.38 55.06,488.27 56.88,487.20 58.70,486.20 60.53,485.23 62.35,484.30 64.18,483.40 66.00,482.54 67.82,481.72 69.65,480.93 71.47,480.17 73.30,479.44 75.12,478.76 76.94,478.12 78.77,477.51 80.59,476.94 82.42,476.40 84.24,475.89 86.06,475.39 87.89,474.90 89.71,474.42 91.54,473.97 93.36,473.55 95.18,473.18 97.01,472.86 98.83,472.56 100.66,472.27 102.48,472.01 104.30,471.76 106.13,471.55 107.95,471.37 109.78,471.23 109.78,508.21 107.95,508.33 106.13,508.48 104.30,508.66 102.48,508.85 100.66,509.06 98.83,509.29 97.01,509.52 95.18,509.77 93.36,510.04 91.54,510.35 89.71,510.69 87.89,511.05 86.06,511.43 84.24,511.84 82.42,512.30 80.59,512.78 78.77,513.28 76.94,513.79 75.12,514.30 73.30,514.82 71.47,515.35 69.65,515.91 67.82,516.50 66.00,517.14 64.18,517.85 62.35,518.61 60.53,519.37 58.70,520.11 56.88,520.82 55.06,521.57 53.23,522.31 51.41,523.00 49.58,523.57 47.76,523.98 45.94,524.35 44.11,524.68 42.29,524.96 40.46,525.13 38.64,525.18 36.82,524.97 34.99,524.60 33.17,524.09 31.34,523.36 29.52,522.40 27.70,520.94 25.87,518.61 24.05,513.89 22.22,520.66" fill="#a0a0a0"/><polygon points="22.22,520.66 24.05,501.80 25.87,503.69 27.70,504.97 29.52,505.57 31.34,505.57 33.17,505.57 34.99,505.57 36.82,505.29 38.64,504.70 40.46,504.07 42.29,503.30 44.11,502.43 45.94,501.50 47.76,500.57 49.58,499.65 51.41,498.67 53.23,497.67 55.06,496.65 56.88,495.66 58.70,494.71 60.53,493.76 62.35,492.82 64.18,491.91 66.00,491.03 67.82,490.21 69.65,489.42 71.47,488.66 73.30,487.93 75.12,487.25 76.94,486.61 78.77,485.99 80.59,485.41 82.42,484.86 84.24,484.35 86.06,483.88 87.89,483.46 89.71,483.06 91.54,482.70 93.36,482.36 95.18,482.04 97.01,481.75 98.83,481.47 100.66,481.20 102.48,480.94 104.30,480.70 106.13,480.47 107.95,480.27 109.78,480.09 109.78,503.30 107.95,503.41 106.13,503.54 104.30,503.69 102.48,503.86 100.66,504.05 98.83,504.24 97.01,504.45 95.18,504.67 93.36,504.91 91.54,505.18 89.71,505.48 87.89,505.80 86.06,506.14 84.24,506.52 82.42,506.93 80.59,507.38 78.77,507.84 76.94,508.32 75.12,508.82 73.30,509.33 71.47,509.86 69.65,510.43 67.82,511.02 66.00,511.66 64.18,512.37 62.35,513.11 60.53,513.87 58.70,514.63 56.88,515.37 55.06,516.19 53.23,517.01 51.41,517.79 49.58,518.44 47.76,518.91 45.94,519.32 44.11,519.70 42.29,520.02 40.46,520.22 38.64,520.28 36.82,520.22 34.99,520.08 33.17,519.77 31.34,519.20 29.52,518.43 27.70,517.13 25.87,515.02 24.05,511.24 22.22,520.66" fill="#e6e6e6"/><line x1="20.40" y1="526.32" x2="111.60" y2="526.32" stroke="#c8c8c8" stroke-width="0.70"/><polyline points="22.22,520.66 24.05,506.14 25.87,508.42 27.70,511.38 29.52,513.01 31.34,514.06 33.17,514.74 34.99,515.17 36.82,515.43 38.64,515.56 40.46,515.50 42.29,515.30 44.11,514.99 45.94,514.60 47.76,514.19 49.58,513.72 51.41,513.07 53.23,512.30 55.06,511.47 56.88,510.66 58.70,509.91 60.53,509.19 62.35,508.46 64.18,507.73 66.00,507.00 67.82,506.27 69.65,505.52 71.47,504.75 73.30,504.01 75.12,503.29 76.94,502.64 78.77,502.05 80.59,501.48 82.42,500.95 84.24,500.43 86.06,499.92 87.89,499.41 89.71,498.90 91.54,498.40 93.36,497.94 95.18,497.53 97.01,497.17 98.83,496.82 100.66,496.48 102.48,496.17 104.30,495.88 106.13,495.62 107.95,495.38 109.78,495.19" fill="none" stroke="#1a1a1a" stroke-width="1.25" stroke-linejoin="round"/><rect x="20.40" y="464.70" width="91.20" height="69.50" fill="none" stroke="#c6c6c6" stroke-width="0.95"/><line x1="20.40" y1="534.20" x2="20.40" y2="533.30" stroke="#c6c6c6" stroke-width="0.5"/><line x1="20.40" y1="464.70" x2="20.40" y2="465.60" stroke="#c6c6c6" stroke-width="0.5"/><line x1="38.64" y1="534.20" x2="38.64" y2="533.30" stroke="#c6c6c6" stroke-width="0.5"/><line x1="38.64" y1="464.70" x2="38.64" y2="465.60" stroke="#c6c6c6" stroke-width="0.5"/><line x1="56.88" y1="534.20" x2="56.88" y2="533.30" stroke="#c6c6c6" stroke-width="0.5"/><line x1="56.88" y1="464.70" x2="56.88" y2="465.60" stroke="#c6c6c6" stroke-width="0.5"/><line x1="75.12" y1="534.20" x2="75.12" y2="533.30" stroke="#c6c6c6" stroke-width="0.5"/><line x1="75.12" y1="464.70" x2="75.12" y2="465.60" stroke="#c6c6c6" stroke-width="0.5"/><line x1="93.36" y1="534.20" x2="93.36" y2="533.30" stroke="#c6c6c6" stroke-width="0.5"/><line x1="93.36" y1="464.70" x2="93.36" y2="465.60" stroke="#c6c6c6" stroke-width="0.5"/><line x1="111.60" y1="534.20" x2="111.60" y2="533.30" stroke="#c6c6c6" stroke-width="0.5"/><line x1="111.60" y1="464.70" x2="111.60" y2="465.60" stroke="#c6c6c6" stroke-width="0.5"/><line x1="20.40" y1="534.20" x2="21.30" y2="534.20" stroke="#c6c6c6" stroke-width="0.5"/><line x1="111.60" y1="534.20" x2="110.70" y2="534.20" stroke="#c6c6c6" stroke-width="0.5"/><line x1="20.40" y1="520.30" x2="21.30" y2="520.30" stroke="#c6c6c6" stroke-width="0.5"/><line x1="111.60" y1="520.30" x2="110.70" y2="520.30" stroke="#c6c6c6" stroke-width="0.5"/><line x1="20.40" y1="506.40" x2="21.30" y2="506.40" stroke="#c6c6c6" stroke-width="0.5"/><line x1="111.60" y1="506.40" x2="110.70" y2="506.40" stroke="#c6c6c6" stroke-width="0.5"/><line x1="20.40" y1="492.50" x2="21.30" y2="492.50" stroke="#c6c6c6" stroke-width="0.5"/><line x1="111.60" y1="492.50" x2="110.70" y2="492.50" stroke="#c6c6c6" stroke-width="0.5"/><line x1="20.40" y1="478.60" x2="21.30" y2="478.60" stroke="#c6c6c6" stroke-width="0.5"/><line x1="111.60" y1="478.60" x2="110.70" y2="478.60" stroke="#c6c6c6" stroke-width="0.5"/><line x1="20.40" y1="464.70" x2="21.30" y2="464.70" stroke="#c6c6c6" stroke-width="0.5"/><line x1="111.60" y1="464.70" x2="110.70" y2="464.70" stroke="#c6c6c6" stroke-width="0.5"/><text transform="translate(18.90,536.79) scale(0.935,1)" text-anchor="end" class="t">-1</text><text transform="translate(18.90,522.89) scale(0.935,1)" text-anchor="end" class="t">-0.8</text><text transform="translate(18.90,508.99) scale(0.935,1)" text-anchor="end" class="t">-0.6</text><text transform="translate(18.90,495.09) scale(0.935,1)" text-anchor="end" class="t">-0.4</text><text transform="translate(18.90,481.19) scale(0.935,1)" text-anchor="end" class="t">-0.2</text><text transform="translate(18.90,467.29) scale(0.935,1)" text-anchor="end" class="t">0</text><text transform="translate(20.40,542.23) scale(0.935,1)" text-anchor="middle" class="t">0</text><text transform="translate(38.64,542.23) scale(0.935,1)" text-anchor="middle" class="t">10</text><text transform="translate(56.88,542.23) scale(0.935,1)" text-anchor="middle" class="t">20</text><text transform="translate(75.12,542.23) scale(0.935,1)" text-anchor="middle" class="t">30</text><text transform="translate(93.36,542.23) scale(0.935,1)" text-anchor="middle" class="t">40</text><text transform="translate(111.60,542.23) scale(0.935,1)" text-anchor="middle" class="t">50</text></g><g><polygon points="143.17,521.23 145.00,495.31 146.82,493.14 148.65,492.23 150.47,491.59 152.29,491.00 154.12,490.44 155.94,489.81 157.77,489.09 159.59,488.33 161.41,487.55 163.24,486.74 165.06,485.93 166.89,485.10 168.71,484.31 170.53,483.60 172.36,482.91 174.18,482.27 176.01,481.66 177.83,481.11 179.65,480.62 181.48,480.16 183.30,479.73 185.13,479.33 186.95,478.99 188.77,478.69 190.60,478.42 192.42,478.18 194.25,477.97 196.07,477.78 197.89,477.62 199.72,477.49 201.54,477.37 203.37,477.27 205.19,477.17 207.01,477.08 208.84,476.99 210.66,476.91 212.49,476.83 214.31,476.76 216.13,476.71 217.96,476.67 219.78,476.63 221.61,476.60 223.43,476.57 225.25,476.55 227.08,476.53 228.90,476.51 230.73,476.51 230.73,492.36 228.90,492.39 227.08,492.44 225.25,492.48 223.43,492.53 221.61,492.58 219.78,492.63 217.96,492.69 216.13,492.75 214.31,492.81 212.49,492.87 210.66,492.94 208.84,493.02 207.01,493.12 205.19,493.25 203.37,493.41 201.54,493.60 199.72,493.81 197.89,494.03 196.07,494.26 194.25,494.53 192.42,494.82 190.60,495.13 188.77,495.46 186.95,495.82 185.13,496.22 183.30,496.66 181.48,497.12 179.65,497.60 177.83,498.09 176.01,498.62 174.18,499.18 172.36,499.75 170.53,500.31 168.71,500.84 166.89,501.38 165.06,501.87 163.24,502.28 161.41,502.63 159.59,502.99 157.77,503.42 155.94,503.79 154.12,503.93 152.29,504.02 150.47,504.06 148.65,503.96 146.82,503.87 145.00,504.96 143.17,521.23" fill="#a0a0a0"/><polygon points="143.17,521.23 145.00,497.96 146.82,496.15 148.65,495.58 150.47,495.18 152.29,494.69 154.12,494.18 155.94,493.63 157.77,493.06 159.59,492.46 161.41,491.83 163.24,491.17 165.06,490.49 166.89,489.75 168.71,489.01 170.53,488.33 172.36,487.67 174.18,487.02 176.01,486.41 177.83,485.84 179.65,485.32 181.48,484.83 183.30,484.36 185.13,483.93 186.95,483.54 188.77,483.21 190.60,482.90 192.42,482.61 194.25,482.35 196.07,482.14 197.89,481.96 199.72,481.82 201.54,481.71 203.37,481.60 205.19,481.51 207.01,481.42 208.84,481.34 210.66,481.26 212.49,481.18 214.31,481.11 216.13,481.05 217.96,480.99 219.78,480.94 221.61,480.88 223.43,480.83 225.25,480.78 227.08,480.74 228.90,480.70 230.73,480.66 230.73,489.91 228.90,489.96 227.08,490.02 225.25,490.09 223.43,490.16 221.61,490.24 219.78,490.32 217.96,490.40 216.13,490.49 214.31,490.59 212.49,490.69 210.66,490.80 208.84,490.91 207.01,491.05 205.19,491.19 203.37,491.36 201.54,491.55 199.72,491.75 197.89,491.96 196.07,492.17 194.25,492.41 192.42,492.66 190.60,492.93 188.77,493.21 186.95,493.52 185.13,493.85 183.30,494.21 181.48,494.59 179.65,494.99 177.83,495.42 176.01,495.90 174.18,496.42 172.36,496.95 170.53,497.49 168.71,498.01 166.89,498.53 165.06,499.03 163.24,499.51 161.41,499.96 159.59,500.34 157.77,500.69 155.94,500.97 154.12,501.09 152.29,501.16 150.47,501.23 148.65,501.29 146.82,501.42 145.00,503.25 143.17,521.23" fill="#e6e6e6"/><polyline points="143.17,521.23 145.00,501.16 146.82,499.16 148.65,498.79 150.47,498.58 152.29,498.40 154.12,498.22 155.94,497.92 157.77,497.51 159.59,497.01 161.41,496.43 163.24,495.88 165.06,495.33 166.89,494.78 168.71,494.24 170.53,493.71 172.36,493.18 174.18,492.66 176.01,492.16 177.83,491.66 179.65,491.19 181.48,490.72 183.30,490.25 185.13,489.81 186.95,489.41 188.77,489.05 190.60,488.71 192.42,488.40 194.25,488.11 196.07,487.85 197.89,487.61 199.72,487.40 201.54,487.20 203.37,487.02 205.19,486.85 207.01,486.71 208.84,486.57 210.66,486.45 212.49,486.33 214.31,486.23 216.13,486.15 217.96,486.08 219.78,486.01 221.61,485.95 223.43,485.89 225.25,485.84 227.08,485.80 228.90,485.77 230.73,485.75" fill="none" stroke="#1a1a1a" stroke-width="1.25" stroke-linejoin="round"/><rect x="141.35" y="464.70" width="91.20" height="69.50" fill="none" stroke="#c6c6c6" stroke-width="0.95"/><line x1="141.35" y1="534.20" x2="141.35" y2="533.30" stroke="#c6c6c6" stroke-width="0.5"/><line x1="141.35" y1="464.70" x2="141.35" y2="465.60" stroke="#c6c6c6" stroke-width="0.5"/><line x1="159.59" y1="534.20" x2="159.59" y2="533.30" stroke="#c6c6c6" stroke-width="0.5"/><line x1="159.59" y1="464.70" x2="159.59" y2="465.60" stroke="#c6c6c6" stroke-width="0.5"/><line x1="177.83" y1="534.20" x2="177.83" y2="533.30" stroke="#c6c6c6" stroke-width="0.5"/><line x1="177.83" y1="464.70" x2="177.83" y2="465.60" stroke="#c6c6c6" stroke-width="0.5"/><line x1="196.07" y1="534.20" x2="196.07" y2="533.30" stroke="#c6c6c6" stroke-width="0.5"/><line x1="196.07" y1="464.70" x2="196.07" y2="465.60" stroke="#c6c6c6" stroke-width="0.5"/><line x1="214.31" y1="534.20" x2="214.31" y2="533.30" stroke="#c6c6c6" stroke-width="0.5"/><line x1="214.31" y1="464.70" x2="214.31" y2="465.60" stroke="#c6c6c6" stroke-width="0.5"/><line x1="232.55" y1="534.20" x2="232.55" y2="533.30" stroke="#c6c6c6" stroke-width="0.5"/><line x1="232.55" y1="464.70" x2="232.55" y2="465.60" stroke="#c6c6c6" stroke-width="0.5"/><line x1="141.35" y1="534.20" x2="142.25" y2="534.20" stroke="#c6c6c6" stroke-width="0.5"/><line x1="232.55" y1="534.20" x2="231.65" y2="534.20" stroke="#c6c6c6" stroke-width="0.5"/><line x1="141.35" y1="520.30" x2="142.25" y2="520.30" stroke="#c6c6c6" stroke-width="0.5"/><line x1="232.55" y1="520.30" x2="231.65" y2="520.30" stroke="#c6c6c6" stroke-width="0.5"/><line x1="141.35" y1="506.40" x2="142.25" y2="506.40" stroke="#c6c6c6" stroke-width="0.5"/><line x1="232.55" y1="506.40" x2="231.65" y2="506.40" stroke="#c6c6c6" stroke-width="0.5"/><line x1="141.35" y1="492.50" x2="142.25" y2="492.50" stroke="#c6c6c6" stroke-width="0.5"/><line x1="232.55" y1="492.50" x2="231.65" y2="492.50" stroke="#c6c6c6" stroke-width="0.5"/><line x1="141.35" y1="478.60" x2="142.25" y2="478.60" stroke="#c6c6c6" stroke-width="0.5"/><line x1="232.55" y1="478.60" x2="231.65" y2="478.60" stroke="#c6c6c6" stroke-width="0.5"/><line x1="141.35" y1="464.70" x2="142.25" y2="464.70" stroke="#c6c6c6" stroke-width="0.5"/><line x1="232.55" y1="464.70" x2="231.65" y2="464.70" stroke="#c6c6c6" stroke-width="0.5"/><text transform="translate(139.85,536.79) scale(0.935,1)" text-anchor="end" class="t">-0.8</text><text transform="translate(139.85,522.89) scale(0.935,1)" text-anchor="end" class="t">-0.6</text><text transform="translate(139.85,508.99) scale(0.935,1)" text-anchor="end" class="t">-0.4</text><text transform="translate(139.85,495.09) scale(0.935,1)" text-anchor="end" class="t">-0.2</text><text transform="translate(139.85,481.19) scale(0.935,1)" text-anchor="end" class="t">0</text><text transform="translate(139.85,467.29) scale(0.935,1)" text-anchor="end" class="t">0.2</text><text transform="translate(141.35,542.23) scale(0.935,1)" text-anchor="middle" class="t">0</text><text transform="translate(159.59,542.23) scale(0.935,1)" text-anchor="middle" class="t">10</text><text transform="translate(177.83,542.23) scale(0.935,1)" text-anchor="middle" class="t">20</text><text transform="translate(196.07,542.23) scale(0.935,1)" text-anchor="middle" class="t">30</text><text transform="translate(214.31,542.23) scale(0.935,1)" text-anchor="middle" class="t">40</text><text transform="translate(232.55,542.23) scale(0.935,1)" text-anchor="middle" class="t">50</text></g><g><polygon points="264.12,528.21 265.95,499.58 267.77,497.17 269.60,495.14 271.42,493.33 273.24,491.70 275.07,490.20 276.89,488.76 278.72,487.33 280.54,485.99 282.36,484.81 284.19,483.71 286.01,482.67 287.84,481.70 289.66,480.79 291.48,479.95 293.31,479.15 295.13,478.39 296.96,477.69 298.78,477.04 300.60,476.43 302.43,475.87 304.25,475.34 306.08,474.84 307.90,474.37 309.72,473.94 311.55,473.54 313.37,473.16 315.20,472.81 317.02,472.47 318.84,472.14 320.67,471.82 322.49,471.50 324.32,471.20 326.14,470.93 327.96,470.68 329.79,470.46 331.61,470.25 333.44,470.05 335.26,469.88 337.08,469.75 338.91,469.64 340.73,469.53 342.56,469.44 344.38,469.35 346.20,469.27 348.03,469.21 349.85,469.17 351.68,469.15 351.68,494.62 349.85,494.66 348.03,494.71 346.20,494.78 344.38,494.85 342.56,494.93 340.73,495.02 338.91,495.12 337.08,495.22 335.26,495.33 333.44,495.47 331.61,495.62 329.79,495.79 327.96,495.96 326.14,496.14 324.32,496.34 322.49,496.56 320.67,496.79 318.84,497.05 317.02,497.35 315.20,497.69 313.37,498.06 311.55,498.45 309.72,498.85 307.90,499.26 306.08,499.68 304.25,500.12 302.43,500.57 300.60,501.02 298.78,501.48 296.96,501.93 295.13,502.40 293.31,502.88 291.48,503.36 289.66,503.87 287.84,504.39 286.01,504.92 284.19,505.47 282.36,506.04 280.54,506.63 278.72,507.30 276.89,507.89 275.07,508.37 273.24,508.79 271.42,509.16 269.60,509.41 267.77,509.74 265.95,510.68 264.12,528.21" fill="#a0a0a0"/><polygon points="264.12,528.21 265.95,501.64 267.77,499.97 269.60,498.46 271.42,497.09 273.24,495.92 275.07,494.86 276.89,493.81 278.72,492.70 280.54,491.61 282.36,490.61 284.19,489.63 286.01,488.70 287.84,487.81 289.66,486.99 291.48,486.22 293.31,485.50 295.13,484.82 296.96,484.18 298.78,483.60 300.60,483.07 302.43,482.59 304.25,482.15 306.08,481.73 307.90,481.33 309.72,480.93 311.55,480.54 313.37,480.16 315.20,479.80 317.02,479.45 318.84,479.12 320.67,478.80 322.49,478.48 324.32,478.18 326.14,477.91 327.96,477.66 329.79,477.44 331.61,477.24 333.44,477.05 335.26,476.88 337.08,476.73 338.91,476.60 340.73,476.48 342.56,476.36 344.38,476.26 346.20,476.16 348.03,476.07 349.85,476.00 351.68,475.94 351.68,491.42 349.85,491.42 348.03,491.45 346.20,491.49 344.38,491.53 342.56,491.59 340.73,491.66 338.91,491.73 337.08,491.82 335.26,491.94 333.44,492.12 331.61,492.33 329.79,492.55 327.96,492.75 326.14,492.95 324.32,493.15 322.49,493.36 320.67,493.59 318.84,493.84 317.02,494.14 315.20,494.48 313.37,494.85 311.55,495.25 309.72,495.65 307.90,496.05 306.08,496.47 304.25,496.91 302.43,497.36 300.60,497.81 298.78,498.27 296.96,498.73 295.13,499.19 293.31,499.67 291.48,500.16 289.66,500.66 287.84,501.18 286.01,501.71 284.19,502.26 282.36,502.83 280.54,503.42 278.72,504.06 276.89,504.70 275.07,505.33 273.24,505.95 271.42,506.52 269.60,506.96 267.77,507.48 265.95,508.42 264.12,528.21" fill="#e6e6e6"/><polyline points="264.12,528.21 265.95,505.78 267.77,504.67 269.60,503.69 271.42,502.75 273.24,501.83 275.07,500.92 276.89,500.02 278.72,499.09 280.54,498.18 282.36,497.37 284.19,496.59 286.01,495.85 287.84,495.14 289.66,494.48 291.48,493.86 293.31,493.27 295.13,492.72 296.96,492.19 298.78,491.68 300.60,491.20 302.43,490.72 304.25,490.26 306.08,489.82 307.90,489.42 309.72,489.06 311.55,488.72 313.37,488.41 315.20,488.12 317.02,487.86 318.84,487.62 320.67,487.41 322.49,487.23 324.32,487.06 326.14,486.89 327.96,486.71 329.79,486.52 331.61,486.32 333.44,486.11 335.26,485.93 337.08,485.78 338.91,485.68 340.73,485.57 342.56,485.47 344.38,485.39 346.20,485.31 348.03,485.25 349.85,485.21 351.68,485.19" fill="none" stroke="#1a1a1a" stroke-width="1.25" stroke-linejoin="round"/><rect x="262.30" y="464.70" width="91.20" height="69.50" fill="none" stroke="#c6c6c6" stroke-width="0.95"/><line x1="262.30" y1="534.20" x2="262.30" y2="533.30" stroke="#c6c6c6" stroke-width="0.5"/><line x1="262.30" y1="464.70" x2="262.30" y2="465.60" stroke="#c6c6c6" stroke-width="0.5"/><line x1="280.54" y1="534.20" x2="280.54" y2="533.30" stroke="#c6c6c6" stroke-width="0.5"/><line x1="280.54" y1="464.70" x2="280.54" y2="465.60" stroke="#c6c6c6" stroke-width="0.5"/><line x1="298.78" y1="534.20" x2="298.78" y2="533.30" stroke="#c6c6c6" stroke-width="0.5"/><line x1="298.78" y1="464.70" x2="298.78" y2="465.60" stroke="#c6c6c6" stroke-width="0.5"/><line x1="317.02" y1="534.20" x2="317.02" y2="533.30" stroke="#c6c6c6" stroke-width="0.5"/><line x1="317.02" y1="464.70" x2="317.02" y2="465.60" stroke="#c6c6c6" stroke-width="0.5"/><line x1="335.26" y1="534.20" x2="335.26" y2="533.30" stroke="#c6c6c6" stroke-width="0.5"/><line x1="335.26" y1="464.70" x2="335.26" y2="465.60" stroke="#c6c6c6" stroke-width="0.5"/><line x1="353.50" y1="534.20" x2="353.50" y2="533.30" stroke="#c6c6c6" stroke-width="0.5"/><line x1="353.50" y1="464.70" x2="353.50" y2="465.60" stroke="#c6c6c6" stroke-width="0.5"/><line x1="262.30" y1="534.20" x2="263.20" y2="534.20" stroke="#c6c6c6" stroke-width="0.5"/><line x1="353.50" y1="534.20" x2="352.60" y2="534.20" stroke="#c6c6c6" stroke-width="0.5"/><line x1="262.30" y1="520.30" x2="263.20" y2="520.30" stroke="#c6c6c6" stroke-width="0.5"/><line x1="353.50" y1="520.30" x2="352.60" y2="520.30" stroke="#c6c6c6" stroke-width="0.5"/><line x1="262.30" y1="506.40" x2="263.20" y2="506.40" stroke="#c6c6c6" stroke-width="0.5"/><line x1="353.50" y1="506.40" x2="352.60" y2="506.40" stroke="#c6c6c6" stroke-width="0.5"/><line x1="262.30" y1="492.50" x2="263.20" y2="492.50" stroke="#c6c6c6" stroke-width="0.5"/><line x1="353.50" y1="492.50" x2="352.60" y2="492.50" stroke="#c6c6c6" stroke-width="0.5"/><line x1="262.30" y1="478.60" x2="263.20" y2="478.60" stroke="#c6c6c6" stroke-width="0.5"/><line x1="353.50" y1="478.60" x2="352.60" y2="478.60" stroke="#c6c6c6" stroke-width="0.5"/><line x1="262.30" y1="464.70" x2="263.20" y2="464.70" stroke="#c6c6c6" stroke-width="0.5"/><line x1="353.50" y1="464.70" x2="352.60" y2="464.70" stroke="#c6c6c6" stroke-width="0.5"/><text transform="translate(260.80,536.79) scale(0.935,1)" text-anchor="end" class="t">-1</text><text transform="translate(260.80,522.89) scale(0.935,1)" text-anchor="end" class="t">-0.8</text><text transform="translate(260.80,508.99) scale(0.935,1)" text-anchor="end" class="t">-0.6</text><text transform="translate(260.80,495.09) scale(0.935,1)" text-anchor="end" class="t">-0.4</text><text transform="translate(260.80,481.19) scale(0.935,1)" text-anchor="end" class="t">-0.2</text><text transform="translate(260.80,467.29) scale(0.935,1)" text-anchor="end" class="t">0</text><text transform="translate(262.30,542.23) scale(0.935,1)" text-anchor="middle" class="t">0</text><text transform="translate(280.54,542.23) scale(0.935,1)" text-anchor="middle" class="t">10</text><text transform="translate(298.78,542.23) scale(0.935,1)" text-anchor="middle" class="t">20</text><text transform="translate(317.02,542.23) scale(0.935,1)" text-anchor="middle" class="t">30</text><text transform="translate(335.26,542.23) scale(0.935,1)" text-anchor="middle" class="t">40</text><text transform="translate(353.50,542.23) scale(0.935,1)" text-anchor="middle" class="t">50</text></g><g><polygon points="385.07,521.23 386.90,523.11 388.72,521.06 390.55,517.04 392.37,511.98 394.19,507.22 396.02,502.52 397.84,498.51 399.67,495.01 401.49,492.00 403.31,489.48 405.14,487.32 406.96,485.67 408.79,484.42 410.61,483.44 412.43,482.68 414.26,482.06 416.08,481.60 417.91,481.20 419.73,480.91 421.55,480.85 423.38,480.89 425.20,480.95 427.03,481.03 428.85,481.14 430.67,481.26 432.50,481.48 434.32,481.79 436.15,482.17 437.97,482.57 439.79,482.95 441.62,483.33 443.44,483.73 445.27,484.15 447.09,484.56 448.91,484.96 450.74,485.34 452.56,485.72 454.39,486.09 456.21,486.45 458.03,486.79 459.86,487.12 461.68,487.43 463.51,487.74 465.33,488.04 467.15,488.33 468.98,488.61 470.80,488.88 472.63,489.14 472.63,509.71 470.80,509.64 468.98,509.57 467.15,509.49 465.33,509.42 463.51,509.35 461.68,509.28 459.86,509.20 458.03,509.13 456.21,509.06 454.39,508.98 452.56,508.91 450.74,508.84 448.91,508.77 447.09,508.70 445.27,508.63 443.44,508.56 441.62,508.48 439.79,508.40 437.97,508.29 436.15,508.15 434.32,508.01 432.50,507.89 430.67,507.83 428.85,507.83 427.03,507.83 425.20,507.83 423.38,507.83 421.55,507.83 419.73,507.87 417.91,508.09 416.08,508.39 414.26,508.80 412.43,509.35 410.61,509.97 408.79,510.69 406.96,511.59 405.14,512.84 403.31,514.51 401.49,516.36 399.67,518.47 397.84,520.76 396.02,523.15 394.19,525.73 392.37,527.70 390.55,529.10 388.72,529.71 386.90,528.50 385.07,521.98" fill="#a0a0a0"/><polygon points="385.07,521.42 386.90,524.99 388.72,524.33 390.55,521.87 392.37,517.98 394.19,513.91 396.02,509.53 397.84,505.79 399.67,502.52 401.49,499.69 403.31,497.37 405.14,495.38 406.96,493.78 408.79,492.49 410.61,491.41 412.43,490.52 414.26,489.76 416.08,489.14 417.91,488.59 419.73,488.16 421.55,487.96 423.38,487.85 425.20,487.76 427.03,487.69 428.85,487.65 430.67,487.65 432.50,487.73 434.32,487.90 436.15,488.12 437.97,488.36 439.79,488.60 441.62,488.85 443.44,489.15 445.27,489.46 447.09,489.77 448.91,490.06 450.74,490.34 452.56,490.60 454.39,490.86 456.21,491.11 458.03,491.35 459.86,491.57 461.68,491.79 463.51,492.00 465.33,492.20 467.15,492.39 468.98,492.58 470.80,492.75 472.63,492.92 472.63,506.13 470.80,506.07 468.98,506.01 467.15,505.95 465.33,505.87 463.51,505.80 461.68,505.71 459.86,505.63 458.03,505.54 456.21,505.44 454.39,505.34 452.56,505.23 450.74,505.11 448.91,504.99 447.09,504.85 445.27,504.70 443.44,504.54 441.62,504.39 439.79,504.25 437.97,504.12 436.15,503.97 434.32,503.84 432.50,503.73 430.67,503.68 428.85,503.68 427.03,503.68 425.20,503.68 423.38,503.68 421.55,503.68 419.73,503.71 417.91,503.85 416.08,504.05 414.26,504.37 412.43,504.85 410.61,505.45 408.79,506.33 406.96,507.42 405.14,508.73 403.31,510.36 401.49,512.22 399.67,514.46 397.84,516.92 396.02,519.45 394.19,522.13 392.37,524.52 390.55,526.87 388.72,528.01 386.90,527.20 385.07,521.79" fill="#e6e6e6"/><polyline points="385.07,521.60 386.90,525.69 388.72,526.69 390.55,525.39 392.37,523.12 394.19,520.31 396.02,517.28 397.84,514.12 399.67,511.22 401.49,508.55 403.31,506.24 405.14,504.16 406.96,502.43 408.79,500.96 410.61,499.74 412.43,498.80 414.26,498.03 416.08,497.45 417.91,497.00 419.73,496.65 421.55,496.42 423.38,496.23 425.20,496.13 427.03,496.13 428.85,496.13 430.67,496.13 432.50,496.19 434.32,496.29 436.15,496.43 437.97,496.57 439.79,496.71 441.62,496.84 443.44,496.98 445.27,497.12 447.09,497.28 448.91,497.43 450.74,497.61 452.56,497.80 454.39,497.99 456.21,498.18 458.03,498.35 459.86,498.50 461.68,498.64 463.51,498.78 465.33,498.91 467.15,499.03 468.98,499.14 470.80,499.24 472.63,499.33" fill="none" stroke="#1a1a1a" stroke-width="1.25" stroke-linejoin="round"/><rect x="383.25" y="464.70" width="91.20" height="69.50" fill="none" stroke="#c6c6c6" stroke-width="0.95"/><line x1="383.25" y1="534.20" x2="383.25" y2="533.30" stroke="#c6c6c6" stroke-width="0.5"/><line x1="383.25" y1="464.70" x2="383.25" y2="465.60" stroke="#c6c6c6" stroke-width="0.5"/><line x1="401.49" y1="534.20" x2="401.49" y2="533.30" stroke="#c6c6c6" stroke-width="0.5"/><line x1="401.49" y1="464.70" x2="401.49" y2="465.60" stroke="#c6c6c6" stroke-width="0.5"/><line x1="419.73" y1="534.20" x2="419.73" y2="533.30" stroke="#c6c6c6" stroke-width="0.5"/><line x1="419.73" y1="464.70" x2="419.73" y2="465.60" stroke="#c6c6c6" stroke-width="0.5"/><line x1="437.97" y1="534.20" x2="437.97" y2="533.30" stroke="#c6c6c6" stroke-width="0.5"/><line x1="437.97" y1="464.70" x2="437.97" y2="465.60" stroke="#c6c6c6" stroke-width="0.5"/><line x1="456.21" y1="534.20" x2="456.21" y2="533.30" stroke="#c6c6c6" stroke-width="0.5"/><line x1="456.21" y1="464.70" x2="456.21" y2="465.60" stroke="#c6c6c6" stroke-width="0.5"/><line x1="474.45" y1="534.20" x2="474.45" y2="533.30" stroke="#c6c6c6" stroke-width="0.5"/><line x1="474.45" y1="464.70" x2="474.45" y2="465.60" stroke="#c6c6c6" stroke-width="0.5"/><line x1="383.25" y1="534.20" x2="384.15" y2="534.20" stroke="#c6c6c6" stroke-width="0.5"/><line x1="474.45" y1="534.20" x2="473.55" y2="534.20" stroke="#c6c6c6" stroke-width="0.5"/><line x1="383.25" y1="511.03" x2="384.15" y2="511.03" stroke="#c6c6c6" stroke-width="0.5"/><line x1="474.45" y1="511.03" x2="473.55" y2="511.03" stroke="#c6c6c6" stroke-width="0.5"/><line x1="383.25" y1="487.87" x2="384.15" y2="487.87" stroke="#c6c6c6" stroke-width="0.5"/><line x1="474.45" y1="487.87" x2="473.55" y2="487.87" stroke="#c6c6c6" stroke-width="0.5"/><line x1="383.25" y1="464.70" x2="384.15" y2="464.70" stroke="#c6c6c6" stroke-width="0.5"/><line x1="474.45" y1="464.70" x2="473.55" y2="464.70" stroke="#c6c6c6" stroke-width="0.5"/><text transform="translate(381.75,536.79) scale(0.935,1)" text-anchor="end" class="t">-0.5</text><text transform="translate(381.75,513.62) scale(0.935,1)" text-anchor="end" class="t">0</text><text transform="translate(381.75,490.45) scale(0.935,1)" text-anchor="end" class="t">0.5</text><text transform="translate(381.75,467.29) scale(0.935,1)" text-anchor="end" class="t">1</text><text transform="translate(383.25,542.23) scale(0.935,1)" text-anchor="middle" class="t">0</text><text transform="translate(401.49,542.23) scale(0.935,1)" text-anchor="middle" class="t">10</text><text transform="translate(419.73,542.23) scale(0.935,1)" text-anchor="middle" class="t">20</text><text transform="translate(437.97,542.23) scale(0.935,1)" text-anchor="middle" class="t">30</text><text transform="translate(456.21,542.23) scale(0.935,1)" text-anchor="middle" class="t">40</text><text transform="translate(474.45,542.23) scale(0.935,1)" text-anchor="middle" class="t">50</text></g></g><text transform="translate(66.00,13.10) scale(0.935,1)" text-anchor="middle" class="ti">BAAFFM</text><text transform="translate(186.95,13.10) scale(0.935,1)" text-anchor="middle" class="ti">M1SL</text><text transform="translate(307.90,13.10) scale(0.935,1)" text-anchor="middle" class="ti">M2SL</text><text transform="translate(428.85,13.10) scale(0.935,1)" text-anchor="middle" class="ti">TOTRESNS</text><text transform="translate(66.00,102.96) scale(0.935,1)" text-anchor="middle" class="ti">BUSLOANS</text><text transform="translate(186.95,102.96) scale(0.935,1)" text-anchor="middle" class="ti">NONREVSL</text><text transform="translate(307.90,102.96) scale(0.935,1)" text-anchor="middle" class="ti">NAPMPRI</text><text transform="translate(428.85,102.96) scale(0.935,1)" text-anchor="middle" class="ti">PPIFGS</text><text transform="translate(66.00,192.82) scale(0.935,1)" text-anchor="middle" class="ti">PPIFCG</text><text transform="translate(186.95,192.82) scale(0.935,1)" text-anchor="middle" class="ti">PPIITM</text><text transform="translate(307.90,192.82) scale(0.935,1)" text-anchor="middle" class="ti">PPICRM</text><text transform="translate(428.85,192.82) scale(0.935,1)" text-anchor="middle" class="ti">CPIAUCSL</text><text transform="translate(66.00,282.68) scale(0.935,1)" text-anchor="middle" class="ti">CPIAPPSL</text><text transform="translate(186.95,282.68) scale(0.935,1)" text-anchor="middle" class="ti">CPITRNSL</text><text transform="translate(307.90,282.68) scale(0.935,1)" text-anchor="middle" class="ti">CPIMEDSL</text><text transform="translate(428.85,282.68) scale(0.935,1)" text-anchor="middle" class="ti">CUSR0000SAC</text><text transform="translate(66.00,372.54) scale(0.935,1)" text-anchor="middle" class="ti">CUSR0000SAD</text><text transform="translate(186.95,372.54) scale(0.935,1)" text-anchor="middle" class="ti">CUSR0000SAS</text><text transform="translate(307.90,372.54) scale(0.935,1)" text-anchor="middle" class="ti">CPILFESL</text><text transform="translate(428.85,372.54) scale(0.935,1)" text-anchor="middle" class="ti">CUSR0000SA0L2</text><text transform="translate(66.00,462.40) scale(0.935,1)" text-anchor="middle" class="ti">CUSR0000SA0L5</text><text transform="translate(186.95,462.40) scale(0.935,1)" text-anchor="middle" class="ti">CES2000000008</text><text transform="translate(307.90,462.40) scale(0.935,1)" text-anchor="middle" class="ti">CES3000000008</text><text transform="translate(428.85,462.40) scale(0.935,1)" text-anchor="middle" class="ti">MEI</text><g>
</g></svg></div>
</body></html>
